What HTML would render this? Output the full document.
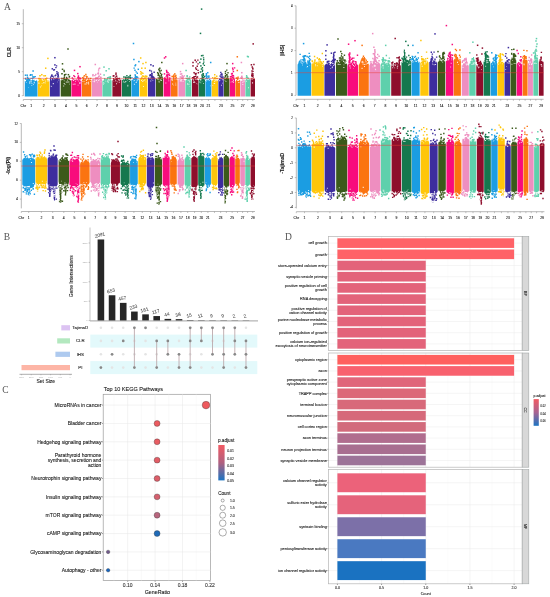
<!DOCTYPE html><html><head><meta charset="utf-8"><style>html,body{margin:0;padding:0;background:#fff;width:550px;height:597px;overflow:hidden;font-family:"Liberation Sans",sans-serif}</style></head><body><svg width="550" height="597" viewBox="0 0 550 597" style="display:block;will-change:transform">
<rect width="550" height="597" fill="#fff"/>
<text x="7.5" y="10.3" font-size="9.5" text-anchor="middle" fill="#555" font-family="Liberation Serif, serif" >A</text>
<line x1="23.3" y1="9.2" x2="23.3" y2="96" stroke="#888" stroke-width="0.6"/>
<line x1="21.8" y1="95.7" x2="23.3" y2="95.7" stroke="#888" stroke-width="0.5"/>
<text x="19.8" y="96.7" font-size="2.9" text-anchor="end" fill="#222" font-family="Liberation Sans, sans-serif"  stroke="#222" stroke-width="0.1">0</text>
<line x1="21.8" y1="71.7" x2="23.3" y2="71.7" stroke="#888" stroke-width="0.5"/>
<text x="19.8" y="72.7" font-size="2.9" text-anchor="end" fill="#222" font-family="Liberation Sans, sans-serif"  stroke="#222" stroke-width="0.1">5</text>
<line x1="21.8" y1="47.7" x2="23.3" y2="47.7" stroke="#888" stroke-width="0.5"/>
<text x="19.8" y="48.7" font-size="2.9" text-anchor="end" fill="#222" font-family="Liberation Sans, sans-serif"  stroke="#222" stroke-width="0.1">10</text>
<line x1="21.8" y1="23.7" x2="23.3" y2="23.7" stroke="#888" stroke-width="0.5"/>
<text x="19.8" y="24.7" font-size="2.9" text-anchor="end" fill="#222" font-family="Liberation Sans, sans-serif"  stroke="#222" stroke-width="0.1">15</text>
<line x1="23.3" y1="99.5" x2="255" y2="99.5" stroke="#888" stroke-width="0.6"/>
<line x1="23.3" y1="99.5" x2="23.3" y2="101" stroke="#888" stroke-width="0.5"/>
<text x="23.3" y="106.8" font-size="3.4" text-anchor="middle" fill="#222" font-family="Liberation Sans, sans-serif"  stroke="#222" stroke-width="0.1">Chr</text>
<line x1="31.15" y1="99.5" x2="31.15" y2="101" stroke="#888" stroke-width="0.5"/>
<text x="31.15" y="106.8" font-size="3.4" text-anchor="middle" fill="#222" font-family="Liberation Sans, sans-serif"  stroke="#222" stroke-width="0.1">1</text>
<line x1="43.65" y1="99.5" x2="43.65" y2="101" stroke="#888" stroke-width="0.5"/>
<text x="43.65" y="106.8" font-size="3.4" text-anchor="middle" fill="#222" font-family="Liberation Sans, sans-serif"  stroke="#222" stroke-width="0.1">2</text>
<line x1="54.85" y1="99.5" x2="54.85" y2="101" stroke="#888" stroke-width="0.5"/>
<text x="54.85" y="106.8" font-size="3.4" text-anchor="middle" fill="#222" font-family="Liberation Sans, sans-serif"  stroke="#222" stroke-width="0.1">3</text>
<line x1="65.85" y1="99.5" x2="65.85" y2="101" stroke="#888" stroke-width="0.5"/>
<text x="65.85" y="106.8" font-size="3.4" text-anchor="middle" fill="#222" font-family="Liberation Sans, sans-serif"  stroke="#222" stroke-width="0.1">4</text>
<line x1="76.4" y1="99.5" x2="76.4" y2="101" stroke="#888" stroke-width="0.5"/>
<text x="76.4" y="106.8" font-size="3.4" text-anchor="middle" fill="#222" font-family="Liberation Sans, sans-serif"  stroke="#222" stroke-width="0.1">5</text>
<line x1="86.7" y1="99.5" x2="86.7" y2="101" stroke="#888" stroke-width="0.5"/>
<text x="86.7" y="106.8" font-size="3.4" text-anchor="middle" fill="#222" font-family="Liberation Sans, sans-serif"  stroke="#222" stroke-width="0.1">6</text>
<line x1="97" y1="99.5" x2="97" y2="101" stroke="#888" stroke-width="0.5"/>
<text x="97" y="106.8" font-size="3.4" text-anchor="middle" fill="#222" font-family="Liberation Sans, sans-serif"  stroke="#222" stroke-width="0.1">7</text>
<line x1="107" y1="99.5" x2="107" y2="101" stroke="#888" stroke-width="0.5"/>
<text x="107" y="106.8" font-size="3.4" text-anchor="middle" fill="#222" font-family="Liberation Sans, sans-serif"  stroke="#222" stroke-width="0.1">8</text>
<line x1="116.9" y1="99.5" x2="116.9" y2="101" stroke="#888" stroke-width="0.5"/>
<text x="116.9" y="106.8" font-size="3.4" text-anchor="middle" fill="#222" font-family="Liberation Sans, sans-serif"  stroke="#222" stroke-width="0.1">9</text>
<line x1="126.5" y1="99.5" x2="126.5" y2="101" stroke="#888" stroke-width="0.5"/>
<text x="126.5" y="106.8" font-size="3.4" text-anchor="middle" fill="#222" font-family="Liberation Sans, sans-serif"  stroke="#222" stroke-width="0.1">10</text>
<line x1="135.2" y1="99.5" x2="135.2" y2="101" stroke="#888" stroke-width="0.5"/>
<text x="135.2" y="106.8" font-size="3.4" text-anchor="middle" fill="#222" font-family="Liberation Sans, sans-serif"  stroke="#222" stroke-width="0.1">11</text>
<line x1="143.5" y1="99.5" x2="143.5" y2="101" stroke="#888" stroke-width="0.5"/>
<text x="143.5" y="106.8" font-size="3.4" text-anchor="middle" fill="#222" font-family="Liberation Sans, sans-serif"  stroke="#222" stroke-width="0.1">12</text>
<line x1="151.7" y1="99.5" x2="151.7" y2="101" stroke="#888" stroke-width="0.5"/>
<text x="151.7" y="106.8" font-size="3.4" text-anchor="middle" fill="#222" font-family="Liberation Sans, sans-serif"  stroke="#222" stroke-width="0.1">13</text>
<line x1="159.5" y1="99.5" x2="159.5" y2="101" stroke="#888" stroke-width="0.5"/>
<text x="159.5" y="106.8" font-size="3.4" text-anchor="middle" fill="#222" font-family="Liberation Sans, sans-serif"  stroke="#222" stroke-width="0.1">14</text>
<line x1="167.1" y1="99.5" x2="167.1" y2="101" stroke="#888" stroke-width="0.5"/>
<text x="167.1" y="106.8" font-size="3.4" text-anchor="middle" fill="#222" font-family="Liberation Sans, sans-serif"  stroke="#222" stroke-width="0.1">15</text>
<line x1="174.3" y1="99.5" x2="174.3" y2="101" stroke="#888" stroke-width="0.5"/>
<text x="174.3" y="106.8" font-size="3.4" text-anchor="middle" fill="#222" font-family="Liberation Sans, sans-serif"  stroke="#222" stroke-width="0.1">16</text>
<line x1="181.7" y1="99.5" x2="181.7" y2="101" stroke="#888" stroke-width="0.5"/>
<text x="181.7" y="106.8" font-size="3.4" text-anchor="middle" fill="#222" font-family="Liberation Sans, sans-serif"  stroke="#222" stroke-width="0.1">17</text>
<line x1="188.4" y1="99.5" x2="188.4" y2="101" stroke="#888" stroke-width="0.5"/>
<text x="188.4" y="106.8" font-size="3.4" text-anchor="middle" fill="#222" font-family="Liberation Sans, sans-serif"  stroke="#222" stroke-width="0.1">18</text>
<line x1="195.2" y1="99.5" x2="195.2" y2="101" stroke="#888" stroke-width="0.5"/>
<text x="195.2" y="106.8" font-size="3.4" text-anchor="middle" fill="#222" font-family="Liberation Sans, sans-serif"  stroke="#222" stroke-width="0.1">19</text>
<line x1="201.9" y1="99.5" x2="201.9" y2="101" stroke="#888" stroke-width="0.5"/>
<text x="201.9" y="106.8" font-size="3.4" text-anchor="middle" fill="#222" font-family="Liberation Sans, sans-serif"  stroke="#222" stroke-width="0.1">20</text>
<line x1="208.4" y1="99.5" x2="208.4" y2="101" stroke="#888" stroke-width="0.5"/>
<text x="208.4" y="106.8" font-size="3.4" text-anchor="middle" fill="#222" font-family="Liberation Sans, sans-serif"  stroke="#222" stroke-width="0.1">21</text>
<line x1="214.9" y1="99.5" x2="214.9" y2="101" stroke="#888" stroke-width="0.5"/>
<line x1="221" y1="99.5" x2="221" y2="101" stroke="#888" stroke-width="0.5"/>
<text x="221" y="106.8" font-size="3.4" text-anchor="middle" fill="#222" font-family="Liberation Sans, sans-serif"  stroke="#222" stroke-width="0.1">23</text>
<line x1="226.7" y1="99.5" x2="226.7" y2="101" stroke="#888" stroke-width="0.5"/>
<line x1="232.4" y1="99.5" x2="232.4" y2="101" stroke="#888" stroke-width="0.5"/>
<text x="232.4" y="106.8" font-size="3.4" text-anchor="middle" fill="#222" font-family="Liberation Sans, sans-serif"  stroke="#222" stroke-width="0.1">25</text>
<line x1="237.7" y1="99.5" x2="237.7" y2="101" stroke="#888" stroke-width="0.5"/>
<line x1="242.7" y1="99.5" x2="242.7" y2="101" stroke="#888" stroke-width="0.5"/>
<text x="242.7" y="106.8" font-size="3.4" text-anchor="middle" fill="#222" font-family="Liberation Sans, sans-serif"  stroke="#222" stroke-width="0.1">27</text>
<line x1="247.7" y1="99.5" x2="247.7" y2="101" stroke="#888" stroke-width="0.5"/>
<line x1="252.8" y1="99.5" x2="252.8" y2="101" stroke="#888" stroke-width="0.5"/>
<text x="252.8" y="106.8" font-size="3.4" text-anchor="middle" fill="#222" font-family="Liberation Sans, sans-serif"  stroke="#222" stroke-width="0.1">29</text>
<path d="M24.8 80.85 L25.4 81.52 L26 80.9 L26.6 79.61 L27.2 79.99 L27.8 79.92 L28.4 80.24 L29 80.46 L29.6 79.35 L30.2 79.25 L30.8 80.54 L31.4 79.89 L32 80.42 L32.6 79.2 L33.2 79.91 L33.8 80.35 L34.4 79.57 L35 80.71 L35.6 80.64 L36.2 79.65 L36.8 80.12 L37.4 81.43 L37.5 82.14 L37.5 96.6 L24.8 96.6zM29.06 78.99h1.4v1.4h-1.4zM24.94 77.87h1.4v1.4h-1.4zM27.19 77.78h1.4v1.4h-1.4zM27.33 78.68h1.4v1.4h-1.4zM27.3 79h1.4v1.4h-1.4zM27.99 77.78h1.4v1.4h-1.4zM24.85 78.37h1.4v1.4h-1.4zM32.11 77.78h1.4v1.4h-1.4zM26.78 76.53h1.4v1.4h-1.4zM26.01 79.17h1.4v1.4h-1.4zM28.49 78.91h1.4v1.4h-1.4zM29.54 74.58h1.4v1.4h-1.4zM32.44 76.69h1.4v1.4h-1.4zM31.47 74.37h1.4v1.4h-1.4zM34.5 75.88h1.4v1.4h-1.4zM29.97 74.04h1.4v1.4h-1.4zM32.26 75.88h1.4v1.4h-1.4zM30.39 77.68h1.4v1.4h-1.4z" fill="#1B9DE2"/>
<path d="M32.94 84.18h0.94v0.94h-0.94zM29.26 82.82h0.99v0.99h-0.99zM30.98 80.94h0.8v0.8h-0.8zM30.56 80.4h0.95v0.95h-0.95zM36.07 79.72h0.9v0.9h-0.9zM29.42 81.15h1.09v1.09h-1.09zM33.72 82.67h0.87v0.87h-0.87zM34.61 79.86h1.08v1.08h-1.08zM31.6 83.17h0.83v0.83h-0.83zM28.29 86.89h0.6v0.6h-0.6zM33.79 81.73h1.01v1.01h-1.01zM35.01 79.9h0.86v0.86h-0.86zM31.42 85.04h0.81v0.81h-0.81zM25.87 82.32h0.7v0.7h-0.7zM30.78 82.42h0.84v0.84h-0.84zM29.1 81.66h0.91v0.91h-0.91z" fill="#fff" fill-opacity="0.85"/>
<path d="M37.9 81.62 L38.5 80.89 L39.1 79.72 L39.7 79.57 L40.3 79.48 L40.9 80.14 L41.5 80.58 L42.1 80.48 L42.7 80.48 L43.3 80.51 L43.9 79.61 L44.5 80.55 L45.1 80.28 L45.7 79.33 L46.3 79.23 L46.9 79.22 L47.5 80.41 L48.1 80 L48.7 80.26 L49.3 81.56 L49.4 81.19 L49.4 96.6 L37.9 96.6zM38.43 77.87h1.4v1.4h-1.4zM39.38 78.46h1.4v1.4h-1.4zM40.57 79.15h1.4v1.4h-1.4zM45.17 78.12h1.4v1.4h-1.4zM42.67 78.95h1.4v1.4h-1.4zM37.95 78.19h1.4v1.4h-1.4zM39.67 78.34h1.4v1.4h-1.4zM38.84 77.95h1.4v1.4h-1.4zM39.9 78.32h1.4v1.4h-1.4zM44.06 79.18h1.4v1.4h-1.4zM39.24 75.02h1.4v1.4h-1.4zM39.38 75.08h1.4v1.4h-1.4zM44.71 75.02h1.4v1.4h-1.4zM46 77.6h1.4v1.4h-1.4z" fill="#FFC60A"/>
<path d="M43.46 80.21h0.71v0.71h-0.71zM44.74 82.72h0.76v0.76h-0.76zM44.63 82.1h0.63v0.63h-0.63zM41.28 85.62h0.75v0.75h-0.75zM46.82 80.85h0.76v0.76h-0.76zM47.64 79.76h0.73v0.73h-0.73zM38.26 82.59h1.04v1.04h-1.04zM38.63 82.8h0.89v0.89h-0.89zM39.88 86.44h1.03v1.03h-1.03zM47.95 80.62h0.79v0.79h-0.79zM41.78 83.08h0.7v0.7h-0.7zM45.05 81.47h0.65v0.65h-0.65zM44.92 80.43h0.75v0.75h-0.75zM43.12 82.25h1.05v1.05h-1.05z" fill="#fff" fill-opacity="0.85"/>
<path d="M49.9 78.17 L50.5 77.98 L51.1 77.7 L51.7 78.28 L52.3 77.95 L52.9 77.24 L53.5 77.04 L54.1 77.78 L54.7 78.04 L55.3 78.19 L55.9 77.25 L56.5 78.11 L57.1 77.8 L57.7 77.48 L58.3 78.52 L58.9 77.8 L59.5 79.06 L59.8 78.28 L59.8 96.6 L49.9 96.6zM51.21 74.28h1.4v1.4h-1.4zM57.81 76.26h1.4v1.4h-1.4zM55.04 74.5h1.4v1.4h-1.4zM57.19 75.94h1.4v1.4h-1.4zM52.29 75.86h1.4v1.4h-1.4zM57.42 74.04h1.4v1.4h-1.4zM57.6 74.69h1.4v1.4h-1.4zM50.9 76.18h1.4v1.4h-1.4zM50.05 76.59h1.4v1.4h-1.4zM57.41 72.25h1.4v1.4h-1.4zM57.07 74.04h1.4v1.4h-1.4zM55.86 65.18h1.4v1.4h-1.4zM55.23 66.94h1.4v1.4h-1.4zM53.76 68.9h1.4v1.4h-1.4zM56.19 71.11h1.4v1.4h-1.4zM56.29 72.92h1.4v1.4h-1.4zM54.35 75.17h1.4v1.4h-1.4z" fill="#3D2D9E"/>
<path d="M57.25 81.63h0.65v0.65h-0.65zM51.13 77.33h1.04v1.04h-1.04zM50.63 77.68h0.81v0.81h-0.81zM51.32 86.08h0.68v0.68h-0.68zM52.18 77.02h1.06v1.06h-1.06zM53.3 78.35h1.09v1.09h-1.09zM57.83 77.71h0.84v0.84h-0.84zM51.07 79.24h0.93v0.93h-0.93zM50.65 85.65h0.75v0.75h-0.75zM55.24 77.65h0.82v0.82h-0.82zM52.76 83.08h1.08v1.08h-1.08zM58.42 79.73h0.66v0.66h-0.66z" fill="#fff" fill-opacity="0.85"/>
<path d="M60.7 79.98 L61.3 80.15 L61.9 80.25 L62.5 79.07 L63.1 79.3 L63.7 79.26 L64.3 78.61 L64.9 79.07 L65.5 78.69 L66.1 78.59 L66.7 78.33 L67.3 78.65 L67.9 79.77 L68.5 78.92 L69.1 79.24 L69.7 79.63 L70.3 80.59 L70.9 80.18 L71 80.13 L71 96.6 L60.7 96.6zM63.54 77.2h1.4v1.4h-1.4zM68.81 75.82h1.4v1.4h-1.4zM63.32 77.41h1.4v1.4h-1.4zM65.88 76.79h1.4v1.4h-1.4zM66.04 78.29h1.4v1.4h-1.4zM62.77 78.02h1.4v1.4h-1.4zM61.17 77.79h1.4v1.4h-1.4zM61.2 78.13h1.4v1.4h-1.4zM66.41 77.67h1.4v1.4h-1.4zM68.52 76.28h1.4v1.4h-1.4zM65.16 73.72h1.4v1.4h-1.4zM61.22 73.1h1.4v1.4h-1.4zM63.4 69.78h1.4v1.4h-1.4zM63.53 70.92h1.4v1.4h-1.4zM61.39 72.91h1.4v1.4h-1.4zM63.83 74.49h1.4v1.4h-1.4zM63.75 76.14h1.4v1.4h-1.4z" fill="#3B5A1B"/>
<path d="M69.11 83.84h0.62v0.62h-0.62zM63.72 82.91h1.05v1.05h-1.05zM68.33 81.61h0.97v0.97h-0.97zM67.16 80.05h0.68v0.68h-0.68zM67.25 81.41h0.93v0.93h-0.93zM63.2 85.59h1v1h-1zM65.84 81.6h0.87v0.87h-0.87zM68.52 81.5h0.77v0.77h-0.77zM63.44 79.56h0.61v0.61h-0.61zM66.81 82.06h0.63v0.63h-0.63zM64.25 80.62h0.67v0.67h-0.67zM62.19 78.92h0.8v0.8h-0.8zM64.54 84.18h0.91v0.91h-0.91z" fill="#fff" fill-opacity="0.85"/>
<path d="M71.4 80.51 L72 79.67 L72.6 80.03 L73.2 79.5 L73.8 79.74 L74.4 79.4 L75 79.8 L75.6 79.87 L76.2 79.08 L76.8 79.49 L77.4 79.47 L78 79.06 L78.6 79.36 L79.2 79.6 L79.8 80.31 L80.4 80.81 L81 80.26 L81.4 81.17 L81.4 96.6 L71.4 96.6zM71.63 77.29h1.4v1.4h-1.4zM79.1 78.07h1.4v1.4h-1.4zM72.64 78.51h1.4v1.4h-1.4zM74.01 75.91h1.4v1.4h-1.4zM77.43 78.01h1.4v1.4h-1.4zM77.51 77.7h1.4v1.4h-1.4zM77.83 76.52h1.4v1.4h-1.4zM79.27 77.26h1.4v1.4h-1.4zM79.84 78.01h1.4v1.4h-1.4zM73.16 75.12h1.4v1.4h-1.4zM78.02 77.19h1.4v1.4h-1.4zM77.73 75.15h1.4v1.4h-1.4zM77.13 76.71h1.4v1.4h-1.4z" fill="#F80C7C"/>
<path d="M78.02 80h0.62v0.62h-0.62zM80.08 80.64h0.73v0.73h-0.73zM79.33 82.9h1.08v1.08h-1.08zM72.9 79.96h0.93v0.93h-0.93zM77.67 84.78h0.82v0.82h-0.82zM79.46 81.9h1v1h-1zM75.5 79.69h0.68v0.68h-0.68zM74.39 83.56h1.08v1.08h-1.08zM72.75 83.73h0.9v0.9h-0.9zM75.27 80.99h0.72v0.72h-0.72zM78.2 80.9h0.6v0.6h-0.6zM73.34 79.62h0.91v0.91h-0.91zM76.78 79.22h1.02v1.02h-1.02z" fill="#fff" fill-opacity="0.85"/>
<path d="M82 79.97 L82.6 79.62 L83.2 79.55 L83.8 78.64 L84.4 79.14 L85 78.6 L85.6 79.29 L86.2 79.47 L86.8 79.49 L87.4 79.76 L88 79.07 L88.6 78.99 L89.2 79.57 L89.8 79.59 L90.4 79.75 L91 79.93 L91.4 80.09 L91.4 96.6 L82 96.6zM82.71 78.05h1.4v1.4h-1.4zM88.08 77.64h1.4v1.4h-1.4zM86.38 75.99h1.4v1.4h-1.4zM89.98 77.78h1.4v1.4h-1.4zM82.95 76.47h1.4v1.4h-1.4zM84.41 78.3h1.4v1.4h-1.4zM86.03 77.23h1.4v1.4h-1.4zM81.81 76.96h1.4v1.4h-1.4zM85.58 75.68h1.4v1.4h-1.4zM85.15 73.77h1.4v1.4h-1.4z" fill="#FB7410"/>
<path d="M87.74 82.93h0.79v0.79h-0.79zM84.09 78.91h0.6v0.6h-0.6zM84.46 83.55h1.01v1.01h-1.01zM86.24 82.04h1.09v1.09h-1.09zM85.91 80.07h0.97v0.97h-0.97zM90.13 81.28h0.75v0.75h-0.75zM83.74 81.3h0.78v0.78h-0.78zM82.43 81.13h0.79v0.79h-0.79zM85.68 83.49h0.89v0.89h-0.89zM88 81.82h1.05v1.05h-1.05zM88.18 83.5h0.92v0.92h-0.92zM87.4 78.77h0.91v0.91h-0.91z" fill="#fff" fill-opacity="0.85"/>
<path d="M92 79.29 L92.6 79.17 L93.2 78.69 L93.8 78.7 L94.4 78.45 L95 78.55 L95.6 78.43 L96.2 78.5 L96.8 78.17 L97.4 77.76 L98 77.62 L98.6 78.33 L99.2 78.6 L99.8 78.07 L100.4 77.6 L101 79.17 L101.6 79.1 L102 79.39 L102 96.6 L92 96.6zM92.21 74.99h1.4v1.4h-1.4zM95.6 77.15h1.4v1.4h-1.4zM95 77.15h1.4v1.4h-1.4zM96.36 77.07h1.4v1.4h-1.4zM100.32 76.78h1.4v1.4h-1.4zM98 75.98h1.4v1.4h-1.4zM97.24 77.06h1.4v1.4h-1.4zM99.77 76.38h1.4v1.4h-1.4zM94.22 74.95h1.4v1.4h-1.4zM95.11 73.85h1.4v1.4h-1.4zM98.43 75.23h1.4v1.4h-1.4zM97.68 73.05h1.4v1.4h-1.4zM98 68.41h1.4v1.4h-1.4zM97.89 70.16h1.4v1.4h-1.4zM97.71 72.19h1.4v1.4h-1.4zM99.79 73.53h1.4v1.4h-1.4zM97.86 75.96h1.4v1.4h-1.4z" fill="#EE8EC0"/>
<path d="M98.23 80.05h1.02v1.02h-1.02zM92.68 81h0.76v0.76h-0.76zM95.94 79.98h0.98v0.98h-0.98zM99.06 79.21h0.68v0.68h-0.68zM100.56 81.5h0.82v0.82h-0.82zM100.1 78.19h0.73v0.73h-0.73zM96.89 81.72h0.67v0.67h-0.67zM93.47 78.12h0.98v0.98h-0.98zM94.34 80.29h0.96v0.96h-0.96zM98.44 78.09h0.8v0.8h-0.8zM96.61 79.01h0.65v0.65h-0.65zM93.85 81.28h1.04v1.04h-1.04zM94.31 79.07h0.62v0.62h-0.62z" fill="#fff" fill-opacity="0.85"/>
<path d="M102.4 80.77 L103 80.46 L103.6 80.22 L104.2 79.18 L104.8 78.75 L105.4 79.54 L106 78.39 L106.6 79.31 L107.2 78.35 L107.8 78.84 L108.4 78.99 L109 78.8 L109.6 78.47 L110.2 78.89 L110.8 80.31 L111.4 80.22 L111.6 80.57 L111.6 96.6 L102.4 96.6zM103.94 78.03h1.4v1.4h-1.4zM107.07 77.08h1.4v1.4h-1.4zM109.66 77.87h1.4v1.4h-1.4zM108.74 78.28h1.4v1.4h-1.4zM109.23 77.72h1.4v1.4h-1.4zM106.96 77.05h1.4v1.4h-1.4zM109.73 75.97h1.4v1.4h-1.4zM108.42 76.6h1.4v1.4h-1.4zM109.69 76.84h1.4v1.4h-1.4zM103.39 74.24h1.4v1.4h-1.4z" fill="#5ED0AC"/>
<path d="M103.22 79.73h0.83v0.83h-0.83zM109.06 79.56h1.05v1.05h-1.05zM103.16 84.02h0.62v0.62h-0.62zM104.95 80.82h0.66v0.66h-0.66zM103.41 82.72h0.97v0.97h-0.97zM107.91 79.23h1.02v1.02h-1.02zM107.7 81.72h1.08v1.08h-1.08zM107.72 81.35h0.72v0.72h-0.72zM103.27 82.29h0.77v0.77h-0.77zM107.36 80.15h0.88v0.88h-0.88zM106.77 81.2h0.81v0.81h-0.81z" fill="#fff" fill-opacity="0.85"/>
<path d="M112.4 79.96 L113 80.57 L113.6 79.36 L114.2 79.26 L114.8 79.34 L115.4 79.39 L116 79.35 L116.6 79.4 L117.2 78.6 L117.8 79.76 L118.4 78.44 L119 79.67 L119.6 79.57 L120.2 80.04 L120.8 79.24 L121.4 79.79 L121.4 96.6 L112.4 96.6zM118.7 77.81h1.4v1.4h-1.4zM115.95 75.52h1.4v1.4h-1.4zM112.52 75.35h1.4v1.4h-1.4zM116.45 77.61h1.4v1.4h-1.4zM115.36 78.04h1.4v1.4h-1.4zM117.86 78.07h1.4v1.4h-1.4zM116.4 78.09h1.4v1.4h-1.4zM112.92 78.12h1.4v1.4h-1.4zM115.27 73.97h1.4v1.4h-1.4zM114.71 76.38h1.4v1.4h-1.4z" fill="#8E0E2C"/>
<path d="M118.58 79.71h1v1h-1zM119.17 79.68h0.72v0.72h-0.72zM116.94 81.59h0.77v0.77h-0.77zM115.26 80.13h0.89v0.89h-0.89zM113.51 85.88h0.93v0.93h-0.93zM116.01 83.26h1.02v1.02h-1.02zM117.96 78.93h0.87v0.87h-0.87zM119.5 79.88h0.68v0.68h-0.68zM115.51 80.74h0.86v0.86h-0.86zM113.61 80.9h0.62v0.62h-0.62zM118.77 81.78h0.93v0.93h-0.93z" fill="#fff" fill-opacity="0.85"/>
<path d="M122 80.14 L122.6 79.64 L123.2 79.24 L123.8 78.72 L124.4 79.4 L125 79 L125.6 79.04 L126.2 78.44 L126.8 79.66 L127.4 78.72 L128 78.72 L128.6 78.31 L129.2 79.77 L129.8 79.45 L130.4 80.62 L131 81.12 L131 96.6 L122 96.6zM129.56 77.02h1.4v1.4h-1.4zM129.18 75.38h1.4v1.4h-1.4zM128.21 77.17h1.4v1.4h-1.4zM126.4 77.02h1.4v1.4h-1.4zM129.74 77.84h1.4v1.4h-1.4zM127.77 76.17h1.4v1.4h-1.4zM124.69 76.42h1.4v1.4h-1.4zM125.02 77.59h1.4v1.4h-1.4zM129.64 74.77h1.4v1.4h-1.4zM123.14 76.31h1.4v1.4h-1.4z" fill="#15784E"/>
<path d="M127.54 84.69h0.69v0.69h-0.69zM125.36 81.03h0.96v0.96h-0.96zM122.8 81.69h0.73v0.73h-0.73zM123.23 80.83h0.73v0.73h-0.73zM127.16 79.88h0.64v0.64h-0.64zM128.63 78.74h0.92v0.92h-0.92zM123.69 79.02h0.78v0.78h-0.78zM128.59 79h0.96v0.96h-0.96zM124.38 81.63h1.03v1.03h-1.03zM129 81.15h0.81v0.81h-0.81zM127.3 85.44h1v1h-1z" fill="#fff" fill-opacity="0.85"/>
<path d="M131.4 80.3 L132 79.96 L132.6 79.78 L133.2 78.11 L133.8 78.02 L134.4 78.89 L135 78.93 L135.6 78.52 L136.2 78.48 L136.8 78.35 L137.4 79.27 L138 79.61 L138.6 79.76 L139 79.2 L139 96.6 L131.4 96.6zM136.82 76.87h1.4v1.4h-1.4zM134.23 77.36h1.4v1.4h-1.4zM135.76 76.7h1.4v1.4h-1.4zM131.24 76.93h1.4v1.4h-1.4zM137.06 76.99h1.4v1.4h-1.4zM136.13 76.08h1.4v1.4h-1.4zM134.97 77.48h1.4v1.4h-1.4zM134.67 74.23h1.4v1.4h-1.4zM136.6 72.59h1.4v1.4h-1.4zM134.41 65.11h1.4v1.4h-1.4zM133.43 67.39h1.4v1.4h-1.4zM134.28 69.52h1.4v1.4h-1.4zM135.45 71.21h1.4v1.4h-1.4zM134.43 74.13h1.4v1.4h-1.4zM134.73 75.78h1.4v1.4h-1.4z" fill="#1B9DE2"/>
<path d="M133.89 83.73h1.05v1.05h-1.05zM135.69 82.04h1.05v1.05h-1.05zM137.33 79.76h0.83v0.83h-0.83zM136.58 80.53h0.79v0.79h-0.79zM136.28 80.79h0.83v0.83h-0.83zM132.51 78.43h0.78v0.78h-0.78zM134.33 79.97h0.73v0.73h-0.73zM136.9 78.26h0.89v0.89h-0.89zM133.49 80.39h0.86v0.86h-0.86z" fill="#fff" fill-opacity="0.85"/>
<path d="M139.6 79.32 L140.2 78.77 L140.8 77.87 L141.4 77.94 L142 77.48 L142.6 77.84 L143.2 77.49 L143.8 78.25 L144.4 77.85 L145 76.85 L145.6 76.91 L146.2 78.73 L146.8 78.03 L147.4 78.18 L147.4 96.6 L139.6 96.6zM141.12 76.78h1.4v1.4h-1.4zM142.66 75.45h1.4v1.4h-1.4zM144.32 76.38h1.4v1.4h-1.4zM145.07 75.17h1.4v1.4h-1.4zM146.17 75.78h1.4v1.4h-1.4zM143.14 75.54h1.4v1.4h-1.4zM145.83 76.52h1.4v1.4h-1.4zM140.1 73.19h1.4v1.4h-1.4zM142.25 72.71h1.4v1.4h-1.4zM140.04 71.08h1.4v1.4h-1.4zM140.68 73.43h1.4v1.4h-1.4zM141.81 75.25h1.4v1.4h-1.4z" fill="#FFC60A"/>
<path d="M144.13 79.58h0.93v0.93h-0.93zM141.8 78.63h0.85v0.85h-0.85zM145.69 81.56h0.65v0.65h-0.65zM142.27 80.9h1.05v1.05h-1.05zM141.13 80.07h1.04v1.04h-1.04zM146.18 77.53h0.74v0.74h-0.74zM143.1 80.12h0.71v0.71h-0.71zM144.73 79.42h0.77v0.77h-0.77zM142.95 86.03h0.93v0.93h-0.93zM145.6 77.44h1.08v1.08h-1.08z" fill="#fff" fill-opacity="0.85"/>
<path d="M148 77.57 L148.6 77.52 L149.2 76.88 L149.8 76.92 L150.4 77.05 L151 76.07 L151.6 76.14 L152.2 76.83 L152.8 76.36 L153.4 75.91 L154 76.33 L154.6 77.4 L155.2 77.94 L155.4 78.68 L155.4 96.6 L148 96.6zM151.21 75.18h1.4v1.4h-1.4zM150.45 75.3h1.4v1.4h-1.4zM149.59 75.43h1.4v1.4h-1.4zM149.17 74.76h1.4v1.4h-1.4zM150.15 74.55h1.4v1.4h-1.4zM151.68 75.57h1.4v1.4h-1.4zM153.43 71.62h1.4v1.4h-1.4zM151.22 74.17h1.4v1.4h-1.4zM150.7 70.45h1.4v1.4h-1.4zM151.07 72.52h1.4v1.4h-1.4zM149.58 73.96h1.4v1.4h-1.4z" fill="#3D2D9E"/>
<path d="M150.35 77.28h0.73v0.73h-0.73zM148.88 77.25h0.87v0.87h-0.87zM152.52 80.35h0.71v0.71h-0.71zM149.51 77.82h0.88v0.88h-0.88zM153.62 76.44h0.61v0.61h-0.61zM150.12 76.18h0.91v0.91h-0.91zM148.74 76.68h1.09v1.09h-1.09zM150.33 80.52h0.9v0.9h-0.9zM151.47 78.82h0.67v0.67h-0.67z" fill="#fff" fill-opacity="0.85"/>
<path d="M156 78.54 L156.6 78.89 L157.2 78.27 L157.8 76.77 L158.4 76.82 L159 77.86 L159.6 76.87 L160.2 77.21 L160.8 77.13 L161.4 76.94 L162 77.39 L162.6 78.04 L163 78.78 L163 96.6 L156 96.6zM161.4 76.62h1.4v1.4h-1.4zM159.63 76.69h1.4v1.4h-1.4zM157.44 74.69h1.4v1.4h-1.4zM158.89 75.31h1.4v1.4h-1.4zM157.91 73.73h1.4v1.4h-1.4zM160.62 75.1h1.4v1.4h-1.4zM161.02 73.78h1.4v1.4h-1.4zM159.87 72.92h1.4v1.4h-1.4zM159.12 67.54h1.4v1.4h-1.4zM158.61 69.76h1.4v1.4h-1.4zM159.33 71.27h1.4v1.4h-1.4zM157.59 73.09h1.4v1.4h-1.4zM157.95 74.66h1.4v1.4h-1.4z" fill="#3B5A1B"/>
<path d="M158.71 81.54h0.87v0.87h-0.87zM157.73 77.57h0.84v0.84h-0.84zM158.65 80.83h0.65v0.65h-0.65zM158.38 79.19h0.87v0.87h-0.87zM160.88 80.12h0.96v0.96h-0.96zM160.03 79.56h0.94v0.94h-0.94zM157.11 77.46h1.06v1.06h-1.06zM157.06 78.51h1.02v1.02h-1.02zM161 78.56h0.77v0.77h-0.77z" fill="#fff" fill-opacity="0.85"/>
<path d="M163.6 78.56 L164.2 76.92 L164.8 77.54 L165.4 76.31 L166 76.4 L166.6 75.89 L167.2 76.66 L167.8 76.13 L168.4 76.77 L169 77.14 L169.6 77.31 L170.2 76.83 L170.6 78.66 L170.6 96.6 L163.6 96.6zM168.92 74.95h1.4v1.4h-1.4zM166.77 74.73h1.4v1.4h-1.4zM168.7 73.44h1.4v1.4h-1.4zM166.99 75.19h1.4v1.4h-1.4zM165.93 74.49h1.4v1.4h-1.4zM167.03 75.22h1.4v1.4h-1.4zM166.22 74.25h1.4v1.4h-1.4zM165.84 69.84h1.4v1.4h-1.4zM166.17 71.77h1.4v1.4h-1.4zM167.36 73.82h1.4v1.4h-1.4z" fill="#F80C7C"/>
<path d="M165.4 82.57h0.93v0.93h-0.93zM168.23 76.67h1.01v1.01h-1.01zM165.28 76.85h0.88v0.88h-0.88zM165.99 78.23h0.68v0.68h-0.68zM168.08 78.23h1.04v1.04h-1.04zM165.81 77.34h0.93v0.93h-0.93zM169.37 76.23h0.82v0.82h-0.82zM166.06 77.13h0.75v0.75h-0.75zM168.35 80.38h0.92v0.92h-0.92z" fill="#fff" fill-opacity="0.85"/>
<path d="M171 79.97 L171.6 78.75 L172.2 79.26 L172.8 79.13 L173.4 77.98 L174 78.73 L174.6 78.48 L175.2 78.25 L175.8 78.84 L176.4 79.74 L177 78.69 L177.6 80.58 L177.6 96.6 L171 96.6zM172.95 77.01h1.4v1.4h-1.4zM175.47 76.79h1.4v1.4h-1.4zM171.36 75.82h1.4v1.4h-1.4zM172.68 75.79h1.4v1.4h-1.4zM175.19 77.42h1.4v1.4h-1.4zM173.38 76.2h1.4v1.4h-1.4zM174.85 75.62h1.4v1.4h-1.4zM173.27 74.23h1.4v1.4h-1.4zM175.18 74.64h1.4v1.4h-1.4zM172.85 75.93h1.4v1.4h-1.4z" fill="#FB7410"/>
<path d="M172.04 78.82h0.61v0.61h-0.61zM171.71 80.12h0.93v0.93h-0.93zM175.42 82.79h0.74v0.74h-0.74zM172.04 83.49h1.07v1.07h-1.07zM171.49 79.08h0.8v0.8h-0.8zM174.53 78.64h0.87v0.87h-0.87zM173.45 84.8h0.6v0.6h-0.6zM175.35 84.54h0.93v0.93h-0.93z" fill="#fff" fill-opacity="0.85"/>
<path d="M178.4 79.69 L179 79.04 L179.6 79.42 L180.2 79.2 L180.8 79.24 L181.4 77.98 L182 78.64 L182.6 78.52 L183.2 78.38 L183.8 79.45 L184.4 80.16 L185 80.3 L185 96.6 L178.4 96.6zM182.12 77.46h1.4v1.4h-1.4zM182.07 76.81h1.4v1.4h-1.4zM179.59 76.37h1.4v1.4h-1.4zM182.57 76.33h1.4v1.4h-1.4zM180.37 76.43h1.4v1.4h-1.4zM181.34 76.79h1.4v1.4h-1.4zM179.54 76.35h1.4v1.4h-1.4zM183.55 75.15h1.4v1.4h-1.4zM179.81 73.39h1.4v1.4h-1.4zM181.53 75.01h1.4v1.4h-1.4zM179.52 76.33h1.4v1.4h-1.4z" fill="#EE8EC0"/>
<path d="M181.02 80.73h0.85v0.85h-0.85zM180.89 79.59h0.79v0.79h-0.79zM179.7 80.61h1.01v1.01h-1.01zM180.49 80.24h1.02v1.02h-1.02zM182.65 81.21h0.91v0.91h-0.91zM182.49 78.99h0.73v0.73h-0.73zM180.58 79.56h0.74v0.74h-0.74zM181.18 79.08h0.73v0.73h-0.73z" fill="#fff" fill-opacity="0.85"/>
<path d="M185.4 79.95 L186 80.44 L186.6 79.54 L187.2 78.52 L187.8 78.89 L188.4 79.6 L189 79.12 L189.6 79.09 L190.2 79.31 L190.8 79.47 L191.4 80.64 L191.4 96.6 L185.4 96.6zM185.59 77.7h1.4v1.4h-1.4zM189.13 76.13h1.4v1.4h-1.4zM187.11 77.48h1.4v1.4h-1.4zM188.61 77.68h1.4v1.4h-1.4zM187.89 77.9h1.4v1.4h-1.4zM186.41 75.37h1.4v1.4h-1.4z" fill="#5ED0AC"/>
<path d="M187.07 83.26h0.78v0.78h-0.78zM189.53 86.15h0.71v0.71h-0.71zM189 80.82h0.64v0.64h-0.64zM189.49 81.68h0.7v0.7h-0.7zM187.79 79.92h0.9v0.9h-0.9zM188.42 83.81h0.98v0.98h-0.98zM186.94 83.88h0.76v0.76h-0.76zM189.23 80.48h1.08v1.08h-1.08z" fill="#fff" fill-opacity="0.85"/>
<path d="M192 80.15 L192.6 78.83 L193.2 79.55 L193.8 78.71 L194.4 78.09 L195 78.03 L195.6 78.51 L196.2 77.89 L196.8 79.31 L197.4 79.47 L198 80.13 L198.4 79.75 L198.4 96.6 L192 96.6zM196.79 76.32h1.4v1.4h-1.4zM193.17 76.14h1.4v1.4h-1.4zM191.82 77.12h1.4v1.4h-1.4zM195.92 77.15h1.4v1.4h-1.4zM193.84 75.88h1.4v1.4h-1.4zM193.25 77.58h1.4v1.4h-1.4zM195.43 72.71h1.4v1.4h-1.4zM194.52 72.98h1.4v1.4h-1.4zM197.18 59.42h1.4v1.4h-1.4zM195.69 61.13h1.4v1.4h-1.4zM197.36 63.2h1.4v1.4h-1.4zM196.55 65.55h1.4v1.4h-1.4zM195.01 67.35h1.4v1.4h-1.4zM197.34 69.71h1.4v1.4h-1.4zM197.64 72.11h1.4v1.4h-1.4zM195.15 73.91h1.4v1.4h-1.4zM195 75.69h1.4v1.4h-1.4z" fill="#8E0E2C"/>
<path d="M194.57 82.04h0.7v0.7h-0.7zM194.82 79.15h0.86v0.86h-0.86zM193.2 81.87h1.09v1.09h-1.09zM196.21 82.93h0.63v0.63h-0.63zM196.8 83.65h0.69v0.69h-0.69zM192.98 79.44h1.05v1.05h-1.05zM193.62 81.36h1.1v1.1h-1.1zM196.41 79.05h0.8v0.8h-0.8z" fill="#fff" fill-opacity="0.85"/>
<path d="M198.8 80.23 L199.4 79.43 L200 79.03 L200.6 78.23 L201.2 77.83 L201.8 78.65 L202.4 77.95 L203 78.7 L203.6 78.4 L204.2 79.46 L204.8 79.24 L205 79.32 L205 96.6 L198.8 96.6zM201.66 76.97h1.4v1.4h-1.4zM201.66 76.57h1.4v1.4h-1.4zM203.03 76.81h1.4v1.4h-1.4zM202.69 74.54h1.4v1.4h-1.4zM202.63 72.89h1.4v1.4h-1.4zM201.59 75.45h1.4v1.4h-1.4zM201.58 75.84h1.4v1.4h-1.4zM202.24 54.87h1.4v1.4h-1.4zM202.88 57.16h1.4v1.4h-1.4zM202.98 59.04h1.4v1.4h-1.4zM203.13 61.43h1.4v1.4h-1.4zM202.57 63.11h1.4v1.4h-1.4zM203.66 64.64h1.4v1.4h-1.4zM201.71 66.99h1.4v1.4h-1.4zM201.87 69.59h1.4v1.4h-1.4zM201.67 70.83h1.4v1.4h-1.4zM202.18 73.25h1.4v1.4h-1.4zM203.69 75.77h1.4v1.4h-1.4z" fill="#15784E"/>
<path d="M203.07 83.13h0.9v0.9h-0.9zM199.27 81.4h1.01v1.01h-1.01zM200.28 79.1h1.08v1.08h-1.08zM201.81 81.41h0.64v0.64h-0.64zM199.85 79.33h1.07v1.07h-1.07zM200.35 79.64h0.96v0.96h-0.96zM200.46 78.87h0.71v0.71h-0.71zM200.5 82.49h0.75v0.75h-0.75z" fill="#fff" fill-opacity="0.85"/>
<path d="M205.4 81.04 L206 80.72 L206.6 80 L207.2 78.32 L207.8 78.7 L208.4 79.68 L209 79.58 L209.6 78.41 L210.2 79.39 L210.8 79.74 L211.4 80.84 L211.4 96.6 L205.4 96.6zM205.34 78.02h1.4v1.4h-1.4zM206.78 78.3h1.4v1.4h-1.4zM205.4 75.38h1.4v1.4h-1.4zM208.14 76.83h1.4v1.4h-1.4zM207.32 75.87h1.4v1.4h-1.4zM206.19 76.44h1.4v1.4h-1.4zM205.85 74.55h1.4v1.4h-1.4zM205.64 73h1.4v1.4h-1.4zM205.01 75.43h1.4v1.4h-1.4zM205.85 77.1h1.4v1.4h-1.4z" fill="#1B9DE2"/>
<path d="M209.08 80.01h0.6v0.6h-0.6zM210.21 85.53h0.62v0.62h-0.62zM206.82 78.89h0.98v0.98h-0.98zM206.07 78.63h1.01v1.01h-1.01zM205.98 80.65h0.74v0.74h-0.74zM207.97 78.97h0.79v0.79h-0.79zM207.58 79.78h0.69v0.69h-0.69zM208.84 80.25h0.75v0.75h-0.75z" fill="#fff" fill-opacity="0.85"/>
<path d="M211.8 81.63 L212.4 80.34 L213 79.94 L213.6 78.74 L214.2 78.73 L214.8 78.87 L215.4 79.7 L216 79.76 L216.6 80.54 L217.2 80.19 L217.8 81.11 L218 80.69 L218 96.6 L211.8 96.6zM211.99 76.89h1.4v1.4h-1.4zM215.78 77.75h1.4v1.4h-1.4zM216.55 77.91h1.4v1.4h-1.4zM214.46 77.23h1.4v1.4h-1.4zM214.21 76.71h1.4v1.4h-1.4zM216.06 75.6h1.4v1.4h-1.4zM214.05 74.07h1.4v1.4h-1.4z" fill="#FFC60A"/>
<path d="M215.28 79.7h0.86v0.86h-0.86zM214.83 80.54h0.73v0.73h-0.73zM213.58 82.9h0.9v0.9h-0.9zM212.45 85.25h0.72v0.72h-0.72zM214.17 80.69h0.95v0.95h-0.95zM216.46 80.5h0.79v0.79h-0.79zM214.15 83.01h0.92v0.92h-0.92zM213.75 79.1h0.98v0.98h-0.98z" fill="#fff" fill-opacity="0.85"/>
<path d="M218.4 80.33 L219 79.15 L219.6 78.2 L220.2 78.24 L220.8 78.64 L221.4 78.96 L222 79.25 L222.6 78.67 L223.2 78.95 L223.6 79.33 L223.6 96.6 L218.4 96.6zM222.35 77.62h1.4v1.4h-1.4zM220.91 76.32h1.4v1.4h-1.4zM222.23 76.25h1.4v1.4h-1.4zM220.75 77.41h1.4v1.4h-1.4zM221.14 74.24h1.4v1.4h-1.4zM221.42 74.38h1.4v1.4h-1.4zM220.1 71.79h1.4v1.4h-1.4zM220.27 73.96h1.4v1.4h-1.4zM220.39 76.23h1.4v1.4h-1.4z" fill="#3D2D9E"/>
<path d="M219.02 80.27h0.9v0.9h-0.9zM220.97 84.75h0.91v0.91h-0.91zM219.74 79.79h0.68v0.68h-0.68zM222.28 79.28h0.97v0.97h-0.97zM221.99 82.81h0.75v0.75h-0.75zM220.52 78.07h0.94v0.94h-0.94z" fill="#fff" fill-opacity="0.85"/>
<path d="M224 78.19 L224.6 78.25 L225.2 78.07 L225.8 78.1 L226.4 77.52 L227 77.21 L227.6 77.67 L228.2 78.11 L228.8 78.13 L229.4 79.02 L229.4 96.6 L224 96.6zM225.01 75.6h1.4v1.4h-1.4zM224.18 76.71h1.4v1.4h-1.4zM225.96 73.97h1.4v1.4h-1.4zM227.09 76.78h1.4v1.4h-1.4zM227.1 75.7h1.4v1.4h-1.4zM224.81 74.99h1.4v1.4h-1.4zM226.08 69.43h1.4v1.4h-1.4zM227.31 72.03h1.4v1.4h-1.4zM224.75 72.8h1.4v1.4h-1.4zM224.73 75.28h1.4v1.4h-1.4z" fill="#3B5A1B"/>
<path d="M227.72 77.34h0.63v0.63h-0.63zM224.53 79.82h0.61v0.61h-0.61zM224.48 77.78h0.71v0.71h-0.71zM225.2 78.2h0.73v0.73h-0.73zM225.33 80.79h0.71v0.71h-0.71zM227.76 77.36h0.83v0.83h-0.83zM225.66 80.91h0.8v0.8h-0.8z" fill="#fff" fill-opacity="0.85"/>
<path d="M229.8 78.17 L230.4 77.96 L231 78.2 L231.6 77.92 L232.2 77.05 L232.8 76.98 L233.4 78.31 L234 77.5 L234.6 79.09 L235 79.54 L235 96.6 L229.8 96.6zM230.21 76.4h1.4v1.4h-1.4zM229.78 76.11h1.4v1.4h-1.4zM230.8 75.76h1.4v1.4h-1.4zM231.46 75.25h1.4v1.4h-1.4zM232.93 76.44h1.4v1.4h-1.4zM232.73 74.94h1.4v1.4h-1.4zM233.9 67.22h1.4v1.4h-1.4zM232.33 69.11h1.4v1.4h-1.4zM232.74 70.97h1.4v1.4h-1.4zM231.56 72.83h1.4v1.4h-1.4zM232.05 74.79h1.4v1.4h-1.4z" fill="#F80C7C"/>
<path d="M231.72 78.28h1.04v1.04h-1.04zM232.58 81.59h0.79v0.79h-0.79zM231.77 81.12h0.72v0.72h-0.72zM233.14 81.78h0.9v0.9h-0.9zM230.69 81.78h0.64v0.64h-0.64zM232.94 79.75h1.06v1.06h-1.06z" fill="#fff" fill-opacity="0.85"/>
<path d="M235.4 81.63 L236 80.87 L236.6 79.77 L237.2 79.43 L237.8 79.26 L238.4 79.49 L239 80.09 L239.6 79.85 L240 80.34 L240 96.6 L235.4 96.6zM235.8 77.66h1.4v1.4h-1.4zM237.24 77.27h1.4v1.4h-1.4zM235.74 77.21h1.4v1.4h-1.4zM236.85 78.27h1.4v1.4h-1.4zM237.4 76.46h1.4v1.4h-1.4z" fill="#FB7410"/>
<path d="M237.79 80.32h0.69v0.69h-0.69zM238.33 80.23h0.87v0.87h-0.87zM238.33 81.92h1.06v1.06h-1.06zM238.39 79.61h0.69v0.69h-0.69zM237.26 79.99h1.09v1.09h-1.09zM237.84 79.97h1.08v1.08h-1.08z" fill="#fff" fill-opacity="0.85"/>
<path d="M240.4 80.45 L241 80.55 L241.6 80.05 L242.2 79.45 L242.8 79.2 L243.4 79.43 L244 79.39 L244.6 79.51 L245 81.16 L245 96.6 L240.4 96.6zM240.32 77.07h1.4v1.4h-1.4zM241.18 75.56h1.4v1.4h-1.4zM240.96 75.92h1.4v1.4h-1.4zM241.09 77.58h1.4v1.4h-1.4zM241.5 76.7h1.4v1.4h-1.4z" fill="#EE8EC0"/>
<path d="M243.55 80.71h0.95v0.95h-0.95zM240.83 79.93h0.78v0.78h-0.78zM243.54 79.59h0.67v0.67h-0.67zM241.36 79.83h1.05v1.05h-1.05zM242.29 81.8h1.05v1.05h-1.05zM242.38 84.09h0.89v0.89h-0.89z" fill="#fff" fill-opacity="0.85"/>
<path d="M245.4 79.9 L246 79.48 L246.6 78.75 L247.2 78.39 L247.8 77.82 L248.4 78.19 L249 79.56 L249.6 79.03 L250 79.47 L250 96.6 L245.4 96.6zM245.79 76.63h1.4v1.4h-1.4zM246.51 76.54h1.4v1.4h-1.4zM247.39 77.4h1.4v1.4h-1.4zM247.64 77.4h1.4v1.4h-1.4zM245.91 75.03h1.4v1.4h-1.4z" fill="#5ED0AC"/>
<path d="M247.42 78.94h1.02v1.02h-1.02zM247.83 78.69h0.76v0.76h-0.76zM247.33 78.24h0.62v0.62h-0.62zM246.02 80.74h0.67v0.67h-0.67zM246.03 80.97h0.76v0.76h-0.76zM247.97 87.33h0.9v0.9h-0.9z" fill="#fff" fill-opacity="0.85"/>
<path d="M250.6 79.56 L251.2 78.58 L251.8 77.95 L252.4 77.36 L253 76.81 L253.6 77.12 L254.2 78.55 L254.8 79.35 L255 78.17 L255 96.6 L250.6 96.6zM251.01 74.86h1.4v1.4h-1.4zM251.51 75.78h1.4v1.4h-1.4zM251.26 74.35h1.4v1.4h-1.4zM251.44 73.37h1.4v1.4h-1.4zM252.55 75.21h1.4v1.4h-1.4zM253.24 63.82h1.4v1.4h-1.4zM251.53 66.37h1.4v1.4h-1.4zM252.16 68.41h1.4v1.4h-1.4zM252.29 70.63h1.4v1.4h-1.4zM251.43 72.42h1.4v1.4h-1.4zM251.65 74.71h1.4v1.4h-1.4z" fill="#8E0E2C"/>
<path d="M252.47 77.56h1.04v1.04h-1.04zM251.97 82.34h1.09v1.09h-1.09zM251.6 78.8h0.97v0.97h-0.97zM251.67 77.12h0.85v0.85h-0.85zM252.52 77.86h0.95v0.95h-0.95zM253.54 78.15h0.85v0.85h-0.85z" fill="#fff" fill-opacity="0.85"/>
<rect x="24.75" y="74.45" width="1.5" height="1.5" fill="#1B9DE2"/>
<rect x="26.45" y="74.45" width="1.5" height="1.5" fill="#1B9DE2"/>
<rect x="32.35" y="70.25" width="1.5" height="1.5" fill="#1B9DE2"/>
<rect x="33.45" y="76.25" width="1.5" height="1.5" fill="#1B9DE2"/>
<rect x="47.15" y="57.65" width="1.5" height="1.5" fill="#FFC60A"/>
<rect x="44.95" y="67.45" width="1.5" height="1.5" fill="#FFC60A"/>
<rect x="41.05" y="73.95" width="1.5" height="1.5" fill="#FFC60A"/>
<rect x="43.25" y="75.05" width="1.5" height="1.5" fill="#FFC60A"/>
<rect x="54.15" y="56.95" width="1.5" height="1.5" fill="#3D2D9E"/>
<rect x="54.15" y="64.15" width="1.5" height="1.5" fill="#3D2D9E"/>
<rect x="51.55" y="68.05" width="1.5" height="1.5" fill="#3D2D9E"/>
<rect x="53.05" y="69.25" width="1.5" height="1.5" fill="#3D2D9E"/>
<rect x="50.85" y="75.05" width="1.5" height="1.5" fill="#3D2D9E"/>
<rect x="67.25" y="48.25" width="1.5" height="1.5" fill="#3B5A1B"/>
<rect x="61.75" y="63.05" width="1.5" height="1.5" fill="#3B5A1B"/>
<rect x="61.75" y="68.55" width="1.5" height="1.5" fill="#3B5A1B"/>
<rect x="63.95" y="73.95" width="1.5" height="1.5" fill="#3B5A1B"/>
<rect x="67.65" y="73.95" width="1.5" height="1.5" fill="#3B5A1B"/>
<rect x="73.75" y="69.65" width="1.5" height="1.5" fill="#F80C7C"/>
<rect x="79.25" y="65.95" width="1.5" height="1.5" fill="#F80C7C"/>
<rect x="77.05" y="72.85" width="1.5" height="1.5" fill="#F80C7C"/>
<rect x="83.65" y="75.05" width="1.5" height="1.5" fill="#FB7410"/>
<rect x="94.55" y="63.75" width="1.5" height="1.5" fill="#EE8EC0"/>
<rect x="92.25" y="73.95" width="1.5" height="1.5" fill="#EE8EC0"/>
<rect x="98.85" y="67.45" width="1.5" height="1.5" fill="#EE8EC0"/>
<rect x="97.25" y="72.85" width="1.5" height="1.5" fill="#EE8EC0"/>
<rect x="103.25" y="66.35" width="1.5" height="1.5" fill="#5ED0AC"/>
<rect x="108.25" y="68.05" width="1.5" height="1.5" fill="#5ED0AC"/>
<rect x="105.45" y="70.05" width="1.5" height="1.5" fill="#5ED0AC"/>
<rect x="115.25" y="72.45" width="1.5" height="1.5" fill="#8E0E2C"/>
<rect x="113.05" y="75.05" width="1.5" height="1.5" fill="#8E0E2C"/>
<rect x="126.15" y="75.05" width="1.5" height="1.5" fill="#15784E"/>
<rect x="132.75" y="42.75" width="1.5" height="1.5" fill="#1B9DE2"/>
<rect x="133.15" y="58.75" width="1.5" height="1.5" fill="#1B9DE2"/>
<rect x="134.85" y="64.15" width="1.5" height="1.5" fill="#1B9DE2"/>
<rect x="138.15" y="60.85" width="1.5" height="1.5" fill="#1B9DE2"/>
<rect x="137.55" y="68.55" width="1.5" height="1.5" fill="#1B9DE2"/>
<rect x="139.95" y="57.25" width="1.5" height="1.5" fill="#FFC60A"/>
<rect x="142.25" y="62.85" width="1.5" height="1.5" fill="#FFC60A"/>
<rect x="145.15" y="61.75" width="1.5" height="1.5" fill="#FFC60A"/>
<rect x="141.05" y="67.45" width="1.5" height="1.5" fill="#FFC60A"/>
<rect x="144.45" y="67.45" width="1.5" height="1.5" fill="#FFC60A"/>
<rect x="141.05" y="71.95" width="1.5" height="1.5" fill="#FFC60A"/>
<rect x="150.15" y="64.05" width="1.5" height="1.5" fill="#3D2D9E"/>
<rect x="152.45" y="65.15" width="1.5" height="1.5" fill="#3D2D9E"/>
<rect x="149.05" y="69.75" width="1.5" height="1.5" fill="#3D2D9E"/>
<rect x="151.25" y="73.15" width="1.5" height="1.5" fill="#3D2D9E"/>
<rect x="161.05" y="61.75" width="1.5" height="1.5" fill="#3B5A1B"/>
<rect x="158.15" y="68.55" width="1.5" height="1.5" fill="#3B5A1B"/>
<rect x="160.35" y="69.75" width="1.5" height="1.5" fill="#3B5A1B"/>
<rect x="156.95" y="71.95" width="1.5" height="1.5" fill="#3B5A1B"/>
<rect x="164.95" y="56.05" width="1.5" height="1.5" fill="#F80C7C"/>
<rect x="163.75" y="57.25" width="1.5" height="1.5" fill="#F80C7C"/>
<rect x="166.05" y="70.85" width="1.5" height="1.5" fill="#F80C7C"/>
<rect x="163.75" y="73.15" width="1.5" height="1.5" fill="#F80C7C"/>
<rect x="167.25" y="71.95" width="1.5" height="1.5" fill="#F80C7C"/>
<rect x="174.05" y="73.15" width="1.5" height="1.5" fill="#FB7410"/>
<rect x="172.85" y="75.35" width="1.5" height="1.5" fill="#FB7410"/>
<rect x="181.95" y="62.85" width="1.5" height="1.5" fill="#EE8EC0"/>
<rect x="179.75" y="70.85" width="1.5" height="1.5" fill="#EE8EC0"/>
<rect x="180.85" y="73.15" width="1.5" height="1.5" fill="#EE8EC0"/>
<rect x="185.35" y="69.75" width="1.5" height="1.5" fill="#5ED0AC"/>
<rect x="186.55" y="75.35" width="1.5" height="1.5" fill="#5ED0AC"/>
<rect x="194.45" y="59.45" width="1.5" height="1.5" fill="#8E0E2C"/>
<rect x="192.25" y="61.75" width="1.5" height="1.5" fill="#8E0E2C"/>
<rect x="192.25" y="65.15" width="1.5" height="1.5" fill="#8E0E2C"/>
<rect x="195.65" y="68.55" width="1.5" height="1.5" fill="#8E0E2C"/>
<rect x="193.35" y="71.95" width="1.5" height="1.5" fill="#8E0E2C"/>
<rect x="200.85" y="8.35" width="1.5" height="1.5" fill="#15784E"/>
<rect x="199.75" y="32.65" width="1.5" height="1.5" fill="#15784E"/>
<rect x="200.85" y="54.95" width="1.5" height="1.5" fill="#15784E"/>
<rect x="200.15" y="58.35" width="1.5" height="1.5" fill="#15784E"/>
<rect x="199.05" y="61.75" width="1.5" height="1.5" fill="#15784E"/>
<rect x="200.15" y="65.15" width="1.5" height="1.5" fill="#15784E"/>
<rect x="200.75" y="68.25" width="1.5" height="1.5" fill="#15784E"/>
<rect x="199.75" y="71.25" width="1.5" height="1.5" fill="#15784E"/>
<rect x="201.25" y="74.25" width="1.5" height="1.5" fill="#15784E"/>
<rect x="209.95" y="61.75" width="1.5" height="1.5" fill="#1B9DE2"/>
<rect x="206.95" y="71.95" width="1.5" height="1.5" fill="#1B9DE2"/>
<rect x="208.15" y="75.35" width="1.5" height="1.5" fill="#1B9DE2"/>
<rect x="213.75" y="77.65" width="1.5" height="1.5" fill="#FFC60A"/>
<rect x="221.05" y="73.15" width="1.5" height="1.5" fill="#3D2D9E"/>
<rect x="219.45" y="75.35" width="1.5" height="1.5" fill="#3D2D9E"/>
<rect x="226.25" y="62.85" width="1.5" height="1.5" fill="#3B5A1B"/>
<rect x="224.75" y="70.85" width="1.5" height="1.5" fill="#3B5A1B"/>
<rect x="226.25" y="74.25" width="1.5" height="1.5" fill="#3B5A1B"/>
<rect x="231.95" y="62.85" width="1.5" height="1.5" fill="#F80C7C"/>
<rect x="231.95" y="67.45" width="1.5" height="1.5" fill="#F80C7C"/>
<rect x="230.85" y="73.15" width="1.5" height="1.5" fill="#F80C7C"/>
<rect x="236.55" y="56.05" width="1.5" height="1.5" fill="#FB7410"/>
<rect x="236.55" y="69.75" width="1.5" height="1.5" fill="#FB7410"/>
<rect x="240.65" y="61.75" width="1.5" height="1.5" fill="#EE8EC0"/>
<rect x="241.05" y="71.95" width="1.5" height="1.5" fill="#EE8EC0"/>
<rect x="246.75" y="55.65" width="1.5" height="1.5" fill="#5ED0AC"/>
<rect x="247.55" y="56.05" width="1.5" height="1.5" fill="#5ED0AC"/>
<rect x="252.45" y="43.15" width="1.5" height="1.5" fill="#8E0E2C"/>
<rect x="250.65" y="64.05" width="1.5" height="1.5" fill="#8E0E2C"/>
<rect x="251.95" y="67.45" width="1.5" height="1.5" fill="#8E0E2C"/>
<rect x="251.25" y="70.25" width="1.5" height="1.5" fill="#8E0E2C"/>
<rect x="252.25" y="73.25" width="1.5" height="1.5" fill="#8E0E2C"/>
<line x1="23.3" y1="78.4" x2="255" y2="78.4" stroke="#E8403A" stroke-width="0.55" stroke-opacity="0.9"/>
<text x="9.5" y="52.2" font-size="4.9" text-anchor="middle" fill="#222" font-family="Liberation Sans, sans-serif" transform="rotate(-90 9.5 52.2)" font-weight="bold" dominant-baseline="central" stroke="#222" stroke-width="0.1">CLR</text>
<line x1="296" y1="5.7" x2="296" y2="95.4" stroke="#888" stroke-width="0.6"/>
<line x1="294.5" y1="95.4" x2="296" y2="95.4" stroke="#888" stroke-width="0.5"/>
<text x="292.5" y="96.4" font-size="2.9" text-anchor="end" fill="#222" font-family="Liberation Sans, sans-serif"  stroke="#222" stroke-width="0.1">0</text>
<line x1="294.5" y1="73" x2="296" y2="73" stroke="#888" stroke-width="0.5"/>
<text x="292.5" y="74" font-size="2.9" text-anchor="end" fill="#222" font-family="Liberation Sans, sans-serif"  stroke="#222" stroke-width="0.1">1</text>
<line x1="294.5" y1="50.6" x2="296" y2="50.6" stroke="#888" stroke-width="0.5"/>
<text x="292.5" y="51.6" font-size="2.9" text-anchor="end" fill="#222" font-family="Liberation Sans, sans-serif"  stroke="#222" stroke-width="0.1">2</text>
<line x1="294.5" y1="28.2" x2="296" y2="28.2" stroke="#888" stroke-width="0.5"/>
<text x="292.5" y="29.2" font-size="2.9" text-anchor="end" fill="#222" font-family="Liberation Sans, sans-serif"  stroke="#222" stroke-width="0.1">3</text>
<line x1="294.5" y1="5.8" x2="296" y2="5.8" stroke="#888" stroke-width="0.5"/>
<text x="292.5" y="6.8" font-size="2.9" text-anchor="end" fill="#222" font-family="Liberation Sans, sans-serif"  stroke="#222" stroke-width="0.1">4</text>
<line x1="296" y1="99.3" x2="543.6" y2="99.3" stroke="#888" stroke-width="0.6"/>
<line x1="296" y1="99.3" x2="296" y2="100.8" stroke="#888" stroke-width="0.5"/>
<text x="296" y="106.8" font-size="3.4" text-anchor="middle" fill="#222" font-family="Liberation Sans, sans-serif"  stroke="#222" stroke-width="0.1">Chr</text>
<line x1="304.39" y1="99.3" x2="304.39" y2="100.8" stroke="#888" stroke-width="0.5"/>
<text x="304.39" y="106.8" font-size="3.4" text-anchor="middle" fill="#222" font-family="Liberation Sans, sans-serif"  stroke="#222" stroke-width="0.1">1</text>
<line x1="317.74" y1="99.3" x2="317.74" y2="100.8" stroke="#888" stroke-width="0.5"/>
<text x="317.74" y="106.8" font-size="3.4" text-anchor="middle" fill="#222" font-family="Liberation Sans, sans-serif"  stroke="#222" stroke-width="0.1">2</text>
<line x1="329.71" y1="99.3" x2="329.71" y2="100.8" stroke="#888" stroke-width="0.5"/>
<text x="329.71" y="106.8" font-size="3.4" text-anchor="middle" fill="#222" font-family="Liberation Sans, sans-serif"  stroke="#222" stroke-width="0.1">3</text>
<line x1="341.47" y1="99.3" x2="341.47" y2="100.8" stroke="#888" stroke-width="0.5"/>
<text x="341.47" y="106.8" font-size="3.4" text-anchor="middle" fill="#222" font-family="Liberation Sans, sans-serif"  stroke="#222" stroke-width="0.1">4</text>
<line x1="352.74" y1="99.3" x2="352.74" y2="100.8" stroke="#888" stroke-width="0.5"/>
<text x="352.74" y="106.8" font-size="3.4" text-anchor="middle" fill="#222" font-family="Liberation Sans, sans-serif"  stroke="#222" stroke-width="0.1">5</text>
<line x1="363.75" y1="99.3" x2="363.75" y2="100.8" stroke="#888" stroke-width="0.5"/>
<text x="363.75" y="106.8" font-size="3.4" text-anchor="middle" fill="#222" font-family="Liberation Sans, sans-serif"  stroke="#222" stroke-width="0.1">6</text>
<line x1="374.76" y1="99.3" x2="374.76" y2="100.8" stroke="#888" stroke-width="0.5"/>
<text x="374.76" y="106.8" font-size="3.4" text-anchor="middle" fill="#222" font-family="Liberation Sans, sans-serif"  stroke="#222" stroke-width="0.1">7</text>
<line x1="385.44" y1="99.3" x2="385.44" y2="100.8" stroke="#888" stroke-width="0.5"/>
<text x="385.44" y="106.8" font-size="3.4" text-anchor="middle" fill="#222" font-family="Liberation Sans, sans-serif"  stroke="#222" stroke-width="0.1">8</text>
<line x1="396.02" y1="99.3" x2="396.02" y2="100.8" stroke="#888" stroke-width="0.5"/>
<text x="396.02" y="106.8" font-size="3.4" text-anchor="middle" fill="#222" font-family="Liberation Sans, sans-serif"  stroke="#222" stroke-width="0.1">9</text>
<line x1="406.28" y1="99.3" x2="406.28" y2="100.8" stroke="#888" stroke-width="0.5"/>
<text x="406.28" y="106.8" font-size="3.4" text-anchor="middle" fill="#222" font-family="Liberation Sans, sans-serif"  stroke="#222" stroke-width="0.1">10</text>
<line x1="415.58" y1="99.3" x2="415.58" y2="100.8" stroke="#888" stroke-width="0.5"/>
<text x="415.58" y="106.8" font-size="3.4" text-anchor="middle" fill="#222" font-family="Liberation Sans, sans-serif"  stroke="#222" stroke-width="0.1">11</text>
<line x1="424.45" y1="99.3" x2="424.45" y2="100.8" stroke="#888" stroke-width="0.5"/>
<text x="424.45" y="106.8" font-size="3.4" text-anchor="middle" fill="#222" font-family="Liberation Sans, sans-serif"  stroke="#222" stroke-width="0.1">12</text>
<line x1="433.21" y1="99.3" x2="433.21" y2="100.8" stroke="#888" stroke-width="0.5"/>
<text x="433.21" y="106.8" font-size="3.4" text-anchor="middle" fill="#222" font-family="Liberation Sans, sans-serif"  stroke="#222" stroke-width="0.1">13</text>
<line x1="441.55" y1="99.3" x2="441.55" y2="100.8" stroke="#888" stroke-width="0.5"/>
<text x="441.55" y="106.8" font-size="3.4" text-anchor="middle" fill="#222" font-family="Liberation Sans, sans-serif"  stroke="#222" stroke-width="0.1">14</text>
<line x1="449.67" y1="99.3" x2="449.67" y2="100.8" stroke="#888" stroke-width="0.5"/>
<text x="449.67" y="106.8" font-size="3.4" text-anchor="middle" fill="#222" font-family="Liberation Sans, sans-serif"  stroke="#222" stroke-width="0.1">15</text>
<line x1="457.36" y1="99.3" x2="457.36" y2="100.8" stroke="#888" stroke-width="0.5"/>
<text x="457.36" y="106.8" font-size="3.4" text-anchor="middle" fill="#222" font-family="Liberation Sans, sans-serif"  stroke="#222" stroke-width="0.1">16</text>
<line x1="465.27" y1="99.3" x2="465.27" y2="100.8" stroke="#888" stroke-width="0.5"/>
<text x="465.27" y="106.8" font-size="3.4" text-anchor="middle" fill="#222" font-family="Liberation Sans, sans-serif"  stroke="#222" stroke-width="0.1">17</text>
<line x1="472.43" y1="99.3" x2="472.43" y2="100.8" stroke="#888" stroke-width="0.5"/>
<text x="472.43" y="106.8" font-size="3.4" text-anchor="middle" fill="#222" font-family="Liberation Sans, sans-serif"  stroke="#222" stroke-width="0.1">18</text>
<line x1="479.7" y1="99.3" x2="479.7" y2="100.8" stroke="#888" stroke-width="0.5"/>
<text x="479.7" y="106.8" font-size="3.4" text-anchor="middle" fill="#222" font-family="Liberation Sans, sans-serif"  stroke="#222" stroke-width="0.1">19</text>
<line x1="486.86" y1="99.3" x2="486.86" y2="100.8" stroke="#888" stroke-width="0.5"/>
<text x="486.86" y="106.8" font-size="3.4" text-anchor="middle" fill="#222" font-family="Liberation Sans, sans-serif"  stroke="#222" stroke-width="0.1">20</text>
<line x1="493.8" y1="99.3" x2="493.8" y2="100.8" stroke="#888" stroke-width="0.5"/>
<text x="493.8" y="106.8" font-size="3.4" text-anchor="middle" fill="#222" font-family="Liberation Sans, sans-serif"  stroke="#222" stroke-width="0.1">21</text>
<line x1="500.75" y1="99.3" x2="500.75" y2="100.8" stroke="#888" stroke-width="0.5"/>
<line x1="507.27" y1="99.3" x2="507.27" y2="100.8" stroke="#888" stroke-width="0.5"/>
<text x="507.27" y="106.8" font-size="3.4" text-anchor="middle" fill="#222" font-family="Liberation Sans, sans-serif"  stroke="#222" stroke-width="0.1">23</text>
<line x1="513.36" y1="99.3" x2="513.36" y2="100.8" stroke="#888" stroke-width="0.5"/>
<line x1="519.45" y1="99.3" x2="519.45" y2="100.8" stroke="#888" stroke-width="0.5"/>
<text x="519.45" y="106.8" font-size="3.4" text-anchor="middle" fill="#222" font-family="Liberation Sans, sans-serif"  stroke="#222" stroke-width="0.1">25</text>
<line x1="525.11" y1="99.3" x2="525.11" y2="100.8" stroke="#888" stroke-width="0.5"/>
<line x1="530.46" y1="99.3" x2="530.46" y2="100.8" stroke="#888" stroke-width="0.5"/>
<text x="530.46" y="106.8" font-size="3.4" text-anchor="middle" fill="#222" font-family="Liberation Sans, sans-serif"  stroke="#222" stroke-width="0.1">27</text>
<line x1="535.8" y1="99.3" x2="535.8" y2="100.8" stroke="#888" stroke-width="0.5"/>
<line x1="541.25" y1="99.3" x2="541.25" y2="100.8" stroke="#888" stroke-width="0.5"/>
<text x="541.25" y="106.8" font-size="3.4" text-anchor="middle" fill="#222" font-family="Liberation Sans, sans-serif"  stroke="#222" stroke-width="0.1">29</text>
<path d="M297.6 64.57 L298.2 63.84 L298.8 61.33 L299.4 60.67 L300 62.17 L300.6 61.97 L301.2 61.84 L301.8 61.12 L302.4 61.71 L303 61.71 L303.6 61.66 L304.2 60.82 L304.8 61.36 L305.4 61.29 L306 61.95 L306.6 62.49 L307.2 62.4 L307.8 61.59 L308.4 61.39 L309 61.04 L309.6 60.85 L310.2 61.55 L310.8 63.14 L311.17 63.3 L311.17 95.8 L297.6 95.8zM302.18 59.09h1.4v1.4h-1.4zM304.45 59.42h1.4v1.4h-1.4zM300.37 59.22h1.4v1.4h-1.4zM299.12 60.56h1.4v1.4h-1.4zM303.81 58.1h1.4v1.4h-1.4zM299.69 60.78h1.4v1.4h-1.4zM308.63 59.95h1.4v1.4h-1.4zM308.8 57.99h1.4v1.4h-1.4zM306.99 60.38h1.4v1.4h-1.4zM309.73 59.17h1.4v1.4h-1.4zM299.43 53.72h1.4v1.4h-1.4zM306.39 55.77h1.4v1.4h-1.4zM304.07 55.57h1.4v1.4h-1.4zM309.03 55.49h1.4v1.4h-1.4zM307.85 56.52h1.4v1.4h-1.4zM308.5 52.7h1.4v1.4h-1.4zM303.09 62.5 L302.88 61.67 L302.67 60.83 L303.41 60 L303.27 59.17 L303.25 58.33 L303.07 57.5 L303.55 56.67 L303.34 55.83 L303.74 55 L304.69 55 L304.55 55.83 L304.79 56.67 L304.64 57.5 L304.72 58.33 L304.89 59.17 L305.24 60 L304.57 60.83 L304.84 61.67 L305.22 62.5zM302.34 55.77h1.4v1.4h-1.4zM304.75 54.99h1.4v1.4h-1.4zM303.34 59.85h1.4v1.4h-1.4z" fill="#1B9DE2"/>
<path d="M300.93 62.61h0.81v0.81h-0.81zM306.68 67.19h0.62v0.62h-0.62zM302.42 63.29h0.64v0.64h-0.64zM309.52 65.15h0.61v0.61h-0.61zM306.63 63.28h1.01v1.01h-1.01zM299.94 61.46h0.69v0.69h-0.69zM306.13 61.62h1.1v1.1h-1.1zM299.9 61.78h0.62v0.62h-0.62zM302.19 64.87h0.66v0.66h-0.66zM302.13 64.47h0.62v0.62h-0.62zM303.25 61.47h1.05v1.05h-1.05zM306.93 65.88h1.03v1.03h-1.03zM306.38 63.15h0.93v0.93h-0.93zM301.86 61.54h0.65v0.65h-0.65z" fill="#fff" fill-opacity="0.85"/>
<path d="M311.6 64.06 L312.2 64.19 L312.8 61.98 L313.4 62.17 L314 61.79 L314.6 62.03 L315.2 61.29 L315.8 62.92 L316.4 61.52 L317 62.21 L317.6 61.84 L318.2 61.04 L318.8 62.12 L319.4 61.28 L320 61.11 L320.6 61.07 L321.2 61.32 L321.8 61.19 L322.4 62.64 L323 63.11 L323.6 64.78 L323.89 65.03 L323.89 95.8 L311.6 95.8zM322.63 61.09h1.4v1.4h-1.4zM314.23 59.36h1.4v1.4h-1.4zM318.07 59h1.4v1.4h-1.4zM319.41 59.03h1.4v1.4h-1.4zM314.3 59.35h1.4v1.4h-1.4zM311.45 60.28h1.4v1.4h-1.4zM311.8 60.57h1.4v1.4h-1.4zM319.57 60.83h1.4v1.4h-1.4zM314.12 60.38h1.4v1.4h-1.4zM313.85 55.85h1.4v1.4h-1.4zM316.64 57.33h1.4v1.4h-1.4zM318.64 58.01h1.4v1.4h-1.4zM321.63 52.76h1.4v1.4h-1.4z" fill="#FFC60A"/>
<path d="M319.78 62.71h0.82v0.82h-0.82zM317.46 62.44h0.81v0.81h-0.81zM317.67 62.13h0.69v0.69h-0.69zM312.97 62.5h0.86v0.86h-0.86zM321.8 64.26h0.91v0.91h-0.91zM315.19 64.57h0.61v0.61h-0.61zM319.4 61.97h0.65v0.65h-0.65zM315.37 64.11h0.61v0.61h-0.61zM316.82 65.37h0.81v0.81h-0.81zM317.27 62.72h0.64v0.64h-0.64zM315.05 65.47h0.79v0.79h-0.79zM322.05 66.11h0.7v0.7h-0.7z" fill="#fff" fill-opacity="0.85"/>
<path d="M324.42 65.8 L325.02 64.72 L325.62 64.15 L326.22 64.01 L326.82 63.29 L327.42 62.74 L328.02 62.74 L328.62 62.66 L329.22 64.2 L329.82 63.78 L330.42 64.42 L331.02 63.89 L331.62 62.55 L332.22 63.82 L332.82 64.05 L333.42 64.21 L334.02 64.48 L334.62 64.92 L335 65.57 L335 95.8 L324.42 95.8zM331.87 61.4h1.4v1.4h-1.4zM326.8 60.78h1.4v1.4h-1.4zM333.37 62.46h1.4v1.4h-1.4zM331.93 59.68h1.4v1.4h-1.4zM327.07 61.38h1.4v1.4h-1.4zM326.44 61.41h1.4v1.4h-1.4zM328.32 62.7h1.4v1.4h-1.4zM330.73 60.72h1.4v1.4h-1.4zM325.14 58.51h1.4v1.4h-1.4zM333.78 59.97h1.4v1.4h-1.4zM328.22 60.53h1.4v1.4h-1.4zM325.05 54.73h1.4v1.4h-1.4zM332.51 64.5 L332.71 63.67 L332.89 62.83 L332.92 62 L332.71 61.17 L333.07 60.33 L332.6 59.5 L333.08 58.67 L332.6 57.83 L332.76 57 L332.85 56.17 L333.16 55.33 L332.86 54.5 L333.11 53.67 L333.24 52.83 L333.4 52 L334.34 52 L334.43 52.83 L334.37 53.67 L334.32 54.5 L334.7 55.33 L334.54 56.17 L334.26 57 L334.36 57.83 L334.55 58.67 L334.62 59.5 L334.91 60.33 L334.54 61.17 L334.77 62 L334.73 62.83 L334.81 63.67 L334.44 64.5zM332.87 59.48h1.4v1.4h-1.4zM334.54 58.78h1.4v1.4h-1.4zM334.27 51.5h1.4v1.4h-1.4z" fill="#3D2D9E"/>
<path d="M333.21 64.97h0.96v0.96h-0.96zM330.34 68.34h0.65v0.65h-0.65zM332.05 66.5h0.98v0.98h-0.98zM326.67 63.3h0.7v0.7h-0.7zM332.11 67.15h0.67v0.67h-0.67zM330.28 65.16h0.88v0.88h-0.88zM329.07 64.07h0.7v0.7h-0.7zM333.48 63.29h0.84v0.84h-0.84zM332.28 63.14h0.93v0.93h-0.93zM331.62 67.59h0.77v0.77h-0.77zM327.19 63.5h0.85v0.85h-0.85z" fill="#fff" fill-opacity="0.85"/>
<path d="M335.96 62.72 L336.56 62.1 L337.16 62.73 L337.76 60.85 L338.36 62 L338.96 62.07 L339.56 61.31 L340.16 61.85 L340.76 62.07 L341.36 62.23 L341.96 60.77 L342.56 60.83 L343.16 61.26 L343.76 61.43 L344.36 61.09 L344.96 60.52 L345.56 62.09 L346.16 63.63 L346.76 63.14 L346.97 63.74 L346.97 95.8 L335.96 95.8zM339.59 57.39h1.4v1.4h-1.4zM338.85 59.52h1.4v1.4h-1.4zM342.26 58.57h1.4v1.4h-1.4zM344.92 60.57h1.4v1.4h-1.4zM336.53 60.11h1.4v1.4h-1.4zM342.23 59.43h1.4v1.4h-1.4zM343.73 59.77h1.4v1.4h-1.4zM344.18 59.32h1.4v1.4h-1.4zM342.1 56.26h1.4v1.4h-1.4zM341.07 53.04h1.4v1.4h-1.4zM343.75 54.6h1.4v1.4h-1.4zM338.85 57.37h1.4v1.4h-1.4zM339.89 62.5 L340.49 61.67 L340.36 60.83 L340.17 60 L340.46 59.17 L340.35 58.33 L340.35 57.5 L340.69 56.67 L340.86 55.83 L340.74 55 L341.79 55 L341.93 55.83 L341.72 56.67 L341.35 57.5 L341.78 58.33 L342.02 59.17 L341.57 60 L341.78 60.83 L342.09 61.67 L341.71 62.5zM339.77 60.01h1.4v1.4h-1.4zM342.11 57.57h1.4v1.4h-1.4zM341.16 60.47h1.4v1.4h-1.4z" fill="#3B5A1B"/>
<path d="M343.22 61h1.07v1.07h-1.07zM343.31 67.01h1.09v1.09h-1.09zM339.12 64.32h0.78v0.78h-0.78zM340.14 64.27h0.69v0.69h-0.69zM345.25 63.05h1.05v1.05h-1.05zM337.98 63.67h1.08v1.08h-1.08zM337.57 63.86h0.78v0.78h-0.78zM344.88 61.47h1.04v1.04h-1.04zM343.57 64.6h0.72v0.72h-0.72zM344.21 62.56h0.79v0.79h-0.79zM339.06 62.23h0.76v0.76h-0.76z" fill="#fff" fill-opacity="0.85"/>
<path d="M347.4 66.01 L348 63.63 L348.6 63 L349.2 62.41 L349.8 62.5 L350.4 62.84 L351 62.5 L351.6 62.69 L352.2 62.49 L352.8 62.48 L353.4 63.22 L354 62.67 L354.6 62.75 L355.2 63.54 L355.8 62.12 L356.4 62.42 L357 64.56 L357.6 64.44 L358.08 65.72 L358.08 95.8 L347.4 95.8zM348.48 61.52h1.4v1.4h-1.4zM352.26 61.38h1.4v1.4h-1.4zM354.64 60.95h1.4v1.4h-1.4zM353.11 57.41h1.4v1.4h-1.4zM351 58.49h1.4v1.4h-1.4zM351.79 61.15h1.4v1.4h-1.4zM355.31 61.23h1.4v1.4h-1.4zM352.99 60.39h1.4v1.4h-1.4zM356.78 54.61h1.4v1.4h-1.4zM351.6 57.62h1.4v1.4h-1.4zM352.28 60.18h1.4v1.4h-1.4zM348.25 53.53h1.4v1.4h-1.4zM348.43 64 L348.29 63.2 L348.39 62.4 L348.32 61.6 L348.87 60.8 L349.02 60 L348.9 59.2 L348.62 58.4 L348.98 57.6 L349.21 56.8 L348.81 56 L348.92 55.2 L348.83 54.4 L349.15 53.6 L349.42 52.8 L349.21 52 L350.33 52 L350.38 52.8 L350.57 53.6 L350.44 54.4 L350.12 55.2 L350.07 56 L350.71 56.8 L350.79 57.6 L350.47 58.4 L350.64 59.2 L350.87 60 L350.78 60.8 L350.34 61.6 L350.39 62.4 L350.48 63.2 L350.77 64zM348.47 54.57h1.4v1.4h-1.4zM348.68 56.01h1.4v1.4h-1.4zM348.55 60.08h1.4v1.4h-1.4z" fill="#F80C7C"/>
<path d="M355.13 64.52h0.88v0.88h-0.88zM351.95 63.55h1.09v1.09h-1.09zM349.8 67.51h0.95v0.95h-0.95zM354.11 62.97h0.88v0.88h-0.88zM349.69 63.28h0.7v0.7h-0.7zM352.98 65.09h0.97v0.97h-0.97zM354.16 65.9h0.84v0.84h-0.84zM348.12 63.27h1.02v1.02h-1.02zM353.32 68.22h0.62v0.62h-0.62zM349.54 65.88h0.87v0.87h-0.87zM349.35 65.14h1.08v1.08h-1.08z" fill="#fff" fill-opacity="0.85"/>
<path d="M358.73 65.12 L359.33 64.24 L359.93 62.65 L360.53 61.58 L361.13 61.42 L361.73 62.65 L362.33 62.4 L362.93 61.55 L363.53 62.8 L364.13 62.14 L364.73 61.83 L365.33 61.83 L365.93 62.44 L366.53 61.91 L367.13 62.5 L367.73 62.15 L368.33 64.03 L368.77 63.7 L368.77 95.8 L358.73 95.8zM366.76 60.94h1.4v1.4h-1.4zM363.39 59.72h1.4v1.4h-1.4zM362.08 57.27h1.4v1.4h-1.4zM360.35 60.65h1.4v1.4h-1.4zM365.51 60.2h1.4v1.4h-1.4zM362.58 58.34h1.4v1.4h-1.4zM362.64 60.15h1.4v1.4h-1.4zM360.83 59.62h1.4v1.4h-1.4zM362.83 58.16h1.4v1.4h-1.4zM362.77 55.49h1.4v1.4h-1.4zM361.33 58.31h1.4v1.4h-1.4zM363.19 63 L363.65 62.14 L363.26 61.29 L363.21 60.43 L363.69 59.57 L364.01 58.71 L363.71 57.86 L364.17 57 L365.04 57 L364.97 57.86 L365.4 58.71 L365.16 59.57 L365.04 60.43 L365.28 61.29 L365.77 62.14 L365.59 63zM364.28 58.18h1.4v1.4h-1.4zM362.11 59.24h1.4v1.4h-1.4zM365.51 59.53h1.4v1.4h-1.4z" fill="#FB7410"/>
<path d="M363.37 63.76h0.68v0.68h-0.68zM361.51 67.8h1.08v1.08h-1.08zM366.83 62.85h1.04v1.04h-1.04zM364.04 66h0.95v0.95h-0.95zM363.64 61.88h0.63v0.63h-0.63zM364.81 63.73h0.67v0.67h-0.67zM364.23 63.95h1.09v1.09h-1.09zM362.42 63.61h0.84v0.84h-0.84zM362.3 62.03h0.87v0.87h-0.87zM366.11 63.76h0.65v0.65h-0.65z" fill="#fff" fill-opacity="0.85"/>
<path d="M369.41 65.55 L370.01 64.29 L370.61 62.33 L371.21 62.91 L371.81 62.3 L372.41 62.53 L373.01 61.7 L373.61 62.52 L374.21 62.54 L374.81 63.06 L375.41 62.66 L376.01 62.91 L376.61 62.97 L377.21 61.94 L377.81 61.55 L378.41 62.59 L379.01 62.62 L379.61 63.36 L380.1 64.3 L380.1 95.8 L369.41 95.8zM374.42 59.86h1.4v1.4h-1.4zM378.34 60.07h1.4v1.4h-1.4zM370.2 61.08h1.4v1.4h-1.4zM375.7 61.53h1.4v1.4h-1.4zM373.45 60.81h1.4v1.4h-1.4zM375.61 60.6h1.4v1.4h-1.4zM373.8 60.22h1.4v1.4h-1.4zM372.51 61.22h1.4v1.4h-1.4zM375.08 59.25h1.4v1.4h-1.4zM376.81 57.46h1.4v1.4h-1.4zM378.39 55.55h1.4v1.4h-1.4zM377.01 53.73h1.4v1.4h-1.4zM373.43 63.5 L373.31 62.69 L373.7 61.89 L373.72 61.08 L373.61 60.28 L373.5 59.47 L373.97 58.67 L374.3 57.86 L373.92 57.06 L374.34 56.25 L373.82 55.44 L373.75 54.64 L373.85 53.83 L374.07 53.03 L374.5 52.22 L374.17 51.42 L374.21 50.61 L373.99 49.81 L374.46 49 L375.55 49 L375.54 49.81 L375.51 50.61 L375.69 51.42 L375.78 52.22 L375.56 53.03 L375.31 53.83 L375.36 54.64 L375.31 55.44 L376.01 56.25 L375.89 57.06 L375.93 57.86 L375.94 58.67 L375.77 59.47 L375.7 60.28 L375.92 61.08 L375.91 61.89 L375.89 62.69 L375.87 63.5zM372.64 53.04h1.4v1.4h-1.4zM372.22 57.82h1.4v1.4h-1.4zM376.04 56.91h1.4v1.4h-1.4z" fill="#EE8EC0"/>
<path d="M374.97 62.09h0.83v0.83h-0.83zM373.69 65.38h0.73v0.73h-0.73zM371.7 62.03h1.01v1.01h-1.01zM375.55 69.6h0.61v0.61h-0.61zM372.52 66.38h0.87v0.87h-0.87zM374.91 68.83h0.94v0.94h-0.94zM371.95 62.66h1.02v1.02h-1.02zM373.94 64.81h0.93v0.93h-0.93zM374.73 65.22h1.08v1.08h-1.08zM376.67 62.82h0.81v0.81h-0.81zM374.34 66.02h0.93v0.93h-0.93z" fill="#fff" fill-opacity="0.85"/>
<path d="M380.53 65.58 L381.13 63.17 L381.73 63.42 L382.33 62.75 L382.93 62.41 L383.53 63.43 L384.13 63.43 L384.73 62.28 L385.33 62.73 L385.93 63.03 L386.53 62.89 L387.13 62.23 L387.73 63.1 L388.33 62.2 L388.93 62.24 L389.53 63.99 L390.13 64.68 L390.36 64.48 L390.36 95.8 L380.53 95.8zM384.73 60.01h1.4v1.4h-1.4zM389.05 61.14h1.4v1.4h-1.4zM388.38 60.08h1.4v1.4h-1.4zM385.36 59.65h1.4v1.4h-1.4zM387.25 60.34h1.4v1.4h-1.4zM388.24 60.52h1.4v1.4h-1.4zM383.87 59.46h1.4v1.4h-1.4zM384.34 59.2h1.4v1.4h-1.4zM388.65 57.46h1.4v1.4h-1.4zM385.67 54.87h1.4v1.4h-1.4zM381.98 63.5 L381.76 62.69 L382.01 61.88 L382.04 61.06 L382.11 60.25 L382.4 59.44 L382.5 58.62 L382.29 57.81 L382.43 57 L383.65 57 L383.63 57.81 L383.86 58.62 L384.17 59.44 L383.96 60.25 L383.79 61.06 L383.62 61.88 L384.04 62.69 L384.12 63.5zM381.47 59.07h1.4v1.4h-1.4zM382.65 57.63h1.4v1.4h-1.4zM383.74 61.7h1.4v1.4h-1.4z" fill="#5ED0AC"/>
<path d="M382.34 62.29h0.96v0.96h-0.96zM382.73 67.53h0.89v0.89h-0.89zM382.86 64.67h0.86v0.86h-0.86zM382.26 65.13h0.8v0.8h-0.8zM384.87 63.37h0.7v0.7h-0.7zM386.56 63.41h1.06v1.06h-1.06zM387.94 66.14h0.67v0.67h-0.67zM382.58 65.54h0.95v0.95h-0.95zM380.99 66.65h0.7v0.7h-0.7zM382.45 64.72h0.8v0.8h-0.8z" fill="#fff" fill-opacity="0.85"/>
<path d="M391.21 66.83 L391.81 64.46 L392.41 65.47 L393.01 63.61 L393.61 64.14 L394.21 63.95 L394.81 63.24 L395.41 64.92 L396.01 63.35 L396.61 64.61 L397.21 64.76 L397.81 63.91 L398.41 64.92 L399.01 63.13 L399.61 63.99 L400.21 65.39 L400.81 65.29 L400.83 66.78 L400.83 95.8 L391.21 95.8zM395.55 62.85h1.4v1.4h-1.4zM391.25 61.89h1.4v1.4h-1.4zM398.69 62.82h1.4v1.4h-1.4zM392.1 61.49h1.4v1.4h-1.4zM396.07 62.13h1.4v1.4h-1.4zM391.35 63.03h1.4v1.4h-1.4zM393.92 63.08h1.4v1.4h-1.4zM396.34 57.05h1.4v1.4h-1.4zM397.94 56.98h1.4v1.4h-1.4zM398.34 60.41h1.4v1.4h-1.4zM398.19 65 L398.12 64.18 L398.55 63.36 L398.54 62.55 L398.61 61.73 L398.42 60.91 L398.75 60.09 L398.71 59.27 L398.57 58.45 L398.99 57.64 L398.89 56.82 L398.5 56 L399.33 56 L399.92 56.82 L399.98 57.64 L399.54 58.45 L399.93 59.27 L399.93 60.09 L399.94 60.91 L399.58 61.73 L399.93 62.55 L400.02 63.36 L400.04 64.18 L399.76 65zM399.89 59.59h1.4v1.4h-1.4zM396.72 62.74h1.4v1.4h-1.4zM398.65 61.53h1.4v1.4h-1.4z" fill="#8E0E2C"/>
<path d="M393.47 65.31h0.77v0.77h-0.77zM392.33 64.84h0.81v0.81h-0.81zM396.77 66.46h1.02v1.02h-1.02zM394.31 67.51h0.77v0.77h-0.77zM392.95 65.43h1.08v1.08h-1.08zM396.88 68h0.79v0.79h-0.79zM394.9 64.72h0.98v0.98h-0.98zM393.28 63.9h1.05v1.05h-1.05zM392.19 67.21h1.02v1.02h-1.02zM397.33 65.49h0.91v0.91h-0.91z" fill="#fff" fill-opacity="0.85"/>
<path d="M401.47 62.58 L402.07 61.51 L402.67 60.35 L403.27 60.01 L403.87 59.48 L404.47 59.91 L405.07 59.81 L405.67 59.21 L406.27 59.46 L406.87 59.69 L407.47 59.79 L408.07 60.13 L408.67 60.49 L409.27 59.52 L409.87 60.81 L410.47 61.09 L411.07 61.59 L411.09 61.44 L411.09 95.8 L401.47 95.8zM409.54 56.92h1.4v1.4h-1.4zM409.31 58.76h1.4v1.4h-1.4zM402.57 58.34h1.4v1.4h-1.4zM402.17 58.71h1.4v1.4h-1.4zM401.34 57.5h1.4v1.4h-1.4zM404.91 58.03h1.4v1.4h-1.4zM402.91 56.13h1.4v1.4h-1.4zM408.12 54.84h1.4v1.4h-1.4zM403.97 56.42h1.4v1.4h-1.4zM403.58 55.64h1.4v1.4h-1.4zM403.52 61 L403.62 60.18 L403.66 59.36 L403.99 58.54 L403.74 57.71 L403.72 56.89 L404.06 56.07 L404.04 55.25 L404.09 54.43 L403.99 53.61 L403.7 52.79 L403.81 51.96 L403.61 51.14 L403.93 50.32 L403.77 49.5 L404.65 49.5 L405.11 50.32 L404.66 51.14 L404.96 51.96 L405.24 52.79 L405.53 53.61 L405.15 54.43 L405.4 55.25 L405.31 56.07 L405.18 56.89 L405.25 57.71 L405.54 58.54 L405.39 59.36 L405.48 60.18 L405.35 61zM404.07 58.23h1.4v1.4h-1.4zM404.01 51.98h1.4v1.4h-1.4zM405.81 56.43h1.4v1.4h-1.4z" fill="#15784E"/>
<path d="M408.17 65.13h0.89v0.89h-0.89zM408.46 63.83h0.85v0.85h-0.85zM404.01 60.11h0.61v0.61h-0.61zM406.84 61.9h0.8v0.8h-0.8zM409.22 64.63h0.7v0.7h-0.7zM404.5 61.28h0.75v0.75h-0.75zM409.6 61.7h0.69v0.69h-0.69zM402.26 62.28h0.78v0.78h-0.78zM409.56 63.71h1.04v1.04h-1.04zM402.27 61.16h0.76v0.76h-0.76z" fill="#fff" fill-opacity="0.85"/>
<path d="M411.52 62 L412.12 60.89 L412.72 60.49 L413.32 60.36 L413.92 59.27 L414.52 60.39 L415.12 59.59 L415.72 60.31 L416.32 59.35 L416.92 60.58 L417.52 59.84 L418.12 61 L418.72 61.99 L419.32 61.94 L419.64 61.2 L419.64 95.8 L411.52 95.8zM413.92 56.71h1.4v1.4h-1.4zM416.72 58.91h1.4v1.4h-1.4zM414.71 55.65h1.4v1.4h-1.4zM415.68 57.87h1.4v1.4h-1.4zM415.52 59.13h1.4v1.4h-1.4zM412.78 59.17h1.4v1.4h-1.4zM417.35 52.11h1.4v1.4h-1.4zM417.63 57.29h1.4v1.4h-1.4zM411.52 55.71h1.4v1.4h-1.4zM411.88 61 L411.9 60.17 L412 59.33 L412.19 58.5 L411.93 57.67 L412.16 56.83 L412.52 56 L413.62 56 L413.35 56.83 L413.14 57.67 L413.86 58.5 L413.79 59.33 L413.93 60.17 L413.95 61zM410.12 59.12h1.4v1.4h-1.4zM412.45 57.88h1.4v1.4h-1.4zM411.25 58.07h1.4v1.4h-1.4z" fill="#1B9DE2"/>
<path d="M417.54 59.94h0.99v0.99h-0.99zM413.62 61.21h0.65v0.65h-0.65zM415.15 60.43h0.74v0.74h-0.74zM412.36 61.41h1.01v1.01h-1.01zM415.51 60.93h0.99v0.99h-0.99zM418.03 61.5h1.1v1.1h-1.1zM412.17 60.06h0.84v0.84h-0.84zM416.15 60.75h0.9v0.9h-0.9z" fill="#fff" fill-opacity="0.85"/>
<path d="M420.28 62.37 L420.88 62.87 L421.48 61.47 L422.08 61.49 L422.68 60.35 L423.28 60.79 L423.88 59.7 L424.48 60.57 L425.08 60.79 L425.68 59.97 L426.28 60.75 L426.88 59.84 L427.48 61.22 L428.08 62.23 L428.61 62.62 L428.61 95.8 L420.28 95.8zM421.19 59.16h1.4v1.4h-1.4zM424.86 58.18h1.4v1.4h-1.4zM423.26 59.3h1.4v1.4h-1.4zM422.34 58.24h1.4v1.4h-1.4zM421.09 58.08h1.4v1.4h-1.4zM422.47 58.72h1.4v1.4h-1.4zM426.78 57.68h1.4v1.4h-1.4zM420.92 55.94h1.4v1.4h-1.4zM425.87 51.44h1.4v1.4h-1.4z" fill="#FFC60A"/>
<path d="M425.88 61.75h0.62v0.62h-0.62zM421.51 65.69h0.66v0.66h-0.66zM424.34 63.47h1.07v1.07h-1.07zM425.66 62.35h0.97v0.97h-0.97zM421.74 65.68h1.01v1.01h-1.01zM421.14 63.61h0.96v0.96h-0.96zM424.08 62.31h0.99v0.99h-0.99zM426.02 60.55h0.98v0.98h-0.98z" fill="#fff" fill-opacity="0.85"/>
<path d="M429.26 61.76 L429.86 61.91 L430.46 59.89 L431.06 60.36 L431.66 59.06 L432.26 59.01 L432.86 59.21 L433.46 60.31 L434.06 60.97 L434.66 59.94 L435.26 60.29 L435.86 60.76 L436.46 61.99 L437.06 62.97 L437.16 62.8 L437.16 95.8 L429.26 95.8zM431.35 55.87h1.4v1.4h-1.4zM430.98 57.64h1.4v1.4h-1.4zM434.3 58.58h1.4v1.4h-1.4zM430.4 58.48h1.4v1.4h-1.4zM431.98 57.34h1.4v1.4h-1.4zM435.92 56.38h1.4v1.4h-1.4zM433.36 51.39h1.4v1.4h-1.4zM431.66 53.39h1.4v1.4h-1.4zM430.61 51.5h1.4v1.4h-1.4z" fill="#3D2D9E"/>
<path d="M432.47 63.99h0.76v0.76h-0.76zM434.77 59.96h0.83v0.83h-0.83zM432.29 60.2h0.95v0.95h-0.95zM435.07 63.89h1v1h-1zM432.31 63.39h0.63v0.63h-0.63zM433.78 64.27h0.86v0.86h-0.86zM432.11 61.33h0.97v0.97h-0.97zM435.09 61.14h1.09v1.09h-1.09z" fill="#fff" fill-opacity="0.85"/>
<path d="M437.81 62.17 L438.41 61.7 L439.01 60.87 L439.61 58.83 L440.21 59.88 L440.81 60.24 L441.41 60 L442.01 59.05 L442.61 59.9 L443.21 59.28 L443.81 59.75 L444.41 61.07 L445.01 61.68 L445.29 60.93 L445.29 95.8 L437.81 95.8zM441.76 57.66h1.4v1.4h-1.4zM442.95 58.35h1.4v1.4h-1.4zM443.52 58.72h1.4v1.4h-1.4zM438.79 55.74h1.4v1.4h-1.4zM440.83 58.36h1.4v1.4h-1.4zM440.41 58.19h1.4v1.4h-1.4zM443.12 56.28h1.4v1.4h-1.4zM439.47 56.97h1.4v1.4h-1.4zM438.96 55.14h1.4v1.4h-1.4zM441.83 60.5 L441.87 59.65 L441.87 58.8 L442.25 57.95 L442 57.1 L442.22 56.25 L442.12 55.4 L442.28 54.55 L442.49 53.7 L442.27 52.85 L442.83 52 L443.74 52 L443.8 52.85 L444 53.7 L443.86 54.55 L443.63 55.4 L443.9 56.25 L444 57.1 L444.39 57.95 L443.96 58.8 L444.46 59.65 L444.19 60.5zM442.81 58.47h1.4v1.4h-1.4zM443.29 51.71h1.4v1.4h-1.4zM443.7 52.89h1.4v1.4h-1.4z" fill="#3B5A1B"/>
<path d="M441.61 59.39h0.99v0.99h-0.99zM441.01 60.04h0.9v0.9h-0.9zM442.37 61.71h0.76v0.76h-0.76zM441.36 60.87h0.72v0.72h-0.72zM439.67 60.04h0.96v0.96h-0.96zM442.18 61.63h0.83v0.83h-0.83zM442.71 59.11h1.02v1.02h-1.02z" fill="#fff" fill-opacity="0.85"/>
<path d="M445.93 61.16 L446.53 60.42 L447.13 60.06 L447.73 58.32 L448.33 58.35 L448.93 58.73 L449.53 59.24 L450.13 58.06 L450.73 59.02 L451.33 59.41 L451.93 58.39 L452.53 58.64 L453.13 59.65 L453.41 60.95 L453.41 95.8 L445.93 95.8zM447.13 57.67h1.4v1.4h-1.4zM451.87 54.6h1.4v1.4h-1.4zM448.02 55.71h1.4v1.4h-1.4zM451.69 57.34h1.4v1.4h-1.4zM450.1 57.06h1.4v1.4h-1.4zM447.67 54.69h1.4v1.4h-1.4zM448.9 52.15h1.4v1.4h-1.4zM450.74 54.15h1.4v1.4h-1.4zM449.4 52.37h1.4v1.4h-1.4zM449.1 59.5 L449.43 58.7 L449.02 57.9 L449.02 57.1 L449.59 56.3 L449.72 55.5 L449.36 54.7 L449.13 53.9 L449.78 53.1 L449.54 52.3 L449.79 51.5 L450.71 51.5 L450.94 52.3 L450.75 53.1 L450.42 53.9 L451.01 54.7 L451.08 55.5 L451.31 56.3 L450.72 57.1 L451.05 57.9 L451.23 58.7 L451.05 59.5zM450.07 56.46h1.4v1.4h-1.4zM448.49 53.43h1.4v1.4h-1.4zM448.5 52.65h1.4v1.4h-1.4z" fill="#F80C7C"/>
<path d="M451.52 60.26h0.6v0.6h-0.6zM446.41 60.18h0.89v0.89h-0.89zM450.71 62.84h0.95v0.95h-0.95zM451.62 58.71h0.65v0.65h-0.65zM448.82 58.5h0.66v0.66h-0.66zM448.01 59.28h1.08v1.08h-1.08zM450.28 66.58h0.81v0.81h-0.81z" fill="#fff" fill-opacity="0.85"/>
<path d="M453.83 59.99 L454.43 58.58 L455.03 58.63 L455.63 57.29 L456.23 58.06 L456.83 58.63 L457.43 57.8 L458.03 58.41 L458.63 58.63 L459.23 59.01 L459.83 58.75 L460.43 59.09 L460.89 60.94 L460.89 95.8 L453.83 95.8zM456.66 56.91h1.4v1.4h-1.4zM458.86 54.6h1.4v1.4h-1.4zM459.59 56.29h1.4v1.4h-1.4zM455.15 56.31h1.4v1.4h-1.4zM455.44 56.48h1.4v1.4h-1.4zM453.94 54.84h1.4v1.4h-1.4zM454.76 48.72h1.4v1.4h-1.4zM455.71 49.86h1.4v1.4h-1.4zM455.64 59 L455.35 58.17 L455.66 57.33 L455.41 56.5 L455.7 55.67 L455.7 54.83 L455.75 54 L456.72 54 L456.56 54.83 L457.03 55.67 L456.8 56.5 L456.96 57.33 L457.01 58.17 L457.22 59zM455.77 55.38h1.4v1.4h-1.4zM454.52 53.83h1.4v1.4h-1.4zM454.48 55.87h1.4v1.4h-1.4z" fill="#FB7410"/>
<path d="M457.89 64.13h0.94v0.94h-0.94zM454.34 58.34h0.94v0.94h-0.94zM456.97 62.04h1.03v1.03h-1.03zM459.45 60.33h0.87v0.87h-0.87zM458.53 59.13h0.94v0.94h-0.94zM458.51 59.12h0.72v0.72h-0.72zM457.48 61.49h0.61v0.61h-0.61z" fill="#fff" fill-opacity="0.85"/>
<path d="M461.74 65.23 L462.34 64.89 L462.94 64.54 L463.54 62.97 L464.14 63.75 L464.74 62.4 L465.34 62.02 L465.94 63.11 L466.54 62.69 L467.14 62.97 L467.74 64.09 L468.34 65.13 L468.8 65.88 L468.8 95.8 L461.74 95.8zM463.5 60.09h1.4v1.4h-1.4zM465.69 61.04h1.4v1.4h-1.4zM465.08 59.1h1.4v1.4h-1.4zM461.66 61.59h1.4v1.4h-1.4zM466.3 61.73h1.4v1.4h-1.4zM464.3 58.1h1.4v1.4h-1.4zM462.02 60.14h1.4v1.4h-1.4zM463.16 59.83h1.4v1.4h-1.4zM465.26 64 L465.49 63.19 L465.16 62.38 L465.7 61.56 L465.51 60.75 L465.71 59.94 L466 59.12 L465.66 58.31 L465.59 57.5 L466.47 57.5 L466.74 58.31 L466.98 59.12 L466.98 59.94 L466.65 60.75 L467.12 61.56 L466.69 62.38 L467.09 63.19 L467.07 64zM464.04 58.5h1.4v1.4h-1.4zM463.5 59.55h1.4v1.4h-1.4zM466 62.3h1.4v1.4h-1.4z" fill="#EE8EC0"/>
<path d="M467.39 64.27h0.77v0.77h-0.77zM467.36 63.92h0.86v0.86h-0.86zM465.82 63.59h0.9v0.9h-0.9zM462.34 65.53h0.79v0.79h-0.79zM466.21 64.43h0.97v0.97h-0.97zM462.52 67.03h0.99v0.99h-0.99zM465.61 63.46h1.09v1.09h-1.09z" fill="#fff" fill-opacity="0.85"/>
<path d="M469.22 64.64 L469.82 63.23 L470.42 63.39 L471.02 62.22 L471.62 62.19 L472.22 62.19 L472.82 62.51 L473.42 62.42 L474.02 62.14 L474.62 63.52 L475.22 63.51 L475.63 64.64 L475.63 95.8 L469.22 95.8zM473.97 60.3h1.4v1.4h-1.4zM473.93 61.11h1.4v1.4h-1.4zM470.17 61.17h1.4v1.4h-1.4zM471.29 60.77h1.4v1.4h-1.4zM471.19 60.84h1.4v1.4h-1.4zM473.19 59.33h1.4v1.4h-1.4zM471.26 58.46h1.4v1.4h-1.4zM472.53 63 L472.93 62.14 L472.74 61.29 L472.92 60.43 L472.48 59.57 L472.74 58.71 L473.1 57.86 L472.89 57 L473.95 57 L474.19 57.86 L474.05 58.71 L473.81 59.57 L474.34 60.43 L474.25 61.29 L474.31 62.14 L474.1 63zM470.94 60.4h1.4v1.4h-1.4zM471.77 58.05h1.4v1.4h-1.4zM472.73 59.27h1.4v1.4h-1.4z" fill="#5ED0AC"/>
<path d="M473.34 63.35h0.66v0.66h-0.66zM471.51 64.09h0.72v0.72h-0.72zM473.31 63.79h1.08v1.08h-1.08zM472.71 63.28h0.84v0.84h-0.84zM473.42 62h0.76v0.76h-0.76zM471.67 63.99h0.91v0.91h-0.91z" fill="#fff" fill-opacity="0.85"/>
<path d="M476.28 64.75 L476.88 65.28 L477.48 64.4 L478.08 62.62 L478.68 62.13 L479.28 62.05 L479.88 63.63 L480.48 62.85 L481.08 62.24 L481.68 62.53 L482.28 64.71 L482.88 64.29 L483.12 66 L483.12 95.8 L476.28 95.8zM478.16 61.8h1.4v1.4h-1.4zM479.74 60.8h1.4v1.4h-1.4zM476.9 60.14h1.4v1.4h-1.4zM477.64 61.83h1.4v1.4h-1.4zM479.36 61.85h1.4v1.4h-1.4zM476.11 54.35h1.4v1.4h-1.4zM477.75 59.38h1.4v1.4h-1.4zM476.26 58.05h1.4v1.4h-1.4zM476.97 64 L476.87 63.12 L477.03 62.25 L476.67 61.38 L476.68 60.5 L477.51 59.62 L477.21 58.75 L477.42 57.88 L477.49 57 L478.42 57 L478.63 57.88 L478.57 58.75 L478.62 59.62 L478.29 60.5 L478.47 61.38 L478.98 62.25 L478.74 63.12 L478.99 64zM476.57 59.57h1.4v1.4h-1.4zM475.79 57.82h1.4v1.4h-1.4zM476.22 60.28h1.4v1.4h-1.4z" fill="#8E0E2C"/>
<path d="M476.68 65.11h1.04v1.04h-1.04zM477.29 64.1h0.86v0.86h-0.86zM480.96 68.92h0.73v0.73h-0.73zM479.29 66.71h0.75v0.75h-0.75zM478.09 67.23h0.93v0.93h-0.93zM481.04 64.8h0.84v0.84h-0.84zM477.59 66.3h0.88v0.88h-0.88z" fill="#fff" fill-opacity="0.85"/>
<path d="M483.54 61.69 L484.14 61.49 L484.74 61.43 L485.34 60.64 L485.94 60.25 L486.54 60.48 L487.14 59.06 L487.74 59.27 L488.34 59.02 L488.94 60.59 L489.54 61.39 L490.14 61.16 L490.17 62.8 L490.17 95.8 L483.54 95.8zM486.42 55.75h1.4v1.4h-1.4zM487.46 56.31h1.4v1.4h-1.4zM487.54 58.65h1.4v1.4h-1.4zM486.93 56.26h1.4v1.4h-1.4zM487.75 58.82h1.4v1.4h-1.4zM487.87 56.46h1.4v1.4h-1.4zM486.34 51.06h1.4v1.4h-1.4zM484.41 61 L484.39 60.14 L484.82 59.27 L484.59 58.41 L485 57.55 L484.78 56.68 L484.72 55.82 L484.73 54.95 L485.02 54.09 L484.9 53.23 L484.79 52.36 L484.86 51.5 L486.06 51.5 L486.11 52.36 L486.36 53.23 L486.7 54.09 L486.41 54.95 L486.46 55.82 L486.29 56.68 L486.9 57.55 L486.68 58.41 L486.96 59.27 L486.54 60.14 L486.67 61zM484.19 53.12h1.4v1.4h-1.4zM486.96 55.08h1.4v1.4h-1.4zM485.81 54.37h1.4v1.4h-1.4z" fill="#15784E"/>
<path d="M486.6 59.9h1.02v1.02h-1.02zM487.39 61.4h0.75v0.75h-0.75zM485.93 60.57h0.91v0.91h-0.91zM488.87 59.93h0.94v0.94h-0.94zM486.24 62.27h0.89v0.89h-0.89zM487.33 62.04h1.04v1.04h-1.04zM485.26 65.82h0.87v0.87h-0.87z" fill="#fff" fill-opacity="0.85"/>
<path d="M490.6 63.94 L491.2 62.65 L491.8 62.52 L492.4 61.2 L493 61.45 L493.6 61.27 L494.2 61.91 L494.8 61.5 L495.4 62.17 L496 61.78 L496.6 62.08 L497.01 62.56 L497.01 95.8 L490.6 95.8zM492.87 57.39h1.4v1.4h-1.4zM493.41 59.55h1.4v1.4h-1.4zM495.62 58.43h1.4v1.4h-1.4zM492.59 58.1h1.4v1.4h-1.4zM493.95 60.18h1.4v1.4h-1.4zM494.41 57.12h1.4v1.4h-1.4zM495.29 55.38h1.4v1.4h-1.4zM494.82 62 L495.06 61.2 L494.32 60.4 L494.86 59.6 L495.03 58.8 L494.76 58 L494.77 57.2 L494.69 56.4 L495.1 55.6 L495.3 54.8 L495.07 54 L496.2 54 L496.47 54.8 L496.57 55.6 L496.31 56.4 L496 57.2 L496.36 58 L496.38 58.8 L496.71 59.6 L496.5 60.4 L496.94 61.2 L496.95 62zM494.71 59.21h1.4v1.4h-1.4zM496.12 54.65h1.4v1.4h-1.4zM496.35 57.08h1.4v1.4h-1.4z" fill="#1B9DE2"/>
<path d="M491.29 62.12h0.82v0.82h-0.82zM493.09 66.62h0.74v0.74h-0.74zM491.87 63.68h0.93v0.93h-0.93zM494.21 61.35h0.7v0.7h-0.7zM494.75 63.58h0.69v0.69h-0.69zM493.86 61.46h0.94v0.94h-0.94z" fill="#fff" fill-opacity="0.85"/>
<path d="M497.43 63.72 L498.03 63.08 L498.63 61.42 L499.23 61.09 L499.83 61.23 L500.43 60.78 L501.03 60.02 L501.63 61.46 L502.23 61.8 L502.83 61.64 L503.43 63.25 L504.03 62.23 L504.06 63.33 L504.06 95.8 L497.43 95.8zM499.47 59.21h1.4v1.4h-1.4zM501.28 59h1.4v1.4h-1.4zM498.38 59.88h1.4v1.4h-1.4zM499.59 58.49h1.4v1.4h-1.4zM499.58 58.28h1.4v1.4h-1.4zM497.96 54.78h1.4v1.4h-1.4zM501.52 53.58h1.4v1.4h-1.4zM502.62 54.32h1.4v1.4h-1.4zM499.16 62 L499.35 61.18 L499.18 60.36 L499.11 59.55 L499.24 58.73 L499.7 57.91 L499.43 57.09 L499.31 56.27 L499.91 55.45 L499.48 54.64 L499.72 53.82 L499.65 53 L500.83 53 L501.18 53.82 L501 54.64 L501.13 55.45 L501.09 56.27 L501.09 57.09 L501.49 57.91 L501.18 58.73 L501.01 59.55 L501.45 60.36 L501.31 61.18 L501.49 62zM500.01 60.17h1.4v1.4h-1.4zM498.17 55.86h1.4v1.4h-1.4zM498.98 59.13h1.4v1.4h-1.4z" fill="#FFC60A"/>
<path d="M500.23 61.93h0.67v0.67h-0.67zM499.81 62.98h0.61v0.61h-0.61zM501.96 63.62h0.74v0.74h-0.74zM497.96 63.71h0.9v0.9h-0.9zM498.39 63.86h0.61v0.61h-0.61zM501.43 61.01h0.88v0.88h-0.88zM498.24 60.61h0.84v0.84h-0.84z" fill="#fff" fill-opacity="0.85"/>
<path d="M504.49 63.58 L505.09 61.89 L505.69 61.53 L506.29 61.44 L506.89 60.55 L507.49 61.24 L508.09 60.11 L508.69 61.94 L509.29 61.72 L509.89 62.84 L510.04 64.15 L510.04 95.8 L504.49 95.8zM507.83 59.02h1.4v1.4h-1.4zM506.1 57.35h1.4v1.4h-1.4zM506.55 60.09h1.4v1.4h-1.4zM508.78 59.21h1.4v1.4h-1.4zM505.23 52.88h1.4v1.4h-1.4zM504.77 55.61h1.4v1.4h-1.4z" fill="#3D2D9E"/>
<path d="M505.32 68.97h0.84v0.84h-0.84zM507.54 62.51h0.67v0.67h-0.67zM506.43 66.07h0.6v0.6h-0.6zM508.47 62.56h1.08v1.08h-1.08zM505.77 61.13h0.61v0.61h-0.61zM506.74 62.4h0.86v0.86h-0.86z" fill="#fff" fill-opacity="0.85"/>
<path d="M510.47 60.43 L511.07 58.9 L511.67 57.57 L512.27 57.36 L512.87 56.82 L513.47 56.57 L514.07 57.28 L514.67 58.44 L515.27 57.66 L515.87 60.16 L516.24 60.34 L516.24 95.8 L510.47 95.8zM515.01 55.52h1.4v1.4h-1.4zM513.95 55.93h1.4v1.4h-1.4zM510.98 53.43h1.4v1.4h-1.4zM512.83 56.32h1.4v1.4h-1.4zM511.13 48.97h1.4v1.4h-1.4zM510.99 52.67h1.4v1.4h-1.4zM512.36 58.5 L512.49 57.58 L512.88 56.67 L512.94 55.75 L512.55 54.83 L513.04 53.92 L513.27 53 L514.58 53 L514.13 53.92 L514.25 54.83 L514.77 55.75 L514.89 56.67 L514.46 57.58 L514.72 58.5zM513.76 53.52h1.4v1.4h-1.4zM514.49 54.42h1.4v1.4h-1.4zM514.68 55.05h1.4v1.4h-1.4z" fill="#3B5A1B"/>
<path d="M513.63 62.89h0.96v0.96h-0.96zM514.81 63.2h0.81v0.81h-0.81zM512.06 57.16h1.05v1.05h-1.05zM512.27 60.02h0.72v0.72h-0.72zM511.25 58.41h0.81v0.81h-0.81zM511.42 63.85h0.98v0.98h-0.98z" fill="#fff" fill-opacity="0.85"/>
<path d="M516.67 64.86 L517.27 63.25 L517.87 62.67 L518.47 61.75 L519.07 62.07 L519.67 62.32 L520.27 62.85 L520.87 62.2 L521.47 64.18 L522.07 64.2 L522.23 64.08 L522.23 95.8 L516.67 95.8zM520.31 61.14h1.4v1.4h-1.4zM520.62 59.04h1.4v1.4h-1.4zM520.27 59.88h1.4v1.4h-1.4zM519.41 59.6h1.4v1.4h-1.4zM517.59 52.75h1.4v1.4h-1.4zM520.12 56.08h1.4v1.4h-1.4z" fill="#F80C7C"/>
<path d="M519.47 62.1h0.74v0.74h-0.74zM520.63 61.85h0.62v0.62h-0.62zM519.92 62.35h0.62v0.62h-0.62zM518.21 63.75h0.78v0.78h-0.78zM519.72 63.22h0.68v0.68h-0.68zM519.01 65.21h1.06v1.06h-1.06z" fill="#fff" fill-opacity="0.85"/>
<path d="M522.65 60.13 L523.25 60.34 L523.85 58.66 L524.45 58.1 L525.05 58.59 L525.65 59.17 L526.25 59.16 L526.85 59.19 L527.45 60.67 L527.57 59.77 L527.57 95.8 L522.65 95.8zM525.32 56.28h1.4v1.4h-1.4zM524.91 57.22h1.4v1.4h-1.4zM523.85 55.41h1.4v1.4h-1.4zM525.59 57.68h1.4v1.4h-1.4zM526.23 50.06h1.4v1.4h-1.4zM523.19 49.63h1.4v1.4h-1.4zM523.07 59.5 L523.47 58.6 L523.76 57.7 L523.96 56.8 L523.78 55.9 L523.73 55 L525.11 55 L525.21 55.9 L525.72 56.8 L525.63 57.7 L525.69 58.6 L525.64 59.5zM522.65 55.7h1.4v1.4h-1.4zM525.36 56.11h1.4v1.4h-1.4zM521.97 57.13h1.4v1.4h-1.4z" fill="#FB7410"/>
<path d="M523.57 64.37h0.98v0.98h-0.98zM525.62 59.49h0.61v0.61h-0.61zM523.92 64.47h0.71v0.71h-0.71zM523.51 63.59h0.96v0.96h-0.96zM525.52 58.74h1.04v1.04h-1.04z" fill="#fff" fill-opacity="0.85"/>
<path d="M528 64.36 L528.6 62.51 L529.2 63.39 L529.8 61.01 L530.4 62.99 L531 62.16 L531.6 62.84 L532.2 62.78 L532.8 64.74 L532.91 63.88 L532.91 95.8 L528 95.8zM530.05 59.13h1.4v1.4h-1.4zM528.03 59.7h1.4v1.4h-1.4zM530.21 58.23h1.4v1.4h-1.4zM530.96 59.22h1.4v1.4h-1.4zM528.52 56.75h1.4v1.4h-1.4zM530.95 54.32h1.4v1.4h-1.4zM530.45 63 L530.54 62.1 L530.56 61.2 L530.61 60.3 L531.02 59.4 L530.77 58.5 L531.9 58.5 L532.18 59.4 L532.17 60.3 L532.38 61.2 L532.53 62.1 L532.57 63zM529.13 60.78h1.4v1.4h-1.4zM529.51 60.61h1.4v1.4h-1.4zM529.7 60.27h1.4v1.4h-1.4z" fill="#EE8EC0"/>
<path d="M530.92 63.19h0.86v0.86h-0.86zM529.05 63.7h1.09v1.09h-1.09zM529.88 61.61h0.89v0.89h-0.89zM529.34 67.39h1.04v1.04h-1.04zM531.01 64.02h1.07v1.07h-1.07z" fill="#fff" fill-opacity="0.85"/>
<path d="M533.34 62.14 L533.94 59.47 L534.54 59.3 L535.14 58.18 L535.74 59.67 L536.34 58.29 L536.94 60.17 L537.54 59.69 L538.14 60.42 L538.26 60.81 L538.26 95.8 L533.34 95.8zM536.64 58.3h1.4v1.4h-1.4zM536.2 57.13h1.4v1.4h-1.4zM534.15 56.5h1.4v1.4h-1.4zM535.91 57.31h1.4v1.4h-1.4zM534.03 55.59h1.4v1.4h-1.4zM536.43 54.92h1.4v1.4h-1.4zM534.47 60 L534.11 59.17 L534.26 58.33 L534.2 57.5 L534.43 56.67 L534.7 55.83 L534.54 55 L534.86 54.17 L534.53 53.33 L534.35 52.5 L534.35 51.67 L534.67 50.83 L534.73 50 L535.53 50 L535.94 50.83 L535.59 51.67 L535.7 52.5 L535.84 53.33 L536.38 54.17 L535.95 55 L536.19 55.83 L536.17 56.67 L536.11 57.5 L536.1 58.33 L536.24 59.17 L536.41 60zM534.53 52.4h1.4v1.4h-1.4zM535.86 50.32h1.4v1.4h-1.4zM532.83 52.31h1.4v1.4h-1.4z" fill="#5ED0AC"/>
<path d="M535.59 58.96h0.73v0.73h-0.73zM533.94 62.76h0.93v0.93h-0.93zM534 59.4h1.05v1.05h-1.05zM535.18 62.68h0.83v0.83h-0.83zM535.81 63.15h0.9v0.9h-0.9z" fill="#fff" fill-opacity="0.85"/>
<path d="M538.9 62.54 L539.5 60.58 L540.1 60.28 L540.7 59.3 L541.3 59.65 L541.9 59.88 L542.5 61.7 L543.1 61.5 L543.6 62.29 L543.6 95.8 L538.9 95.8zM540.26 57.13h1.4v1.4h-1.4zM540.22 56.84h1.4v1.4h-1.4zM540.5 58.16h1.4v1.4h-1.4zM539.46 59.29h1.4v1.4h-1.4zM540.7 51.65h1.4v1.4h-1.4zM540.55 56.57h1.4v1.4h-1.4z" fill="#8E0E2C"/>
<path d="M540.84 60.25h0.71v0.71h-0.71zM540.91 64.07h1v1h-1zM541.05 59.89h0.77v0.77h-0.77zM541.27 65.61h1.05v1.05h-1.05zM540.54 64.36h1v1h-1z" fill="#fff" fill-opacity="0.85"/>
<rect x="302.85" y="42.85" width="1.5" height="1.5" fill="#1B9DE2"/>
<rect x="326.35" y="44.15" width="1.5" height="1.5" fill="#3D2D9E"/>
<rect x="325.15" y="50.05" width="1.5" height="1.5" fill="#3D2D9E"/>
<rect x="330.65" y="52.45" width="1.5" height="1.5" fill="#3D2D9E"/>
<rect x="337.25" y="38.25" width="1.5" height="1.5" fill="#3B5A1B"/>
<rect x="340.05" y="50.75" width="1.5" height="1.5" fill="#3B5A1B"/>
<rect x="347.85" y="43.45" width="1.5" height="1.5" fill="#F80C7C"/>
<rect x="354.25" y="39.95" width="1.5" height="1.5" fill="#F80C7C"/>
<rect x="361.35" y="44.65" width="1.5" height="1.5" fill="#FB7410"/>
<rect x="371.95" y="32.85" width="1.5" height="1.5" fill="#EE8EC0"/>
<rect x="373.15" y="46.55" width="1.5" height="1.5" fill="#EE8EC0"/>
<rect x="384.95" y="44.65" width="1.5" height="1.5" fill="#5ED0AC"/>
<rect x="394.45" y="37.75" width="1.5" height="1.5" fill="#8E0E2C"/>
<rect x="405.05" y="40.65" width="1.5" height="1.5" fill="#15784E"/>
<rect x="407.45" y="44.65" width="1.5" height="1.5" fill="#15784E"/>
<rect x="412.15" y="44.65" width="1.5" height="1.5" fill="#1B9DE2"/>
<rect x="420.15" y="39.75" width="1.5" height="1.5" fill="#FFC60A"/>
<rect x="434.25" y="33.15" width="1.5" height="1.5" fill="#3D2D9E"/>
<rect x="437.25" y="50.85" width="1.5" height="1.5" fill="#3B5A1B"/>
<rect x="442.15" y="53.25" width="1.5" height="1.5" fill="#3B5A1B"/>
<rect x="445.65" y="24.85" width="1.5" height="1.5" fill="#F80C7C"/>
<rect x="451.55" y="43.75" width="1.5" height="1.5" fill="#F80C7C"/>
<rect x="459.15" y="49.25" width="1.5" height="1.5" fill="#FB7410"/>
<rect x="472.15" y="41.45" width="1.5" height="1.5" fill="#5ED0AC"/>
<rect x="469.05" y="52.05" width="1.5" height="1.5" fill="#5ED0AC"/>
<rect x="476.85" y="44.55" width="1.5" height="1.5" fill="#8E0E2C"/>
<rect x="481.65" y="47.35" width="1.5" height="1.5" fill="#8E0E2C"/>
<rect x="481.15" y="53.25" width="1.5" height="1.5" fill="#8E0E2C"/>
<rect x="491.05" y="52.05" width="1.5" height="1.5" fill="#1B9DE2"/>
<rect x="507.65" y="46.85" width="1.5" height="1.5" fill="#3D2D9E"/>
<rect x="513.05" y="48.55" width="1.5" height="1.5" fill="#3B5A1B"/>
<rect x="516.35" y="49.75" width="1.5" height="1.5" fill="#F80C7C"/>
<rect x="535.75" y="37.85" width="1.5" height="1.5" fill="#5ED0AC"/>
<rect x="535.25" y="40.25" width="1.5" height="1.5" fill="#5ED0AC"/>
<rect x="536.25" y="43.25" width="1.5" height="1.5" fill="#5ED0AC"/>
<rect x="535.75" y="45.75" width="1.5" height="1.5" fill="#5ED0AC"/>
<rect x="535.25" y="48.75" width="1.5" height="1.5" fill="#5ED0AC"/>
<line x1="296" y1="72.7" x2="543.6" y2="72.7" stroke="#E8403A" stroke-width="0.55" stroke-opacity="0.9"/>
<text x="282.3" y="50.2" font-size="5" text-anchor="middle" fill="#222" font-family="Liberation Sans, sans-serif" transform="rotate(-90 282.3 50.2)" font-weight="bold" dominant-baseline="central" stroke="#222" stroke-width="0.1">|iHS|</text>
<line x1="21.3" y1="123.4" x2="21.3" y2="208.4" stroke="#888" stroke-width="0.6"/>
<line x1="19.8" y1="199.1" x2="21.3" y2="199.1" stroke="#888" stroke-width="0.5"/>
<text x="17.8" y="200.1" font-size="2.9" text-anchor="end" fill="#222" font-family="Liberation Sans, sans-serif"  stroke="#222" stroke-width="0.1">4</text>
<line x1="19.8" y1="180.2" x2="21.3" y2="180.2" stroke="#888" stroke-width="0.5"/>
<text x="17.8" y="181.2" font-size="2.9" text-anchor="end" fill="#222" font-family="Liberation Sans, sans-serif"  stroke="#222" stroke-width="0.1">6</text>
<line x1="19.8" y1="161.3" x2="21.3" y2="161.3" stroke="#888" stroke-width="0.5"/>
<text x="17.8" y="162.3" font-size="2.9" text-anchor="end" fill="#222" font-family="Liberation Sans, sans-serif"  stroke="#222" stroke-width="0.1">8</text>
<line x1="19.8" y1="142.4" x2="21.3" y2="142.4" stroke="#888" stroke-width="0.5"/>
<text x="17.8" y="143.4" font-size="2.9" text-anchor="end" fill="#222" font-family="Liberation Sans, sans-serif"  stroke="#222" stroke-width="0.1">10</text>
<line x1="19.8" y1="123.5" x2="21.3" y2="123.5" stroke="#888" stroke-width="0.5"/>
<text x="17.8" y="124.5" font-size="2.9" text-anchor="end" fill="#222" font-family="Liberation Sans, sans-serif"  stroke="#222" stroke-width="0.1">12</text>
<line x1="21.3" y1="211.5" x2="255" y2="211.5" stroke="#888" stroke-width="0.6"/>
<line x1="21.3" y1="211.5" x2="21.3" y2="213" stroke="#888" stroke-width="0.5"/>
<text x="21.3" y="218.9" font-size="3.4" text-anchor="middle" fill="#222" font-family="Liberation Sans, sans-serif"  stroke="#222" stroke-width="0.1">Chr</text>
<line x1="28.72" y1="211.5" x2="28.72" y2="213" stroke="#888" stroke-width="0.5"/>
<text x="28.72" y="218.9" font-size="3.4" text-anchor="middle" fill="#222" font-family="Liberation Sans, sans-serif"  stroke="#222" stroke-width="0.1">1</text>
<line x1="41.35" y1="211.5" x2="41.35" y2="213" stroke="#888" stroke-width="0.5"/>
<text x="41.35" y="218.9" font-size="3.4" text-anchor="middle" fill="#222" font-family="Liberation Sans, sans-serif"  stroke="#222" stroke-width="0.1">2</text>
<line x1="52.68" y1="211.5" x2="52.68" y2="213" stroke="#888" stroke-width="0.5"/>
<text x="52.68" y="218.9" font-size="3.4" text-anchor="middle" fill="#222" font-family="Liberation Sans, sans-serif"  stroke="#222" stroke-width="0.1">3</text>
<line x1="63.8" y1="211.5" x2="63.8" y2="213" stroke="#888" stroke-width="0.5"/>
<text x="63.8" y="218.9" font-size="3.4" text-anchor="middle" fill="#222" font-family="Liberation Sans, sans-serif"  stroke="#222" stroke-width="0.1">4</text>
<line x1="74.46" y1="211.5" x2="74.46" y2="213" stroke="#888" stroke-width="0.5"/>
<text x="74.46" y="218.9" font-size="3.4" text-anchor="middle" fill="#222" font-family="Liberation Sans, sans-serif"  stroke="#222" stroke-width="0.1">5</text>
<line x1="84.87" y1="211.5" x2="84.87" y2="213" stroke="#888" stroke-width="0.5"/>
<text x="84.87" y="218.9" font-size="3.4" text-anchor="middle" fill="#222" font-family="Liberation Sans, sans-serif"  stroke="#222" stroke-width="0.1">6</text>
<line x1="95.28" y1="211.5" x2="95.28" y2="213" stroke="#888" stroke-width="0.5"/>
<text x="95.28" y="218.9" font-size="3.4" text-anchor="middle" fill="#222" font-family="Liberation Sans, sans-serif"  stroke="#222" stroke-width="0.1">7</text>
<line x1="105.39" y1="211.5" x2="105.39" y2="213" stroke="#888" stroke-width="0.5"/>
<text x="105.39" y="218.9" font-size="3.4" text-anchor="middle" fill="#222" font-family="Liberation Sans, sans-serif"  stroke="#222" stroke-width="0.1">8</text>
<line x1="115.4" y1="211.5" x2="115.4" y2="213" stroke="#888" stroke-width="0.5"/>
<text x="115.4" y="218.9" font-size="3.4" text-anchor="middle" fill="#222" font-family="Liberation Sans, sans-serif"  stroke="#222" stroke-width="0.1">9</text>
<line x1="125.1" y1="211.5" x2="125.1" y2="213" stroke="#888" stroke-width="0.5"/>
<text x="125.1" y="218.9" font-size="3.4" text-anchor="middle" fill="#222" font-family="Liberation Sans, sans-serif"  stroke="#222" stroke-width="0.1">10</text>
<line x1="133.9" y1="211.5" x2="133.9" y2="213" stroke="#888" stroke-width="0.5"/>
<text x="133.9" y="218.9" font-size="3.4" text-anchor="middle" fill="#222" font-family="Liberation Sans, sans-serif"  stroke="#222" stroke-width="0.1">11</text>
<line x1="142.29" y1="211.5" x2="142.29" y2="213" stroke="#888" stroke-width="0.5"/>
<text x="142.29" y="218.9" font-size="3.4" text-anchor="middle" fill="#222" font-family="Liberation Sans, sans-serif"  stroke="#222" stroke-width="0.1">12</text>
<line x1="150.58" y1="211.5" x2="150.58" y2="213" stroke="#888" stroke-width="0.5"/>
<text x="150.58" y="218.9" font-size="3.4" text-anchor="middle" fill="#222" font-family="Liberation Sans, sans-serif"  stroke="#222" stroke-width="0.1">13</text>
<line x1="158.46" y1="211.5" x2="158.46" y2="213" stroke="#888" stroke-width="0.5"/>
<text x="158.46" y="218.9" font-size="3.4" text-anchor="middle" fill="#222" font-family="Liberation Sans, sans-serif"  stroke="#222" stroke-width="0.1">14</text>
<line x1="166.15" y1="211.5" x2="166.15" y2="213" stroke="#888" stroke-width="0.5"/>
<text x="166.15" y="218.9" font-size="3.4" text-anchor="middle" fill="#222" font-family="Liberation Sans, sans-serif"  stroke="#222" stroke-width="0.1">15</text>
<line x1="173.42" y1="211.5" x2="173.42" y2="213" stroke="#888" stroke-width="0.5"/>
<text x="173.42" y="218.9" font-size="3.4" text-anchor="middle" fill="#222" font-family="Liberation Sans, sans-serif"  stroke="#222" stroke-width="0.1">16</text>
<line x1="180.9" y1="211.5" x2="180.9" y2="213" stroke="#888" stroke-width="0.5"/>
<text x="180.9" y="218.9" font-size="3.4" text-anchor="middle" fill="#222" font-family="Liberation Sans, sans-serif"  stroke="#222" stroke-width="0.1">17</text>
<line x1="187.68" y1="211.5" x2="187.68" y2="213" stroke="#888" stroke-width="0.5"/>
<text x="187.68" y="218.9" font-size="3.4" text-anchor="middle" fill="#222" font-family="Liberation Sans, sans-serif"  stroke="#222" stroke-width="0.1">18</text>
<line x1="194.55" y1="211.5" x2="194.55" y2="213" stroke="#888" stroke-width="0.5"/>
<text x="194.55" y="218.9" font-size="3.4" text-anchor="middle" fill="#222" font-family="Liberation Sans, sans-serif"  stroke="#222" stroke-width="0.1">19</text>
<line x1="201.32" y1="211.5" x2="201.32" y2="213" stroke="#888" stroke-width="0.5"/>
<text x="201.32" y="218.9" font-size="3.4" text-anchor="middle" fill="#222" font-family="Liberation Sans, sans-serif"  stroke="#222" stroke-width="0.1">20</text>
<line x1="207.89" y1="211.5" x2="207.89" y2="213" stroke="#888" stroke-width="0.5"/>
<text x="207.89" y="218.9" font-size="3.4" text-anchor="middle" fill="#222" font-family="Liberation Sans, sans-serif"  stroke="#222" stroke-width="0.1">21</text>
<line x1="214.46" y1="211.5" x2="214.46" y2="213" stroke="#888" stroke-width="0.5"/>
<line x1="220.63" y1="211.5" x2="220.63" y2="213" stroke="#888" stroke-width="0.5"/>
<text x="220.63" y="218.9" font-size="3.4" text-anchor="middle" fill="#222" font-family="Liberation Sans, sans-serif"  stroke="#222" stroke-width="0.1">23</text>
<line x1="226.39" y1="211.5" x2="226.39" y2="213" stroke="#888" stroke-width="0.5"/>
<line x1="232.15" y1="211.5" x2="232.15" y2="213" stroke="#888" stroke-width="0.5"/>
<text x="232.15" y="218.9" font-size="3.4" text-anchor="middle" fill="#222" font-family="Liberation Sans, sans-serif"  stroke="#222" stroke-width="0.1">25</text>
<line x1="237.51" y1="211.5" x2="237.51" y2="213" stroke="#888" stroke-width="0.5"/>
<line x1="242.57" y1="211.5" x2="242.57" y2="213" stroke="#888" stroke-width="0.5"/>
<text x="242.57" y="218.9" font-size="3.4" text-anchor="middle" fill="#222" font-family="Liberation Sans, sans-serif"  stroke="#222" stroke-width="0.1">27</text>
<line x1="247.62" y1="211.5" x2="247.62" y2="213" stroke="#888" stroke-width="0.5"/>
<line x1="252.78" y1="211.5" x2="252.78" y2="213" stroke="#888" stroke-width="0.5"/>
<text x="252.78" y="218.9" font-size="3.4" text-anchor="middle" fill="#222" font-family="Liberation Sans, sans-serif"  stroke="#222" stroke-width="0.1">29</text>
<path d="M22.3 159.62 L22.9 159.45 L23.5 158.32 L24.1 158.01 L24.7 158.05 L25.3 156.93 L25.9 156.83 L26.5 158.47 L27.1 157.32 L27.7 157.27 L28.3 158.79 L28.9 157.74 L29.5 158.47 L30.1 157.75 L30.7 158.08 L31.3 157.1 L31.9 158.07 L32.5 158.54 L33.1 157.85 L33.7 158.75 L34.3 159.39 L34.9 158.96 L35.14 160.66 L35.14 184.88 L34.9 184.49 L34.3 184.62 L33.7 187.41 L33.1 186.93 L32.5 187.53 L31.9 187.91 L31.3 187.51 L30.7 188.01 L30.1 186.75 L29.5 187.72 L28.9 186.87 L28.3 188.05 L27.7 187.91 L27.1 186.03 L26.5 186.13 L25.9 186.32 L25.3 188.12 L24.7 186.85 L24.1 187.3 L23.5 185.74 L22.9 185.46 L22.3 184.39zM26.25 155.28h1.4v1.4h-1.4zM32.8 156.02h1.4v1.4h-1.4zM30.17 154.26h1.4v1.4h-1.4zM33.83 155.74h1.4v1.4h-1.4zM30.05 155.45h1.4v1.4h-1.4zM33.52 154.39h1.4v1.4h-1.4zM32.81 154.8h1.4v1.4h-1.4zM24.6 156.04h1.4v1.4h-1.4zM28.89 154.08h1.4v1.4h-1.4zM22.85 151.23h1.4v1.4h-1.4zM33.82 155.06h1.4v1.4h-1.4zM31.58 153.45h1.4v1.4h-1.4zM23.88 154.03h1.4v1.4h-1.4zM31.2 186.72h1.4v1.4h-1.4zM29.37 186.73h1.4v1.4h-1.4zM22.63 186.65h1.4v1.4h-1.4zM32.53 188.06h1.4v1.4h-1.4zM33.71 193.51h1.4v1.4h-1.4zM25.77 186.55h1.4v1.4h-1.4zM23.01 186.71h1.4v1.4h-1.4zM24.44 186.6h1.4v1.4h-1.4zM26.93 187.2h1.4v1.4h-1.4zM22.6 187.05h1.4v1.4h-1.4zM32.37 188.27h1.4v1.4h-1.4zM26.57 190.6h1.4v1.4h-1.4zM28.26 191.52h1.4v1.4h-1.4zM29.15 191.1h1.4v1.4h-1.4zM29.44 193h1.4v1.4h-1.4zM28.1 190.46h1.4v1.4h-1.4zM30.63 189.49h1.4v1.4h-1.4zM25.66 193.19h1.4v1.4h-1.4zM27.41 186 L27.39 186.85 L27.47 187.71 L28.01 188.56 L28.23 189.42 L27.88 190.27 L27.95 191.13 L28.07 191.98 L28.27 192.84 L28.55 193.69 L28.47 194.55 L28.6 195.4 L29.63 195.4 L29.66 194.55 L29.88 193.69 L29.75 192.84 L29.67 191.98 L29.76 191.13 L29.93 190.27 L29.95 189.42 L30.23 188.56 L29.82 187.71 L29.92 186.85 L29.95 186zM27.98 192.16h1.4v1.4h-1.4zM26.65 189h1.4v1.4h-1.4zM27.57 193.3h1.4v1.4h-1.4zM27.99 193.49h1.4v1.4h-1.4zM24.19 186 L23.8 186.86 L24.18 187.73 L23.98 188.59 L24.57 189.46 L24.18 190.32 L24.46 191.18 L24.39 192.05 L25.73 192.05 L25.89 191.18 L25.89 190.32 L26.24 189.46 L26.23 188.59 L26.46 187.73 L26.14 186.86 L26.71 186zM22.59 191.06h1.4v1.4h-1.4zM26.09 191.28h1.4v1.4h-1.4zM24.3 191.1h1.4v1.4h-1.4zM26.28 187.42h1.4v1.4h-1.4z" fill="#1B9DE2"/>
<path d="M30.97 161.94h1.02v1.02h-1.02zM30.17 159.05h0.77v0.77h-0.77zM25.34 157.68h0.63v0.63h-0.63zM29.4 185.85h0.62v0.62h-0.62zM32.78 182.98h0.95v0.95h-0.95zM33.04 183.14h0.89v0.89h-0.89z" fill="#fff" fill-opacity="0.85"/>
<path d="M35.54 158.07 L36.14 158.75 L36.74 156.82 L37.34 156.3 L37.94 157.03 L38.54 156.75 L39.14 156.53 L39.74 157.58 L40.34 156.92 L40.94 156.38 L41.54 156.2 L42.14 157.42 L42.74 156.65 L43.34 157.26 L43.94 156.4 L44.54 156.09 L45.14 156.77 L45.74 157.82 L46.34 157.31 L46.94 159.33 L47.17 159.88 L47.17 183.39 L46.94 183.73 L46.34 182.55 L45.74 184.82 L45.14 185.87 L44.54 183.92 L43.94 184.45 L43.34 184.44 L42.74 185.07 L42.14 184.82 L41.54 184.93 L40.94 185.66 L40.34 183.8 L39.74 183.93 L39.14 184.1 L38.54 184.1 L37.94 183.96 L37.34 186.14 L36.74 185.07 L36.14 182.45 L35.54 182.67zM38.7 153.92h1.4v1.4h-1.4zM38.68 154.63h1.4v1.4h-1.4zM41.57 154.14h1.4v1.4h-1.4zM39.18 155.48h1.4v1.4h-1.4zM36.66 154.67h1.4v1.4h-1.4zM41.24 155.67h1.4v1.4h-1.4zM36.19 154.47h1.4v1.4h-1.4zM39.31 151.38h1.4v1.4h-1.4zM43.66 152.5h1.4v1.4h-1.4zM43.85 151.29h1.4v1.4h-1.4zM39.93 152.54h1.4v1.4h-1.4zM40.61 184.91h1.4v1.4h-1.4zM42.72 186.3h1.4v1.4h-1.4zM40.24 184.38h1.4v1.4h-1.4zM42.73 186.78h1.4v1.4h-1.4zM36.1 186.18h1.4v1.4h-1.4zM44.69 185.26h1.4v1.4h-1.4zM45.29 187.31h1.4v1.4h-1.4zM43.75 187.34h1.4v1.4h-1.4zM38.13 185.3h1.4v1.4h-1.4zM43.98 184.53h1.4v1.4h-1.4zM44.77 190.26h1.4v1.4h-1.4zM42.44 189.97h1.4v1.4h-1.4zM41.33 186.82h1.4v1.4h-1.4zM41.59 186.32h1.4v1.4h-1.4zM36.87 190.17h1.4v1.4h-1.4zM35.81 186.76h1.4v1.4h-1.4zM36.22 184 L35.95 184.88 L36.42 185.75 L36.86 186.62 L36.51 187.5 L36.66 188.38 L36.65 189.25 L36.84 190.12 L36.93 191 L38.38 191 L38.19 190.12 L38.57 189.25 L38.61 188.38 L38.58 187.5 L39.11 186.62 L39.15 185.75 L38.85 184.88 L39.04 184zM36.43 186.68h1.4v1.4h-1.4zM36.36 186.81h1.4v1.4h-1.4zM35.29 187.3h1.4v1.4h-1.4zM38.85 186.78h1.4v1.4h-1.4zM42.38 184 L42.36 184.86 L42.52 185.72 L42.95 186.57 L43.1 187.43 L42.76 188.29 L44.04 188.29 L44.47 187.43 L44.8 186.57 L44.6 185.72 L44.99 184.86 L45.14 184zM41.87 186.57h1.4v1.4h-1.4zM44.75 185.27h1.4v1.4h-1.4zM43.76 185.66h1.4v1.4h-1.4zM44.35 186.22h1.4v1.4h-1.4z" fill="#FFC60A"/>
<path d="M38.6 156.37h0.84v0.84h-0.84zM39.84 156.78h0.69v0.69h-0.69zM39.62 157.87h0.67v0.67h-0.67zM45.86 181.48h0.84v0.84h-0.84zM41.84 180.78h1.01v1.01h-1.01zM41.51 183.82h0.84v0.84h-0.84z" fill="#fff" fill-opacity="0.85"/>
<path d="M47.67 158.48 L48.27 157.97 L48.87 156.28 L49.47 156.17 L50.07 156.62 L50.67 155.63 L51.27 155.16 L51.87 155.17 L52.47 156.14 L53.07 156.05 L53.67 156.62 L54.27 156.41 L54.87 155.18 L55.47 155.08 L56.07 155.47 L56.67 156.1 L57.27 157.92 L57.68 158.76 L57.68 185.62 L57.27 184.6 L56.67 186.85 L56.07 186.3 L55.47 186.82 L54.87 187.55 L54.27 186.01 L53.67 186.02 L53.07 187.8 L52.47 186.5 L51.87 186.66 L51.27 187.19 L50.67 187.42 L50.07 185.82 L49.47 186.6 L48.87 186.07 L48.27 185.41 L47.67 183.96zM52.74 153.47h1.4v1.4h-1.4zM52.38 154.56h1.4v1.4h-1.4zM48.55 154.63h1.4v1.4h-1.4zM48.49 152.66h1.4v1.4h-1.4zM55.46 154.39h1.4v1.4h-1.4zM55.95 154.61h1.4v1.4h-1.4zM54.43 149.61h1.4v1.4h-1.4zM50.13 150.02h1.4v1.4h-1.4zM53.36 149.37h1.4v1.4h-1.4zM49.86 149.63h1.4v1.4h-1.4zM56.13 187.46h1.4v1.4h-1.4zM48.49 188.49h1.4v1.4h-1.4zM51.92 188.21h1.4v1.4h-1.4zM53.58 188.85h1.4v1.4h-1.4zM52.57 187.49h1.4v1.4h-1.4zM53.16 188.92h1.4v1.4h-1.4zM49.09 188.55h1.4v1.4h-1.4zM48.58 188.16h1.4v1.4h-1.4zM55.87 187.43h1.4v1.4h-1.4zM52.85 191.07h1.4v1.4h-1.4zM53.3 190.59h1.4v1.4h-1.4zM50.29 189.18h1.4v1.4h-1.4zM48.09 191.88h1.4v1.4h-1.4zM54.27 191.02h1.4v1.4h-1.4zM53.23 186 L53.08 186.81 L53.6 187.62 L53.34 188.43 L53.22 189.24 L53.51 190.06 L53.59 190.87 L53.4 191.68 L53.67 192.49 L53.44 193.3 L53.64 194.11 L53.42 194.92 L53.74 195.73 L53.65 196.54 L53.67 197.36 L53.55 198.17 L53.81 198.98 L53.97 199.79 L53.94 200.6 L54.98 200.6 L55.28 199.79 L55.02 198.98 L55.06 198.17 L55.38 197.36 L55.22 196.54 L55.65 195.73 L54.98 194.92 L55.25 194.11 L55.05 193.3 L55.64 192.49 L55.36 191.68 L55.52 190.87 L55.22 190.06 L55.3 189.24 L55.63 188.43 L55.71 187.62 L55.27 186.81 L55.69 186zM53.92 186.8h1.4v1.4h-1.4zM53.8 195.09h1.4v1.4h-1.4zM53.58 194h1.4v1.4h-1.4zM55.64 198.43h1.4v1.4h-1.4zM48.38 186 L48.37 186.85 L48.44 187.7 L48.38 188.55 L48.97 189.39 L48.63 190.24 L49.14 191.09 L49.1 191.94 L48.87 192.79 L48.97 193.64 L49 194.49 L49.03 195.34 L48.86 196.18 L49.23 197.03 L50.48 197.03 L50.5 196.18 L50.59 195.34 L50.58 194.49 L50.77 193.64 L50.42 192.79 L50.66 191.94 L51.23 191.09 L51.04 190.24 L51.36 189.39 L50.88 188.55 L51.08 187.7 L51.08 186.85 L50.84 186zM49.59 188.55h1.4v1.4h-1.4zM47.21 188.4h1.4v1.4h-1.4zM50.34 187.74h1.4v1.4h-1.4zM49.04 188.26h1.4v1.4h-1.4z" fill="#3D2D9E"/>
<path d="M49.89 156.75h0.69v0.69h-0.69zM51.54 155.6h0.66v0.66h-0.66zM49.46 155.69h0.85v0.85h-0.85zM48.57 184.44h0.8v0.8h-0.8zM54.07 186.38h0.63v0.63h-0.63zM51.32 186.09h1.08v1.08h-1.08z" fill="#fff" fill-opacity="0.85"/>
<path d="M58.59 160.58 L59.19 159.55 L59.79 159.53 L60.39 158.13 L60.99 159.04 L61.59 158.49 L62.19 158.05 L62.79 157.9 L63.39 159.26 L63.99 158.35 L64.59 159.38 L65.19 158.73 L65.79 159.67 L66.39 158.4 L66.99 158.3 L67.59 158.84 L68.19 160.71 L68.79 161.12 L69 160.83 L69 181.68 L68.79 183.37 L68.19 184.84 L67.59 184.72 L66.99 183.81 L66.39 183.87 L65.79 184.02 L65.19 184.21 L64.59 183.89 L63.99 183.93 L63.39 185.37 L62.79 185.96 L62.19 184.28 L61.59 186.14 L60.99 184.94 L60.39 185.73 L59.79 185.22 L59.19 184.5 L58.59 181.54zM61.26 157.87h1.4v1.4h-1.4zM64.1 157.45h1.4v1.4h-1.4zM61.15 157.87h1.4v1.4h-1.4zM66.39 156.9h1.4v1.4h-1.4zM61.54 157.05h1.4v1.4h-1.4zM64.79 157.21h1.4v1.4h-1.4zM65.35 157.67h1.4v1.4h-1.4zM66.25 153.73h1.4v1.4h-1.4zM67.08 154.69h1.4v1.4h-1.4zM62.29 155.35h1.4v1.4h-1.4zM65.73 154.1h1.4v1.4h-1.4zM60.93 185.84h1.4v1.4h-1.4zM64.09 187.1h1.4v1.4h-1.4zM65.08 186.05h1.4v1.4h-1.4zM59.84 185.81h1.4v1.4h-1.4zM65.08 186.52h1.4v1.4h-1.4zM65.53 184.62h1.4v1.4h-1.4zM64.76 185.51h1.4v1.4h-1.4zM66.33 185.14h1.4v1.4h-1.4zM64.44 187.23h1.4v1.4h-1.4zM66.83 189.96h1.4v1.4h-1.4zM61.53 188.15h1.4v1.4h-1.4zM59.07 188.3h1.4v1.4h-1.4zM67.38 186.82h1.4v1.4h-1.4zM63.74 186.85h1.4v1.4h-1.4zM59.14 184 L59.2 184.81 L58.82 185.63 L59.27 186.44 L59.18 187.25 L59.2 188.07 L59.64 188.88 L59.72 189.69 L59.11 190.5 L59.53 191.32 L59.41 192.13 L59.52 192.94 L59.63 193.76 L59.3 194.57 L59.83 195.38 L59.72 196.2 L59.75 197.01 L59.79 197.82 L60 198.63 L59.53 199.45 L59.87 200.26 L59.98 201.07 L59.81 201.89 L59.85 202.7 L61.32 202.7 L61.32 201.89 L61.61 201.07 L61.58 200.26 L60.82 199.45 L61.5 198.63 L61.27 197.82 L61.49 197.01 L61.33 196.2 L61.43 195.38 L61.19 194.57 L61.74 193.76 L61.35 192.94 L61.56 192.13 L61.75 191.32 L61.17 190.5 L61.99 189.69 L61.59 188.88 L61.26 188.07 L61.72 187.25 L61.82 186.44 L61.43 185.63 L61.62 184.81 L61.47 184zM60.83 191.5h1.4v1.4h-1.4zM61.73 200.59h1.4v1.4h-1.4zM58.91 200.84h1.4v1.4h-1.4zM58.48 186h1.4v1.4h-1.4zM64.58 184 L64.26 184.82 L64.45 185.63 L64.3 186.45 L64.38 187.26 L64.47 188.08 L64.87 188.89 L64.54 189.71 L64.76 190.52 L64.61 191.34 L65.04 192.15 L65.2 192.97 L64.87 193.78 L64.76 194.6 L64.74 195.41 L66.29 195.41 L66.08 194.6 L66.18 193.78 L66.37 192.97 L66.46 192.15 L66.45 191.34 L66.64 190.52 L66.42 189.71 L66.65 188.89 L66.92 188.08 L66.51 187.26 L66.43 186.45 L66.81 185.63 L66.6 184.82 L67.02 184zM66.79 184.67h1.4v1.4h-1.4zM63.62 184.44h1.4v1.4h-1.4zM64.61 187.82h1.4v1.4h-1.4zM63.08 189.99h1.4v1.4h-1.4z" fill="#3B5A1B"/>
<path d="M59.84 161.23h0.76v0.76h-0.76zM61.2 159.1h0.73v0.73h-0.73zM59.37 160.36h0.81v0.81h-0.81zM64.42 182.5h1v1h-1zM61.24 180.73h0.67v0.67h-0.67zM65.56 183.91h1.02v1.02h-1.02z" fill="#fff" fill-opacity="0.85"/>
<path d="M69.41 161.24 L70.01 159.92 L70.61 158.92 L71.21 157.83 L71.81 159.09 L72.41 159.59 L73.01 159.61 L73.61 158.73 L74.21 159.13 L74.81 159.66 L75.41 159.43 L76.01 159.01 L76.61 158.63 L77.21 158.84 L77.81 158.26 L78.41 159.06 L79.01 160.85 L79.51 162.12 L79.51 184.77 L79.01 185.1 L78.41 185.75 L77.81 186.77 L77.21 187.73 L76.61 186.89 L76.01 188.1 L75.41 186.17 L74.81 186.56 L74.21 187.05 L73.61 186.79 L73.01 187.84 L72.41 187.79 L71.81 188.04 L71.21 187.27 L70.61 185.09 L70.01 185.62 L69.41 184.78zM73.65 156.25h1.4v1.4h-1.4zM71.76 157.21h1.4v1.4h-1.4zM70.14 154.69h1.4v1.4h-1.4zM75.3 156.77h1.4v1.4h-1.4zM77.36 156.71h1.4v1.4h-1.4zM77.95 157.45h1.4v1.4h-1.4zM70.86 154.58h1.4v1.4h-1.4zM76.75 154.92h1.4v1.4h-1.4zM71.67 151.75h1.4v1.4h-1.4zM77.8 154.91h1.4v1.4h-1.4zM72.78 187.33h1.4v1.4h-1.4zM71.77 187.33h1.4v1.4h-1.4zM78.13 187.42h1.4v1.4h-1.4zM69.93 186.47h1.4v1.4h-1.4zM69.93 187.63h1.4v1.4h-1.4zM74 186.47h1.4v1.4h-1.4zM74.95 190.11h1.4v1.4h-1.4zM76.66 187.93h1.4v1.4h-1.4zM77.96 186.35h1.4v1.4h-1.4zM71.64 190.71h1.4v1.4h-1.4zM71.65 191.03h1.4v1.4h-1.4zM69.64 189.48h1.4v1.4h-1.4zM77.93 189.02h1.4v1.4h-1.4zM77.45 189.19h1.4v1.4h-1.4zM77.15 186 L77.24 186.84 L77.03 187.67 L77.29 188.5 L76.87 189.34 L77.11 190.18 L76.96 191.01 L77.03 191.84 L77.3 192.68 L76.96 193.51 L77.46 194.35 L77.11 195.19 L77.39 196.02 L77.32 196.85 L77.18 197.69 L77.77 198.52 L77.8 199.36 L77.5 200.19 L77.33 201.03 L77.13 201.86 L77.83 202.7 L79.22 202.7 L78.77 201.86 L78.77 201.03 L79.03 200.19 L79.16 199.36 L79.48 198.52 L79.11 197.69 L79.25 196.85 L79.24 196.02 L79.24 195.19 L79.19 194.35 L79.2 193.51 L79.52 192.68 L79.28 191.84 L79.33 191.01 L79.15 190.18 L79.42 189.34 L79.72 188.5 L79.54 187.67 L79.59 186.84 L79.51 186zM78.62 187.75h1.4v1.4h-1.4zM77.72 193.23h1.4v1.4h-1.4zM76.14 195.73h1.4v1.4h-1.4zM76.85 194.25h1.4v1.4h-1.4zM72.17 186 L72.44 186.86 L72.78 187.72 L72.36 188.59 L72.68 189.45 L72.53 190.31 L72.63 191.17 L72.57 192.04 L72.51 192.9 L72.34 193.76 L73.14 194.62 L72.72 195.49 L73.03 196.35 L74.24 196.35 L74.13 195.49 L74.35 194.62 L73.91 193.76 L74.34 192.9 L74.11 192.04 L74.61 191.17 L74.4 190.31 L74.74 189.45 L74.45 188.59 L74.7 187.72 L74.75 186.86 L74.9 186zM71.99 191.02h1.4v1.4h-1.4zM72.38 189.78h1.4v1.4h-1.4zM73.39 194.48h1.4v1.4h-1.4zM73.12 187.67h1.4v1.4h-1.4z" fill="#F80C7C"/>
<path d="M71.74 160.37h0.67v0.67h-0.67zM70.52 160.42h0.76v0.76h-0.76zM72.08 160.72h1.06v1.06h-1.06zM74.27 186.06h0.97v0.97h-0.97zM76.84 184.28h0.82v0.82h-0.82zM75.68 182.9h0.66v0.66h-0.66z" fill="#fff" fill-opacity="0.85"/>
<path d="M80.12 164 L80.72 162.22 L81.32 161.63 L81.92 161.68 L82.52 160.47 L83.12 160.28 L83.72 161.55 L84.32 161.1 L84.92 160.07 L85.52 159.96 L86.12 160.6 L86.72 159.91 L87.32 161.56 L87.92 160.39 L88.52 161.36 L89.12 162.36 L89.62 163.26 L89.62 182.5 L89.12 183.62 L88.52 184.48 L87.92 184.72 L87.32 184.03 L86.72 186.15 L86.12 185.46 L85.52 184 L84.92 184.86 L84.32 185.61 L83.72 186.18 L83.12 183.96 L82.52 183.82 L81.92 184.95 L81.32 184.03 L80.72 184.39 L80.12 183.44zM82.74 158.35h1.4v1.4h-1.4zM87.44 159.17h1.4v1.4h-1.4zM81.64 159.66h1.4v1.4h-1.4zM85.37 159.77h1.4v1.4h-1.4zM80.15 158.41h1.4v1.4h-1.4zM84.8 159.43h1.4v1.4h-1.4zM81.9 156.26h1.4v1.4h-1.4zM87.21 155.9h1.4v1.4h-1.4zM82.34 153.69h1.4v1.4h-1.4zM85.54 185.62h1.4v1.4h-1.4zM82.46 184.54h1.4v1.4h-1.4zM87.57 185.95h1.4v1.4h-1.4zM85.19 186.13h1.4v1.4h-1.4zM82.94 184.81h1.4v1.4h-1.4zM87.21 188.66h1.4v1.4h-1.4zM86.2 184.5h1.4v1.4h-1.4zM83.6 184.97h1.4v1.4h-1.4zM81.57 190.66h1.4v1.4h-1.4zM81.76 190.41h1.4v1.4h-1.4zM87.89 186.9h1.4v1.4h-1.4zM87.69 188.29h1.4v1.4h-1.4zM81.72 187.23h1.4v1.4h-1.4zM80.13 184 L80.14 184.83 L80.31 185.66 L80.61 186.49 L80.32 187.32 L80.26 188.15 L80.59 188.98 L80.75 189.81 L80.6 190.64 L80.24 191.47 L80.62 192.3 L80.85 193.13 L80.71 193.96 L81.05 194.79 L80.97 195.62 L81.02 196.45 L81.06 197.28 L81.11 198.11 L80.83 198.94 L80.59 199.77 L80.69 200.6 L82.24 200.6 L82.02 199.77 L82.2 198.94 L82.52 198.11 L82.56 197.28 L82.43 196.45 L82.62 195.62 L82.6 194.79 L82.59 193.96 L82.62 193.13 L82.43 192.3 L82.43 191.47 L82.62 190.64 L82.78 189.81 L82.62 188.98 L82.41 188.15 L82.57 187.32 L82.7 186.49 L82.49 185.66 L82.5 184.83 L82.9 184zM81.05 199.72h1.4v1.4h-1.4zM82.23 195.97h1.4v1.4h-1.4zM80.05 184.47h1.4v1.4h-1.4zM81.6 195.77h1.4v1.4h-1.4zM82.3 184 L82.67 184.85 L82.43 185.7 L82.74 186.55 L82.93 187.4 L82.89 188.25 L82.79 189.1 L82.98 189.94 L83.04 190.79 L82.69 191.64 L83.31 192.49 L82.75 193.34 L83.17 194.19 L82.82 195.04 L84.4 195.04 L84.42 194.19 L84.28 193.34 L84.84 192.49 L84.38 191.64 L84.54 190.79 L85.01 189.94 L84.61 189.1 L84.84 188.25 L84.76 187.4 L84.85 186.55 L84.76 185.7 L85 184.85 L84.97 184zM84.05 193.37h1.4v1.4h-1.4zM81.51 191.36h1.4v1.4h-1.4zM84.11 186.56h1.4v1.4h-1.4zM82.94 194.08h1.4v1.4h-1.4z" fill="#FB7410"/>
<path d="M83.04 160.53h0.93v0.93h-0.93zM82.62 161.67h0.85v0.85h-0.85zM83.44 182.31h0.85v0.85h-0.85zM85.94 182.19h0.81v0.81h-0.81z" fill="#fff" fill-opacity="0.85"/>
<path d="M90.23 162.85 L90.83 160.97 L91.43 160.77 L92.03 160.07 L92.63 159.68 L93.23 158.99 L93.83 159.24 L94.43 160.18 L95.03 159.32 L95.63 160.42 L96.23 159.91 L96.83 160.81 L97.43 160.6 L98.03 160.35 L98.63 159.76 L99.23 159.89 L99.83 161.69 L100.34 162.73 L100.34 183.67 L99.83 182.61 L99.23 183.28 L98.63 186.03 L98.03 185.57 L97.43 184.96 L96.83 185.57 L96.23 184.16 L95.63 185.11 L95.03 185.4 L94.43 185.25 L93.83 184.19 L93.23 184.13 L92.63 185.3 L92.03 185.92 L91.43 183.35 L90.83 182.26 L90.23 181.66zM97.18 157.83h1.4v1.4h-1.4zM99.08 158.08h1.4v1.4h-1.4zM95.6 158.99h1.4v1.4h-1.4zM90.05 156.72h1.4v1.4h-1.4zM92.59 158.89h1.4v1.4h-1.4zM90.33 158.27h1.4v1.4h-1.4zM93.02 152.74h1.4v1.4h-1.4zM90.96 153.59h1.4v1.4h-1.4zM93.57 153.57h1.4v1.4h-1.4zM94.08 154.26h1.4v1.4h-1.4zM93 184.65h1.4v1.4h-1.4zM97.32 186.47h1.4v1.4h-1.4zM93.18 184.56h1.4v1.4h-1.4zM90.9 186.36h1.4v1.4h-1.4zM92.91 186.55h1.4v1.4h-1.4zM95.47 185.41h1.4v1.4h-1.4zM92.67 184.76h1.4v1.4h-1.4zM93.12 184.37h1.4v1.4h-1.4zM91.82 185.73h1.4v1.4h-1.4zM95.51 189.61h1.4v1.4h-1.4zM96.73 188.91h1.4v1.4h-1.4zM93.92 187.84h1.4v1.4h-1.4zM90.6 190.27h1.4v1.4h-1.4zM94.59 186.8h1.4v1.4h-1.4zM97.38 184 L97.76 184.83 L97.82 185.67 L97.5 186.5 L97.6 187.33 L97.12 188.17 L97.97 189 L97.48 189.83 L97.66 190.67 L97.24 191.5 L98.12 192.33 L97.9 193.17 L97.76 194 L97.95 194.83 L97.77 195.67 L98.22 196.5 L99.55 196.5 L99.03 195.67 L99.59 194.83 L99.18 194 L99.64 193.17 L99.54 192.33 L99.04 191.5 L99.45 190.67 L99.36 189.83 L99.92 189 L99.5 188.17 L99.63 187.33 L99.89 186.5 L100.08 185.67 L100.07 184.83 L99.79 184zM98.11 188.8h1.4v1.4h-1.4zM97.73 191.22h1.4v1.4h-1.4zM95.99 187.81h1.4v1.4h-1.4zM98.83 187.27h1.4v1.4h-1.4zM93.89 184 L94.07 184.85 L93.87 185.7 L94.26 186.55 L94.05 187.39 L93.92 188.24 L94.22 189.09 L94.39 189.94 L94.65 190.79 L94.44 191.64 L95.55 191.64 L95.76 190.79 L95.88 189.94 L95.58 189.09 L95.81 188.24 L95.75 187.39 L96 186.55 L95.89 185.7 L96.11 184.85 L96.53 184zM94.95 189.13h1.4v1.4h-1.4zM92.79 189.38h1.4v1.4h-1.4zM94.29 186.81h1.4v1.4h-1.4zM94.39 187.17h1.4v1.4h-1.4z" fill="#EE8EC0"/>
<path d="M92.33 160.16h0.8v0.8h-0.8zM96.18 160.51h0.7v0.7h-0.7zM98.11 163.74h1v1h-1zM96.6 183.43h0.99v0.99h-0.99zM98.35 184.53h0.66v0.66h-0.66zM95.58 182.91h1.03v1.03h-1.03z" fill="#fff" fill-opacity="0.85"/>
<path d="M100.74 159.85 L101.34 158.13 L101.94 156.77 L102.54 156.13 L103.14 157.36 L103.74 156.54 L104.34 156.33 L104.94 156.59 L105.54 157.56 L106.14 156.21 L106.74 155.74 L107.34 157.6 L107.94 156.33 L108.54 156.86 L109.14 158.82 L109.74 158.21 L110.04 158.21 L110.04 184.59 L109.74 183.44 L109.14 184.16 L108.54 186.66 L107.94 185.35 L107.34 186.96 L106.74 185.6 L106.14 185.53 L105.54 185.32 L104.94 186.1 L104.34 186.14 L103.74 185.76 L103.14 186.02 L102.54 185.52 L101.94 186.03 L101.34 185.48 L100.74 184.27zM107.35 155.56h1.4v1.4h-1.4zM101.13 156h1.4v1.4h-1.4zM101.83 154.92h1.4v1.4h-1.4zM108.58 153.06h1.4v1.4h-1.4zM105.17 154.01h1.4v1.4h-1.4zM101.51 155.51h1.4v1.4h-1.4zM102.75 152.96h1.4v1.4h-1.4zM108.39 153.4h1.4v1.4h-1.4zM108.2 152.84h1.4v1.4h-1.4zM106.06 153.87h1.4v1.4h-1.4zM108 185.6h1.4v1.4h-1.4zM103.85 186.94h1.4v1.4h-1.4zM105.47 187.71h1.4v1.4h-1.4zM102.63 187.16h1.4v1.4h-1.4zM100.75 187.14h1.4v1.4h-1.4zM107.78 185.98h1.4v1.4h-1.4zM103.26 186.31h1.4v1.4h-1.4zM101.49 186.32h1.4v1.4h-1.4zM103.32 188.75h1.4v1.4h-1.4zM104.58 191.19h1.4v1.4h-1.4zM104.18 191.14h1.4v1.4h-1.4zM104.55 187.9h1.4v1.4h-1.4zM101.96 191.54h1.4v1.4h-1.4zM103.93 185 L104.06 185.81 L104.16 186.62 L104.14 187.43 L103.81 188.24 L104.57 189.06 L104.28 189.87 L104.36 190.68 L104.79 191.49 L104.02 192.3 L104.42 193.11 L104.38 193.92 L104.05 194.73 L104.11 195.54 L104.81 196.36 L104.87 197.17 L104.96 197.98 L104.72 198.79 L104.97 199.6 L105.84 199.6 L106.13 198.79 L106.26 197.98 L106.08 197.17 L105.96 196.36 L105.68 195.54 L105.63 194.73 L106.2 193.92 L106.46 193.11 L105.89 192.3 L106.42 191.49 L106.56 190.68 L106.12 189.87 L106.61 189.06 L105.97 188.24 L106.4 187.43 L106.4 186.62 L106.13 185.81 L106.4 185zM104.7 198.49h1.4v1.4h-1.4zM103.42 193.28h1.4v1.4h-1.4zM103.06 196.82h1.4v1.4h-1.4zM104.33 192.4h1.4v1.4h-1.4zM105.23 185 L105.24 185.84 L105.34 186.67 L105.6 187.51 L105.53 188.34 L105.12 189.18 L105.71 190.01 L105.76 190.85 L105.63 191.69 L106.03 192.52 L105.95 193.36 L107.37 193.36 L107.55 192.52 L107.22 191.69 L107.24 190.85 L107.75 190.01 L107.41 189.18 L107.72 188.34 L107.77 187.51 L107.76 186.67 L107.86 185.84 L108.02 185zM105.84 189.15h1.4v1.4h-1.4zM105.83 191.42h1.4v1.4h-1.4zM104.63 191.08h1.4v1.4h-1.4zM105.05 191.54h1.4v1.4h-1.4z" fill="#5ED0AC"/>
<path d="M101.68 158.57h0.84v0.84h-0.84zM104.59 156.66h0.73v0.73h-0.73zM102.13 184.25h0.88v0.88h-0.88zM105.63 184.4h0.7v0.7h-0.7z" fill="#fff" fill-opacity="0.85"/>
<path d="M110.85 163.15 L111.45 161.37 L112.05 160.81 L112.65 159.48 L113.25 160.22 L113.85 160.53 L114.45 160.24 L115.05 158.9 L115.65 159.78 L116.25 159.88 L116.85 158.99 L117.45 160.48 L118.05 159.54 L118.65 160.14 L119.25 161.58 L119.85 162.28 L119.95 162.23 L119.95 183.52 L119.85 182.83 L119.25 183.19 L118.65 183.3 L118.05 185.13 L117.45 184.67 L116.85 185.09 L116.25 184.63 L115.65 183.82 L115.05 183.89 L114.45 184.18 L113.85 184.03 L113.25 185.84 L112.65 185.19 L112.05 183.59 L111.45 183.95 L110.85 182.98zM111.15 159.2h1.4v1.4h-1.4zM116.73 158.47h1.4v1.4h-1.4zM111.8 153.74h1.4v1.4h-1.4zM112.97 159.18h1.4v1.4h-1.4zM117.28 156.01h1.4v1.4h-1.4zM115.34 158.2h1.4v1.4h-1.4zM111.12 153h1.4v1.4h-1.4zM117.46 152.94h1.4v1.4h-1.4zM116.31 154.51h1.4v1.4h-1.4zM118.55 156.27h1.4v1.4h-1.4zM113.13 186h1.4v1.4h-1.4zM111.65 185.82h1.4v1.4h-1.4zM111.42 187.54h1.4v1.4h-1.4zM116.68 187.56h1.4v1.4h-1.4zM116.8 186.79h1.4v1.4h-1.4zM116.21 184.63h1.4v1.4h-1.4zM112.8 184.79h1.4v1.4h-1.4zM113.64 186.99h1.4v1.4h-1.4zM116.64 190.94h1.4v1.4h-1.4zM116.29 188.08h1.4v1.4h-1.4zM114.76 190.04h1.4v1.4h-1.4zM117.25 188.15h1.4v1.4h-1.4zM113.53 189.37h1.4v1.4h-1.4zM111.78 184 L112 184.83 L112.41 185.66 L112.43 186.49 L112.5 187.32 L112.71 188.15 L112.79 188.98 L112.58 189.81 L112.46 190.64 L112.71 191.47 L112.96 192.3 L114.28 192.3 L114.25 191.47 L114.37 190.64 L114.49 189.81 L114.77 188.98 L114.69 188.15 L115.12 187.32 L114.89 186.49 L115.19 185.66 L114.75 184.83 L114.72 184zM114.8 190.76h1.4v1.4h-1.4zM113.92 186.33h1.4v1.4h-1.4zM111.66 189.64h1.4v1.4h-1.4zM114.17 189.06h1.4v1.4h-1.4zM112.11 184 L112.3 184.89 L112.14 185.78 L112.56 186.67 L112.19 187.56 L112.8 188.45 L112.53 189.34 L112.99 190.23 L114.35 190.23 L113.88 189.34 L114.39 188.45 L114.15 187.56 L114.71 186.67 L114.51 185.78 L114.93 184.89 L114.65 184zM113.8 186.31h1.4v1.4h-1.4zM112.88 185.14h1.4v1.4h-1.4zM114.21 188.29h1.4v1.4h-1.4zM113.82 184.74h1.4v1.4h-1.4z" fill="#8E0E2C"/>
<path d="M117.49 160.88h0.61v0.61h-0.61zM115.48 160.19h0.81v0.81h-0.81zM117.85 184.49h0.91v0.91h-0.91zM113.48 183.74h1.05v1.05h-1.05z" fill="#fff" fill-opacity="0.85"/>
<path d="M120.56 164.14 L121.16 162.72 L121.76 163.72 L122.36 161.14 L122.96 161.51 L123.56 162.54 L124.16 161.23 L124.76 162.09 L125.36 162.72 L125.96 162.18 L126.56 161.7 L127.16 162.52 L127.76 162.65 L128.36 162.81 L128.96 163.69 L129.56 163.86 L129.65 164.15 L129.65 184.84 L129.56 184.92 L128.96 183.37 L128.36 184.62 L127.76 185.34 L127.16 186.7 L126.56 185.28 L125.96 185.21 L125.36 186.64 L124.76 185.21 L124.16 187.15 L123.56 185.89 L122.96 186.96 L122.36 186.77 L121.76 184.52 L121.16 185.13 L120.56 183.46zM122.15 159.92h1.4v1.4h-1.4zM120.73 160.7h1.4v1.4h-1.4zM122.81 159.33h1.4v1.4h-1.4zM127.1 160.73h1.4v1.4h-1.4zM121.06 159.66h1.4v1.4h-1.4zM123.19 159.89h1.4v1.4h-1.4zM122.27 156.48h1.4v1.4h-1.4zM122.6 155.26h1.4v1.4h-1.4zM120.85 155.36h1.4v1.4h-1.4zM125.39 186.86h1.4v1.4h-1.4zM127.01 185.76h1.4v1.4h-1.4zM121.75 185.9h1.4v1.4h-1.4zM125.43 186.25h1.4v1.4h-1.4zM126.69 185.46h1.4v1.4h-1.4zM127.47 187.66h1.4v1.4h-1.4zM124.85 188.3h1.4v1.4h-1.4zM127.44 186.13h1.4v1.4h-1.4zM120.55 187.75h1.4v1.4h-1.4zM122.38 189.6h1.4v1.4h-1.4zM121.34 192.15h1.4v1.4h-1.4zM125.02 191h1.4v1.4h-1.4zM126.67 185 L126.31 185.84 L126.91 186.69 L126.6 187.53 L127.07 188.38 L126.32 189.22 L126.89 190.06 L126.76 190.91 L127.25 191.75 L127.16 192.59 L127.03 193.44 L126.8 194.28 L127.27 195.12 L127.17 195.97 L127.09 196.81 L126.86 197.66 L127.2 198.5 L128.4 198.5 L128.08 197.66 L128.24 196.81 L128.55 195.97 L128.87 195.12 L128.27 194.28 L128.3 193.44 L128.77 192.59 L128.93 191.75 L128.51 190.91 L129.02 190.06 L128.29 189.22 L129.03 188.38 L128.48 187.53 L129 186.69 L128.74 185.84 L128.99 185zM125.66 188.5h1.4v1.4h-1.4zM127.79 187.96h1.4v1.4h-1.4zM127.72 197.36h1.4v1.4h-1.4zM126.59 197.32h1.4v1.4h-1.4zM124.69 185 L124.63 185.83 L124.64 186.66 L125.08 187.49 L124.7 188.32 L124.47 189.15 L124.99 189.98 L124.89 190.81 L124.9 191.64 L125.13 192.47 L125.49 193.3 L125.31 194.13 L125.06 194.96 L125.22 195.79 L126.49 195.79 L126.44 194.96 L126.65 194.13 L127.06 193.3 L126.92 192.47 L126.68 191.64 L126.95 190.81 L126.92 189.98 L126.64 189.15 L126.81 188.32 L127.25 187.49 L127.25 186.66 L127.08 185.83 L127.16 185zM123.6 189.01h1.4v1.4h-1.4zM125.15 192.26h1.4v1.4h-1.4zM124.36 192.52h1.4v1.4h-1.4zM125.51 188.13h1.4v1.4h-1.4z" fill="#15784E"/>
<path d="M126.94 164.1h0.64v0.64h-0.64zM125.38 161.81h0.84v0.84h-0.84zM124.8 185h0.91v0.91h-0.91zM123.83 182.5h0.68v0.68h-0.68z" fill="#fff" fill-opacity="0.85"/>
<path d="M130.06 160.15 L130.66 161.28 L131.26 159.4 L131.86 158.01 L132.46 158.16 L133.06 159.2 L133.66 158.15 L134.26 158.55 L134.86 159.15 L135.46 158.5 L136.06 159.26 L136.66 160.63 L137.26 161.1 L137.74 161.4 L137.74 183.96 L137.26 183.83 L136.66 185.4 L136.06 186.21 L135.46 186.21 L134.86 185.98 L134.26 186.6 L133.66 185.29 L133.06 186.51 L132.46 187.15 L131.86 184.89 L131.26 184.63 L130.66 185.61 L130.06 182.66zM135.32 156.9h1.4v1.4h-1.4zM133.74 156.06h1.4v1.4h-1.4zM129.91 157.15h1.4v1.4h-1.4zM135.53 156.93h1.4v1.4h-1.4zM135.86 154.66h1.4v1.4h-1.4zM132.55 155.74h1.4v1.4h-1.4zM134.92 156.02h1.4v1.4h-1.4zM130.35 155.92h1.4v1.4h-1.4zM135.6 185.33h1.4v1.4h-1.4zM132.84 187.07h1.4v1.4h-1.4zM133.55 189.45h1.4v1.4h-1.4zM132.13 187.82h1.4v1.4h-1.4zM133.04 186.27h1.4v1.4h-1.4zM131.02 186.44h1.4v1.4h-1.4zM135.45 187h1.4v1.4h-1.4zM132.35 188.96h1.4v1.4h-1.4zM130.54 191.67h1.4v1.4h-1.4zM132.81 189.01h1.4v1.4h-1.4zM131.04 188.43h1.4v1.4h-1.4zM134.79 185 L134.88 185.81 L134.9 186.62 L134.58 187.43 L134.68 188.24 L135.15 189.06 L134.84 189.87 L135.08 190.68 L135.29 191.49 L135.07 192.3 L134.91 193.11 L134.9 193.92 L135.31 194.73 L135.43 195.54 L135.27 196.36 L135.25 197.17 L135.35 197.98 L135.24 198.79 L135.18 199.6 L136.34 199.6 L136.39 198.79 L136.59 197.98 L136.55 197.17 L136.61 196.36 L136.76 195.54 L137.04 194.73 L136.48 193.92 L136.56 193.11 L136.67 192.3 L136.72 191.49 L136.74 190.68 L136.76 189.87 L137.03 189.06 L136.76 188.24 L136.58 187.43 L137.1 186.62 L136.79 185.81 L136.98 185zM134.27 197.71h1.4v1.4h-1.4zM134.39 197.5h1.4v1.4h-1.4zM133.89 191.33h1.4v1.4h-1.4zM133.69 187.32h1.4v1.4h-1.4zM132.65 185 L133.21 185.84 L133.05 186.69 L133.38 187.53 L132.72 188.38 L133 189.22 L133.04 190.07 L132.9 190.91 L133.14 191.76 L133.09 192.6 L133.17 193.44 L133.48 194.29 L134.71 194.29 L134.39 193.44 L134.71 192.6 L134.86 191.76 L134.49 190.91 L134.75 190.07 L134.98 189.22 L134.91 188.38 L135.26 187.53 L135.29 186.69 L135.43 185.84 L135.05 185zM132.34 192.8h1.4v1.4h-1.4zM132.72 187.14h1.4v1.4h-1.4zM131.63 186.35h1.4v1.4h-1.4zM132.18 192.62h1.4v1.4h-1.4z" fill="#1B9DE2"/>
<path d="M132.98 162.25h0.82v0.82h-0.82zM136.34 161.77h0.72v0.72h-0.72zM132.42 184.86h0.85v0.85h-0.85zM132.07 184.85h0.72v0.72h-0.72z" fill="#fff" fill-opacity="0.85"/>
<path d="M138.35 158.84 L138.95 157.77 L139.55 156.67 L140.15 155.94 L140.75 156.23 L141.35 156.37 L141.95 155.05 L142.55 156.69 L143.15 155.93 L143.75 155.68 L144.35 156.92 L144.95 157.18 L145.55 157.15 L146.15 157.28 L146.23 158.21 L146.23 183.52 L146.15 183.47 L145.55 183.58 L144.95 185.51 L144.35 185.41 L143.75 186.63 L143.15 186.07 L142.55 185.5 L141.95 186.78 L141.35 185.87 L140.75 185 L140.15 185.47 L139.55 184.15 L138.95 184.27 L138.35 184.64zM144.62 154.39h1.4v1.4h-1.4zM142.64 154.63h1.4v1.4h-1.4zM139.55 154.32h1.4v1.4h-1.4zM140.71 155.08h1.4v1.4h-1.4zM141.52 155.04h1.4v1.4h-1.4zM142.7 149.57h1.4v1.4h-1.4zM140.88 150.69h1.4v1.4h-1.4zM140.02 151.43h1.4v1.4h-1.4zM142.52 187.57h1.4v1.4h-1.4zM141.6 186.08h1.4v1.4h-1.4zM139.41 185.33h1.4v1.4h-1.4zM140.55 189.03h1.4v1.4h-1.4zM139.47 185.82h1.4v1.4h-1.4zM140.89 187.67h1.4v1.4h-1.4zM140.56 185.92h1.4v1.4h-1.4zM142.28 187.75h1.4v1.4h-1.4zM142.21 188.84h1.4v1.4h-1.4zM144.88 191.99h1.4v1.4h-1.4zM139.05 190.78h1.4v1.4h-1.4z" fill="#FFC60A"/>
<path d="M140.99 156.93h0.66v0.66h-0.66zM144.19 158.49h0.92v0.92h-0.92zM144.85 183.65h0.88v0.88h-0.88zM142.88 183.21h1.03v1.03h-1.03z" fill="#fff" fill-opacity="0.85"/>
<path d="M146.84 158.95 L147.44 157.98 L148.04 157.87 L148.64 157.18 L149.24 156.71 L149.84 157.72 L150.44 157.7 L151.04 157.37 L151.64 157.07 L152.24 157.39 L152.84 156.81 L153.44 158.81 L154.04 158.23 L154.32 160.15 L154.32 185.96 L154.04 185.49 L153.44 186.06 L152.84 187.82 L152.24 187.91 L151.64 188.47 L151.04 187.03 L150.44 188.9 L149.84 187.83 L149.24 187.86 L148.64 188.57 L148.04 187.48 L147.44 186.31 L146.84 185.16zM149.66 153.71h1.4v1.4h-1.4zM146.84 156.19h1.4v1.4h-1.4zM147.42 153.31h1.4v1.4h-1.4zM147.2 155.4h1.4v1.4h-1.4zM150.07 155.04h1.4v1.4h-1.4zM151.29 153.11h1.4v1.4h-1.4zM151.63 154.7h1.4v1.4h-1.4zM152.13 153.15h1.4v1.4h-1.4zM150.69 188.4h1.4v1.4h-1.4zM149.08 190.44h1.4v1.4h-1.4zM150.54 188.93h1.4v1.4h-1.4zM151.67 190.71h1.4v1.4h-1.4zM147.94 187.49h1.4v1.4h-1.4zM148.17 192.08h1.4v1.4h-1.4zM147.87 191.96h1.4v1.4h-1.4zM151.66 193.95h1.4v1.4h-1.4zM148.35 193.2h1.4v1.4h-1.4zM148.56 193.24h1.4v1.4h-1.4zM149.1 187 L149.48 187.81 L149.12 188.62 L149.64 189.44 L149.29 190.25 L149.75 191.06 L149.61 191.88 L149.45 192.69 L149.52 193.5 L149.75 194.31 L149.75 195.12 L149.65 195.94 L150.06 196.75 L150.28 197.56 L149.78 198.38 L150.19 199.19 L149.77 200 L151.07 200 L151.33 199.19 L151.17 198.38 L151.7 197.56 L151.71 196.75 L151 195.94 L151.66 195.12 L151.3 194.31 L151.32 193.5 L151.11 192.69 L151.75 191.88 L152.04 191.06 L151.77 190.25 L151.83 189.44 L151.73 188.62 L151.53 187.81 L151.71 187zM148.54 191.56h1.4v1.4h-1.4zM150.19 191.77h1.4v1.4h-1.4zM150.29 197.42h1.4v1.4h-1.4zM150.48 196.92h1.4v1.4h-1.4zM148.32 187 L148.18 187.84 L148.22 188.69 L148.16 189.53 L148.29 190.38 L148.44 191.22 L148.6 192.07 L148.58 192.91 L148.82 193.75 L148.29 194.6 L148.64 195.44 L148.54 196.29 L148.9 197.13 L150.28 197.13 L150.05 196.29 L150.07 195.44 L150.28 194.6 L150.57 193.75 L150.7 192.91 L150.89 192.07 L150.74 191.22 L150.92 190.38 L150.8 189.53 L150.77 188.69 L151.23 187.84 L150.9 187zM150.3 191.29h1.4v1.4h-1.4zM148.93 193.38h1.4v1.4h-1.4zM148.5 189h1.4v1.4h-1.4zM150.69 194.16h1.4v1.4h-1.4z" fill="#3D2D9E"/>
<path d="M150.42 158.73h0.85v0.85h-0.85zM150.83 156.78h0.87v0.87h-0.87zM152.61 186.93h0.65v0.65h-0.65zM152.91 182.48h0.98v0.98h-0.98z" fill="#fff" fill-opacity="0.85"/>
<path d="M154.92 158.38 L155.52 157.49 L156.12 158.06 L156.72 157.46 L157.32 157.11 L157.92 156.67 L158.52 156.59 L159.12 157.06 L159.72 157.15 L160.32 157.33 L160.92 157.02 L161.52 158.88 L162 159.75 L162 184.84 L161.52 184.1 L160.92 185.31 L160.32 187.2 L159.72 186.82 L159.12 188 L158.52 187.34 L157.92 187.48 L157.32 186.16 L156.72 187.06 L156.12 186.72 L155.52 186.44 L154.92 185.62zM156.33 151.71h1.4v1.4h-1.4zM157.77 155.11h1.4v1.4h-1.4zM155.15 155.71h1.4v1.4h-1.4zM155.83 155.64h1.4v1.4h-1.4zM159.75 150.16h1.4v1.4h-1.4zM154.97 150.76h1.4v1.4h-1.4zM159.57 150.69h1.4v1.4h-1.4zM159.97 188.06h1.4v1.4h-1.4zM159.69 189.33h1.4v1.4h-1.4zM158.03 188.93h1.4v1.4h-1.4zM155.38 187.32h1.4v1.4h-1.4zM156.77 190.83h1.4v1.4h-1.4zM157.59 188.42h1.4v1.4h-1.4zM157.58 190.84h1.4v1.4h-1.4zM155.19 189.3h1.4v1.4h-1.4zM155.69 190.99h1.4v1.4h-1.4zM157.92 188.66h1.4v1.4h-1.4zM158.16 186 L157.68 186.83 L158.31 187.65 L158.4 188.48 L158.02 189.3 L157.9 190.13 L158.44 190.96 L157.96 191.78 L158.55 192.61 L158.46 193.43 L158.43 194.26 L158.18 195.09 L158.11 195.91 L158.16 196.74 L158.37 197.57 L158.37 198.39 L158.37 199.22 L158.3 200.04 L158.36 200.87 L158.74 201.7 L158.09 202.52 L158.46 203.35 L158.55 204.17 L158.4 205 L159.24 205 L159.46 204.17 L159.82 203.35 L159.66 202.52 L159.97 201.7 L159.32 200.87 L159.78 200.04 L160.14 199.22 L159.73 198.39 L159.72 197.57 L159.73 196.74 L159.72 195.91 L159.89 195.09 L160.01 194.26 L160.07 193.43 L160.28 192.61 L159.72 191.78 L160.08 190.96 L159.94 190.13 L160.22 189.3 L160.29 188.48 L160.23 187.65 L159.85 186.83 L160.07 186zM156.56 202.45h1.4v1.4h-1.4zM159.79 200.97h1.4v1.4h-1.4zM157.8 194.41h1.4v1.4h-1.4zM158.57 200.47h1.4v1.4h-1.4zM156.53 186 L156.1 186.85 L156.58 187.7 L156.63 188.55 L156.54 189.4 L156.78 190.26 L156.64 191.11 L156.52 191.96 L156.42 192.81 L156.48 193.66 L156.7 194.51 L156.49 195.36 L156.83 196.21 L156.85 197.06 L157.13 197.92 L156.5 198.77 L157.79 198.77 L158.46 197.92 L158.37 197.06 L158.4 196.21 L158 195.36 L158.46 194.51 L158.34 193.66 L158.42 192.81 L158.64 191.96 L158.75 191.11 L158.92 190.26 L158.8 189.4 L158.75 188.55 L158.72 187.7 L158.59 186.85 L158.82 186zM155.95 189.89h1.4v1.4h-1.4zM155.78 189.7h1.4v1.4h-1.4zM156 192.57h1.4v1.4h-1.4zM156.28 195.2h1.4v1.4h-1.4z" fill="#3B5A1B"/>
<path d="M160.3 158.14h1.07v1.07h-1.07zM157.3 157.35h0.96v0.96h-0.96zM157.56 183.69h0.7v0.7h-0.7zM159.41 185.5h0.93v0.93h-0.93z" fill="#fff" fill-opacity="0.85"/>
<path d="M162.61 157.47 L163.21 158.13 L163.81 157.58 L164.41 156.94 L165.01 155.23 L165.61 156.38 L166.21 156.56 L166.81 155.28 L167.41 156.22 L168.01 155.54 L168.61 156.38 L169.21 156.78 L169.68 157.9 L169.68 185.5 L169.21 185.49 L168.61 186.77 L168.01 187.97 L167.41 186.16 L166.81 187.83 L166.21 187.95 L165.61 187.36 L165.01 186.6 L164.41 186.22 L163.81 186.07 L163.21 185.13 L162.61 184.09zM166.5 154.06h1.4v1.4h-1.4zM166.27 155.25h1.4v1.4h-1.4zM165.44 154.32h1.4v1.4h-1.4zM166.73 154.14h1.4v1.4h-1.4zM167.01 151.49h1.4v1.4h-1.4zM166.94 150.38h1.4v1.4h-1.4zM164.48 152.86h1.4v1.4h-1.4zM164.7 188.77h1.4v1.4h-1.4zM166.77 186.31h1.4v1.4h-1.4zM165.7 188h1.4v1.4h-1.4zM162.86 188.08h1.4v1.4h-1.4zM167.07 187.56h1.4v1.4h-1.4zM167.64 191.2h1.4v1.4h-1.4zM168.26 193.23h1.4v1.4h-1.4zM163.76 189.76h1.4v1.4h-1.4zM163.29 192.85h1.4v1.4h-1.4zM166.1 186 L165.88 186.8 L166.13 187.6 L165.9 188.4 L165.95 189.2 L166.35 190 L165.85 190.8 L166.14 191.6 L166.45 192.4 L166.34 193.2 L166.04 194 L166.28 194.8 L165.98 195.6 L166.58 196.4 L166.43 197.2 L166.44 198 L166.47 198.8 L166.75 199.6 L166.58 200.4 L166.44 201.2 L166.75 202 L168.1 202 L167.77 201.2 L168.12 200.4 L168.23 199.6 L168.4 198.8 L168.26 198 L168.33 197.2 L168.56 196.4 L168.23 195.6 L168.36 194.8 L168.28 194 L168.54 193.2 L168.6 192.4 L168.79 191.6 L168.46 190.8 L168.65 190 L168.61 189.2 L168.74 188.4 L168.9 187.6 L168.67 186.8 L169.12 186zM166.96 195.18h1.4v1.4h-1.4zM165 192.75h1.4v1.4h-1.4zM167.81 193.12h1.4v1.4h-1.4zM167.55 189.8h1.4v1.4h-1.4zM166.96 186 L167.33 186.82 L167.31 187.64 L167.48 188.47 L167.56 189.29 L167.13 190.11 L167.74 190.93 L167.83 191.75 L167.62 192.58 L167.52 193.4 L167.83 194.22 L168.09 195.04 L167.89 195.86 L167.72 196.69 L167.96 197.51 L169.24 197.51 L168.96 196.69 L169.64 195.86 L169.53 195.04 L169.48 194.22 L169.17 193.4 L169.54 192.58 L169.44 191.75 L169.83 190.93 L169.18 190.11 L170.02 189.29 L169.64 188.47 L169.46 187.64 L169.57 186.82 L169.26 186zM165.97 188.18h1.4v1.4h-1.4zM167.38 195.98h1.4v1.4h-1.4zM167.66 195.4h1.4v1.4h-1.4zM166.52 188.96h1.4v1.4h-1.4z" fill="#F80C7C"/>
<path d="M164.33 157.31h0.74v0.74h-0.74zM167.29 156.72h0.94v0.94h-0.94zM165.33 185.19h1.04v1.04h-1.04zM166.82 185.56h0.8v0.8h-0.8z" fill="#fff" fill-opacity="0.85"/>
<path d="M170.09 159.24 L170.69 159.54 L171.29 158.67 L171.89 157.13 L172.49 156.99 L173.09 156.14 L173.69 157.72 L174.29 157.22 L174.89 156.82 L175.49 157.02 L176.09 158.41 L176.69 159.66 L176.76 158.88 L176.76 183.1 L176.69 183.78 L176.09 184.52 L175.49 184.13 L174.89 184.95 L174.29 185.7 L173.69 186.5 L173.09 185.72 L172.49 184.84 L171.89 185.38 L171.29 184.49 L170.69 185.07 L170.09 183.01zM175.45 154.83h1.4v1.4h-1.4zM171.52 156.17h1.4v1.4h-1.4zM172.68 156.02h1.4v1.4h-1.4zM172.81 155.84h1.4v1.4h-1.4zM170.19 150.06h1.4v1.4h-1.4zM171.29 153.53h1.4v1.4h-1.4zM170.87 151.76h1.4v1.4h-1.4zM173.6 188.22h1.4v1.4h-1.4zM171.68 185.31h1.4v1.4h-1.4zM173.26 185.6h1.4v1.4h-1.4zM173.92 186.38h1.4v1.4h-1.4zM174.15 186.31h1.4v1.4h-1.4zM173.92 189.18h1.4v1.4h-1.4zM173.95 188.9h1.4v1.4h-1.4zM175.37 189.51h1.4v1.4h-1.4zM173.5 192.21h1.4v1.4h-1.4zM174.62 188.18h1.4v1.4h-1.4z" fill="#FB7410"/>
<path d="M171.19 161.15h0.7v0.7h-0.7zM171.07 158.46h0.84v0.84h-0.84zM172.33 183.92h0.85v0.85h-0.85zM172.59 185.16h1.03v1.03h-1.03z" fill="#fff" fill-opacity="0.85"/>
<path d="M177.57 161.03 L178.17 160.3 L178.77 159.28 L179.37 157.34 L179.97 157.84 L180.57 158.68 L181.17 157.71 L181.77 158.14 L182.37 157.42 L182.97 159.34 L183.57 159.13 L184.17 159.97 L184.24 160.97 L184.24 183.67 L184.17 183.57 L183.57 185.35 L182.97 186.18 L182.37 186.07 L181.77 186.74 L181.17 187.65 L180.57 187.92 L179.97 188.01 L179.37 187.71 L178.77 185.2 L178.17 185.12 L177.57 184.54zM177.53 155.66h1.4v1.4h-1.4zM181.8 156.81h1.4v1.4h-1.4zM181.2 154.56h1.4v1.4h-1.4zM178.88 156.34h1.4v1.4h-1.4zM177.43 153.59h1.4v1.4h-1.4zM178.66 154.43h1.4v1.4h-1.4zM181.83 188.13h1.4v1.4h-1.4zM181.58 186.68h1.4v1.4h-1.4zM181.7 186.54h1.4v1.4h-1.4zM178.86 189h1.4v1.4h-1.4zM182.5 188.27h1.4v1.4h-1.4zM178.82 190.32h1.4v1.4h-1.4zM179.35 189.08h1.4v1.4h-1.4zM177.52 192.76h1.4v1.4h-1.4zM181.97 189.21h1.4v1.4h-1.4z" fill="#EE8EC0"/>
<path d="M181.29 158.82h0.7v0.7h-0.7zM181.72 159.77h0.87v0.87h-0.87zM178.34 184.39h0.88v0.88h-0.88zM181.32 186.11h0.73v0.73h-0.73z" fill="#fff" fill-opacity="0.85"/>
<path d="M184.64 158.78 L185.24 158.51 L185.84 156.67 L186.44 156.72 L187.04 156.42 L187.64 155.55 L188.24 155.89 L188.84 156.69 L189.44 156.66 L190.04 157.49 L190.64 158.7 L190.71 157.64 L190.71 184.56 L190.64 184.79 L190.04 185.69 L189.44 186.77 L188.84 186.45 L188.24 186.94 L187.64 186.91 L187.04 186.05 L186.44 187.69 L185.84 187.32 L185.24 185.58 L184.64 184.45zM186.32 155.17h1.4v1.4h-1.4zM186.74 154.43h1.4v1.4h-1.4zM189.25 154.37h1.4v1.4h-1.4zM186.3 154.76h1.4v1.4h-1.4zM186.23 150.9h1.4v1.4h-1.4zM188.59 152.19h1.4v1.4h-1.4zM184.71 189.15h1.4v1.4h-1.4zM189.35 188.38h1.4v1.4h-1.4zM187.03 186.45h1.4v1.4h-1.4zM189.45 187.22h1.4v1.4h-1.4zM185.89 187.47h1.4v1.4h-1.4zM185.18 192.8h1.4v1.4h-1.4zM187.04 191.97h1.4v1.4h-1.4zM185.84 191.63h1.4v1.4h-1.4zM188.43 186 L188.39 186.84 L188.11 187.67 L188.43 188.51 L188.32 189.34 L188.53 190.18 L188.35 191.01 L188.38 191.85 L188.23 192.69 L188.54 193.52 L188.62 194.36 L188.76 195.19 L188.52 196.03 L188.42 196.86 L188.52 197.7 L189.67 197.7 L189.68 196.86 L189.87 196.03 L190.07 195.19 L190.07 194.36 L189.67 193.52 L189.75 192.69 L190.25 191.85 L189.96 191.01 L190.46 190.18 L189.99 189.34 L190.11 188.51 L190.33 187.67 L190.7 186.84 L190.66 186zM187.6 186.98h1.4v1.4h-1.4zM188.75 187.69h1.4v1.4h-1.4zM188.19 194.58h1.4v1.4h-1.4zM187.42 190.81h1.4v1.4h-1.4z" fill="#5ED0AC"/>
<path d="M189.3 158.43h0.62v0.62h-0.62zM189.35 158.51h0.88v0.88h-0.88zM185.57 185.43h1.09v1.09h-1.09zM185.26 186.59h0.64v0.64h-0.64z" fill="#fff" fill-opacity="0.85"/>
<path d="M191.32 158.29 L191.92 157.78 L192.52 156.95 L193.12 156.63 L193.72 155.22 L194.32 156.45 L194.92 155.64 L195.52 156.91 L196.12 156.42 L196.72 157.33 L197.32 156.99 L197.79 159.17 L197.79 185.15 L197.32 185.57 L196.72 186.86 L196.12 188.51 L195.52 187.57 L194.92 187.93 L194.32 188.25 L193.72 187.39 L193.12 187.08 L192.52 187 L191.92 186.95 L191.32 186.09zM192.28 153.63h1.4v1.4h-1.4zM194.96 152.76h1.4v1.4h-1.4zM192.12 150.8h1.4v1.4h-1.4zM195 154.07h1.4v1.4h-1.4zM195.17 150.8h1.4v1.4h-1.4zM194.56 151.91h1.4v1.4h-1.4zM194.77 188.76h1.4v1.4h-1.4zM192.89 188.63h1.4v1.4h-1.4zM195.14 188.36h1.4v1.4h-1.4zM191.52 188.58h1.4v1.4h-1.4zM192.5 187.37h1.4v1.4h-1.4zM191.17 189.18h1.4v1.4h-1.4zM193.49 189.64h1.4v1.4h-1.4zM195.2 191.84h1.4v1.4h-1.4zM195.75 193.47h1.4v1.4h-1.4zM195.62 193.71h1.4v1.4h-1.4zM192.61 187 L192.96 187.83 L192.53 188.67 L192.85 189.5 L192.38 190.33 L193.13 191.17 L192.92 192 L193.14 192.83 L192.61 193.67 L192.92 194.5 L193.2 195.33 L192.98 196.17 L193.3 197 L193.09 197.83 L193.53 198.67 L192.94 199.5 L193.2 200.33 L193.61 201.17 L193.67 202 L194.74 202 L194.85 201.17 L194.8 200.33 L194.56 199.5 L195.02 198.67 L194.96 197.83 L195.11 197 L195 196.17 L195.25 195.33 L194.98 194.5 L194.79 193.67 L195.27 192.83 L195.38 192 L195.48 191.17 L194.99 190.33 L195.53 189.5 L195.35 188.67 L195.66 187.83 L195.37 187zM194.67 187.3h1.4v1.4h-1.4zM191.7 189.93h1.4v1.4h-1.4zM194.72 192.18h1.4v1.4h-1.4zM193.1 194.87h1.4v1.4h-1.4z" fill="#8E0E2C"/>
<path d="M196.05 156.87h0.8v0.8h-0.8zM194.91 156h0.67v0.67h-0.67zM193.85 186.95h0.77v0.77h-0.77zM191.88 187.17h1.06v1.06h-1.06z" fill="#fff" fill-opacity="0.85"/>
<path d="M198.19 156.36 L198.79 155.88 L199.39 156.01 L199.99 154.46 L200.59 155.15 L201.19 154.68 L201.79 155.98 L202.39 155.14 L202.99 155.14 L203.59 155.57 L204.19 156.95 L204.46 157.89 L204.46 185.18 L204.19 185.5 L203.59 185.83 L202.99 187.61 L202.39 186.76 L201.79 187.11 L201.19 188.09 L200.59 187.7 L199.99 186.94 L199.39 186.93 L198.79 186.09 L198.19 184.16zM200.1 154.23h1.4v1.4h-1.4zM199.84 152.75h1.4v1.4h-1.4zM200.82 153.19h1.4v1.4h-1.4zM203.19 153.73h1.4v1.4h-1.4zM202.24 152.67h1.4v1.4h-1.4zM199.61 150.12h1.4v1.4h-1.4zM199.64 191.02h1.4v1.4h-1.4zM199.56 188.05h1.4v1.4h-1.4zM198.71 189.42h1.4v1.4h-1.4zM200.72 188.01h1.4v1.4h-1.4zM198.3 189.35h1.4v1.4h-1.4zM200.44 189.97h1.4v1.4h-1.4zM199.44 190.16h1.4v1.4h-1.4zM200.19 191.36h1.4v1.4h-1.4zM199.59 186 L199.56 186.81 L199.88 187.62 L199.87 188.44 L200.21 189.25 L199.87 190.06 L199.69 190.88 L200.01 191.69 L199.78 192.5 L200.11 193.31 L200.11 194.12 L199.99 194.94 L199.89 195.75 L200.46 196.56 L200.11 197.38 L200.11 198.19 L200.2 199 L201.42 199 L201.5 198.19 L201.64 197.38 L201.77 196.56 L201.57 195.75 L201.41 194.94 L201.66 194.12 L201.86 193.31 L201.49 192.5 L201.67 191.69 L201.81 190.88 L201.84 190.06 L202 189.25 L201.68 188.44 L202.06 187.62 L201.99 186.81 L202.17 186zM198.87 186.82h1.4v1.4h-1.4zM200.74 189.58h1.4v1.4h-1.4zM198.92 186.87h1.4v1.4h-1.4zM201.39 189.65h1.4v1.4h-1.4z" fill="#15784E"/>
<path d="M202.48 154.66h1.05v1.05h-1.05zM202.35 155.32h0.91v0.91h-0.91zM202.41 181.75h1.05v1.05h-1.05zM200.1 183.61h0.75v0.75h-0.75z" fill="#fff" fill-opacity="0.85"/>
<path d="M204.86 158.54 L205.46 157.64 L206.06 157.89 L206.66 156.61 L207.26 157.89 L207.86 156.02 L208.46 156.8 L209.06 157.42 L209.66 157.91 L210.26 159.14 L210.86 159.56 L210.93 160.08 L210.93 184.78 L210.86 184.61 L210.26 184.77 L209.66 185.06 L209.06 186.07 L208.46 185.33 L207.86 185.41 L207.26 186.05 L206.66 185.85 L206.06 184.95 L205.46 183.44 L204.86 184.81zM206.34 153.89h1.4v1.4h-1.4zM207.09 155.12h1.4v1.4h-1.4zM208.61 154.64h1.4v1.4h-1.4zM209.41 153.3h1.4v1.4h-1.4zM207.06 153.01h1.4v1.4h-1.4zM209.55 154.06h1.4v1.4h-1.4zM205.8 188.15h1.4v1.4h-1.4zM208.55 185.35h1.4v1.4h-1.4zM206.53 186.03h1.4v1.4h-1.4zM207.01 186.7h1.4v1.4h-1.4zM206.42 185.71h1.4v1.4h-1.4zM205.55 189.83h1.4v1.4h-1.4zM205.82 188.26h1.4v1.4h-1.4zM209.37 191.73h1.4v1.4h-1.4z" fill="#1B9DE2"/>
<path d="M207.05 157.58h0.61v0.61h-0.61zM207.42 156.63h1.07v1.07h-1.07zM205.71 182.29h0.61v0.61h-0.61zM207.92 184.64h0.73v0.73h-0.73z" fill="#fff" fill-opacity="0.85"/>
<path d="M211.33 158.85 L211.93 158.21 L212.53 157.55 L213.13 156.56 L213.73 155.17 L214.33 156.31 L214.93 156.12 L215.53 155.6 L216.13 155.83 L216.73 157.16 L217.33 157.84 L217.6 158.15 L217.6 184.75 L217.33 183.36 L216.73 185.64 L216.13 184.72 L215.53 186.46 L214.93 185.86 L214.33 185.75 L213.73 185.95 L213.13 185.12 L212.53 184.55 L211.93 184.23 L211.33 182.92zM215.58 154.48h1.4v1.4h-1.4zM214.79 153.2h1.4v1.4h-1.4zM211.99 154.65h1.4v1.4h-1.4zM215.79 155.26h1.4v1.4h-1.4zM216.26 152.08h1.4v1.4h-1.4zM213.16 150.46h1.4v1.4h-1.4zM215.59 187.36h1.4v1.4h-1.4zM213 186.31h1.4v1.4h-1.4zM212.39 188.91h1.4v1.4h-1.4zM213.43 187.71h1.4v1.4h-1.4zM211.86 186.84h1.4v1.4h-1.4zM213.33 187.7h1.4v1.4h-1.4zM215.06 187.83h1.4v1.4h-1.4zM216.07 188.15h1.4v1.4h-1.4z" fill="#FFC60A"/>
<path d="M213.43 157.32h0.6v0.6h-0.6zM212.83 156.19h0.66v0.66h-0.66zM212.11 184.99h0.61v0.61h-0.61zM214.06 185.02h0.94v0.94h-0.94z" fill="#fff" fill-opacity="0.85"/>
<path d="M218 159.35 L218.6 159.42 L219.2 158.72 L219.8 156.62 L220.4 157.55 L221 157.39 L221.6 156.56 L222.2 158.54 L222.8 157.82 L223.26 159.69 L223.26 187.63 L222.8 187.62 L222.2 188.51 L221.6 189.19 L221 188.79 L220.4 188.07 L219.8 188.71 L219.2 187.77 L218.6 188.19 L218 187.57zM221.93 153.66h1.4v1.4h-1.4zM219.22 153.58h1.4v1.4h-1.4zM217.89 154.16h1.4v1.4h-1.4zM218.21 154.3h1.4v1.4h-1.4zM219.69 151.17h1.4v1.4h-1.4zM218.56 189.3h1.4v1.4h-1.4zM220.12 190.37h1.4v1.4h-1.4zM218.33 188.45h1.4v1.4h-1.4zM219.17 188.59h1.4v1.4h-1.4zM222.01 189.61h1.4v1.4h-1.4zM221.46 194.32h1.4v1.4h-1.4zM218.07 191.95h1.4v1.4h-1.4zM221.35 193.53h1.4v1.4h-1.4zM220.87 188 L220.8 188.88 L220.29 189.75 L220.84 190.62 L220.94 191.5 L221.08 192.38 L220.87 193.25 L220.94 194.12 L221.2 195 L222.09 195 L222.32 194.12 L222 193.25 L222.76 192.38 L222.44 191.5 L222.66 190.62 L222.4 189.75 L222.66 188.88 L222.98 188zM220.01 194.19h1.4v1.4h-1.4zM222.58 192.21h1.4v1.4h-1.4zM221.69 189.65h1.4v1.4h-1.4zM219.04 188.45h1.4v1.4h-1.4z" fill="#3D2D9E"/>
<path d="M218.52 159.74h0.7v0.7h-0.7zM222.07 187.43h0.65v0.65h-0.65z" fill="#fff" fill-opacity="0.85"/>
<path d="M223.66 157.37 L224.26 156.59 L224.86 156.05 L225.46 155.67 L226.06 155.31 L226.66 155.46 L227.26 156.25 L227.86 155.96 L228.46 156.76 L229.06 158.81 L229.12 157.9 L229.12 185.97 L229.06 185.22 L228.46 186.99 L227.86 186.12 L227.26 187.45 L226.66 188.87 L226.06 187.5 L225.46 188.33 L224.86 186.53 L224.26 185.5 L223.66 185.48zM225.5 154.77h1.4v1.4h-1.4zM223.62 153.65h1.4v1.4h-1.4zM225.06 155h1.4v1.4h-1.4zM227.42 151.66h1.4v1.4h-1.4zM224.82 149.85h1.4v1.4h-1.4zM226.85 190.05h1.4v1.4h-1.4zM224.99 187.51h1.4v1.4h-1.4zM226.69 190.79h1.4v1.4h-1.4zM224.8 189.17h1.4v1.4h-1.4zM223.76 189.06h1.4v1.4h-1.4zM226.79 193.16h1.4v1.4h-1.4zM225.07 193.62h1.4v1.4h-1.4zM226.21 191.34h1.4v1.4h-1.4zM224.24 187 L224.24 187.83 L224.67 188.66 L224.31 189.49 L224.51 190.32 L224.29 191.15 L224.5 191.98 L224.33 192.81 L224.46 193.64 L224.75 194.47 L224.15 195.3 L224.72 196.13 L224.46 196.96 L224.5 197.79 L224.77 198.62 L224.74 199.45 L224.65 200.28 L224.57 201.11 L224.59 201.94 L224.55 202.77 L224.39 203.6 L225.65 203.6 L225.64 202.77 L225.81 201.94 L226.04 201.11 L225.83 200.28 L225.83 199.45 L226.46 198.62 L225.65 197.79 L226.16 196.96 L226.11 196.13 L225.99 195.3 L226.25 194.47 L226.06 193.64 L226.43 192.81 L226.37 191.98 L226.41 191.15 L226.52 190.32 L226.31 189.49 L226.55 188.66 L226.5 187.83 L226.19 187zM224.31 199.34h1.4v1.4h-1.4zM226.24 193.08h1.4v1.4h-1.4zM225.9 189.31h1.4v1.4h-1.4zM226.23 193.76h1.4v1.4h-1.4z" fill="#3B5A1B"/>
<path d="M225.65 157.68h0.61v0.61h-0.61zM224.26 186.77h0.93v0.93h-0.93z" fill="#fff" fill-opacity="0.85"/>
<path d="M229.53 159.33 L230.13 157.14 L230.73 157.29 L231.33 156.17 L231.93 156.24 L232.53 156.55 L233.13 156.16 L233.73 157.62 L234.33 157.06 L234.78 158.7 L234.78 185.73 L234.33 185.53 L233.73 186.38 L233.13 188.89 L232.53 188.33 L231.93 187.99 L231.33 188 L230.73 188.06 L230.13 186.76 L229.53 184.99zM233.32 154.8h1.4v1.4h-1.4zM232.94 154.81h1.4v1.4h-1.4zM232.19 152.83h1.4v1.4h-1.4zM233.49 150.14h1.4v1.4h-1.4zM230.02 149.65h1.4v1.4h-1.4zM231.14 191.14h1.4v1.4h-1.4zM230.29 188.84h1.4v1.4h-1.4zM231.12 189.31h1.4v1.4h-1.4zM231.62 188.66h1.4v1.4h-1.4zM232.82 191.29h1.4v1.4h-1.4zM231.03 193.99h1.4v1.4h-1.4zM230.3 190.88h1.4v1.4h-1.4zM231.73 191.14h1.4v1.4h-1.4zM231.33 187 L231.08 187.86 L231.16 188.71 L231.7 189.57 L231.51 190.43 L231.67 191.29 L232.2 192.14 L232.02 193 L233.08 193 L233.21 192.14 L233.25 191.29 L233.16 190.43 L233.25 189.57 L232.95 188.71 L233.08 187.86 L233.23 187zM231.91 187.36h1.4v1.4h-1.4zM229.8 191.79h1.4v1.4h-1.4zM231.23 189.52h1.4v1.4h-1.4zM231.88 191.06h1.4v1.4h-1.4z" fill="#F80C7C"/>
<path d="M233.27 156.88h0.64v0.64h-0.64zM232.13 184.99h1.01v1.01h-1.01z" fill="#fff" fill-opacity="0.85"/>
<path d="M235.19 159.3 L235.79 158.3 L236.39 158.49 L236.99 157.39 L237.59 157.83 L238.19 157.28 L238.79 157.59 L239.39 159.14 L239.84 159.32 L239.84 182.46 L239.39 183.36 L238.79 186.13 L238.19 186.15 L237.59 184.88 L236.99 186.61 L236.39 185.84 L235.79 183.35 L235.19 184.83zM235.62 156.25h1.4v1.4h-1.4zM236.84 155.86h1.4v1.4h-1.4zM236.26 154.5h1.4v1.4h-1.4zM237.29 149.94h1.4v1.4h-1.4zM238.2 149.75h1.4v1.4h-1.4zM237.93 187.15h1.4v1.4h-1.4zM238.31 185.57h1.4v1.4h-1.4zM238.35 186.41h1.4v1.4h-1.4zM236.26 188.63h1.4v1.4h-1.4zM236.71 191.79h1.4v1.4h-1.4zM236.94 191.37h1.4v1.4h-1.4z" fill="#FB7410"/>
<path d="M238.03 156.97h1.06v1.06h-1.06zM235.82 183.96h0.85v0.85h-0.85z" fill="#fff" fill-opacity="0.85"/>
<path d="M240.24 158.51 L240.84 158.33 L241.44 158.55 L242.04 157.63 L242.64 157.99 L243.24 157.32 L243.84 158.02 L244.44 158.09 L244.89 159.31 L244.89 185.64 L244.44 184.86 L243.84 186.88 L243.24 186.33 L242.64 187.72 L242.04 186.26 L241.44 187.33 L240.84 184.52 L240.24 183.65zM242.13 155.87h1.4v1.4h-1.4zM241.52 153.82h1.4v1.4h-1.4zM242.65 155.89h1.4v1.4h-1.4zM240.87 154.49h1.4v1.4h-1.4zM240.82 151.99h1.4v1.4h-1.4zM242.26 188.01h1.4v1.4h-1.4zM241.26 187.67h1.4v1.4h-1.4zM242.99 187.45h1.4v1.4h-1.4zM240.09 186.89h1.4v1.4h-1.4zM242.37 193.21h1.4v1.4h-1.4zM240.57 188.77h1.4v1.4h-1.4zM241.25 186 L241.09 186.81 L241.56 187.62 L241.09 188.44 L241.47 189.25 L241.42 190.06 L241.16 190.88 L241.43 191.69 L241.77 192.5 L241.29 193.31 L241.65 194.12 L241.66 194.94 L241.68 195.75 L241.61 196.56 L241.84 197.38 L241.48 198.19 L241.95 199 L243.22 199 L243.09 198.19 L243.29 197.38 L243.21 196.56 L243.19 195.75 L243.51 194.94 L243.31 194.12 L243.49 193.31 L244.02 192.5 L243.52 191.69 L243.47 190.88 L243.71 190.06 L244.03 189.25 L243.6 188.44 L244.09 187.62 L243.7 186.81 L243.94 186zM239.97 195.35h1.4v1.4h-1.4zM242.02 194.58h1.4v1.4h-1.4zM240.69 195.07h1.4v1.4h-1.4zM240.9 193.38h1.4v1.4h-1.4z" fill="#EE8EC0"/>
<path d="M243.54 160.8h0.9v0.9h-0.9zM241.02 186.39h1.01v1.01h-1.01z" fill="#fff" fill-opacity="0.85"/>
<path d="M245.3 159.94 L245.9 158.34 L246.5 157.95 L247.1 156.71 L247.7 156.98 L248.3 156.83 L248.9 158.87 L249.5 158.5 L249.95 158.97 L249.95 184.95 L249.5 184.57 L248.9 185.09 L248.3 186.67 L247.7 187.78 L247.1 186.68 L246.5 185.7 L245.9 184.94 L245.3 184.91zM246.08 154.66h1.4v1.4h-1.4zM247.04 155.85h1.4v1.4h-1.4zM246.27 156.27h1.4v1.4h-1.4zM245.86 150.95h1.4v1.4h-1.4zM245.37 152.26h1.4v1.4h-1.4zM246.64 186.41h1.4v1.4h-1.4zM245.54 186.45h1.4v1.4h-1.4zM246.57 188.36h1.4v1.4h-1.4zM248.24 187.46h1.4v1.4h-1.4zM248.7 188.69h1.4v1.4h-1.4zM248.27 189.58h1.4v1.4h-1.4zM245.48 186 L245.99 186.8 L245.83 187.6 L245.74 188.4 L245.7 189.2 L246.04 190 L246.34 190.8 L245.84 191.6 L245.62 192.4 L245.76 193.2 L245.74 194 L246.38 194.8 L246 195.6 L246.08 196.4 L246.5 197.2 L245.97 198 L246.62 198.8 L246.18 199.6 L246.6 200.4 L246.27 201.2 L246.68 202 L247.92 202 L247.94 201.2 L247.98 200.4 L247.56 199.6 L248.15 198.8 L247.55 198 L248.1 197.2 L247.63 196.4 L247.55 195.6 L248.13 194.8 L247.68 194 L247.97 193.2 L247.83 192.4 L248.13 191.6 L248.14 190.8 L248.48 190 L248.07 189.2 L247.9 188.4 L248.04 187.6 L248.25 186.8 L248.38 186zM244.7 198.46h1.4v1.4h-1.4zM247.98 188.36h1.4v1.4h-1.4zM244.45 198.46h1.4v1.4h-1.4zM245.69 196.48h1.4v1.4h-1.4z" fill="#5ED0AC"/>
<path d="M248.08 158.75h1.02v1.02h-1.02zM248.38 185.64h0.99v0.99h-0.99z" fill="#fff" fill-opacity="0.85"/>
<path d="M250.55 158.08 L251.15 158.39 L251.75 156.62 L252.35 156.8 L252.95 155.77 L253.55 156.43 L254.15 156.31 L254.75 157.23 L255 159.2 L255 185.55 L254.75 186.53 L254.15 186.7 L253.55 188.08 L252.95 188.06 L252.35 187.14 L251.75 186.78 L251.15 186.76 L250.55 184.84zM253.6 153.39h1.4v1.4h-1.4zM253.36 154.53h1.4v1.4h-1.4zM252.87 154.84h1.4v1.4h-1.4zM251.76 153.21h1.4v1.4h-1.4zM250.79 150.37h1.4v1.4h-1.4zM250.44 188.05h1.4v1.4h-1.4zM251.35 188.72h1.4v1.4h-1.4zM253.29 187.85h1.4v1.4h-1.4zM250.44 187.5h1.4v1.4h-1.4zM252.31 193.14h1.4v1.4h-1.4zM253.16 192.91h1.4v1.4h-1.4zM250.34 187 L250.6 187.81 L250.93 188.62 L251.18 189.44 L250.97 190.25 L251.06 191.06 L250.76 191.88 L251.28 192.69 L251.17 193.5 L251.01 194.31 L250.97 195.12 L250.91 195.94 L251.26 196.75 L250.99 197.56 L251.71 198.38 L251.57 199.19 L251.31 200 L252.27 200 L252.79 199.19 L253.01 198.38 L252.35 197.56 L253.06 196.75 L252.41 195.94 L252.8 195.12 L252.7 194.31 L253.3 193.5 L253.09 192.69 L252.75 191.88 L253.16 191.06 L253.48 190.25 L253.27 189.44 L253.34 188.62 L253.34 187.81 L252.87 187zM249.59 192.58h1.4v1.4h-1.4zM251.99 198.4h1.4v1.4h-1.4zM250.32 193.01h1.4v1.4h-1.4zM252.03 191.08h1.4v1.4h-1.4z" fill="#8E0E2C"/>
<path d="M251.84 156.21h0.79v0.79h-0.79zM253.39 185.45h0.67v0.67h-0.67z" fill="#fff" fill-opacity="0.85"/>
<rect x="155.75" y="126.75" width="1.5" height="1.5" fill="#3B5A1B"/>
<rect x="156.25" y="142.75" width="1.5" height="1.5" fill="#3B5A1B"/>
<rect x="117.25" y="140.75" width="1.5" height="1.5" fill="#8E0E2C"/>
<rect x="183.25" y="146.25" width="1.5" height="1.5" fill="#5ED0AC"/>
<rect x="26.25" y="189.25" width="1.5" height="1.5" fill="#1B9DE2"/>
<rect x="28.25" y="192.25" width="1.5" height="1.5" fill="#1B9DE2"/>
<rect x="44.25" y="149.25" width="1.5" height="1.5" fill="#FFC60A"/>
<rect x="53.25" y="145.25" width="1.5" height="1.5" fill="#3D2D9E"/>
<rect x="99.25" y="153.25" width="1.5" height="1.5" fill="#EE8EC0"/>
<rect x="65.25" y="153.25" width="1.5" height="1.5" fill="#3B5A1B"/>
<rect x="231.25" y="147.25" width="1.5" height="1.5" fill="#F80C7C"/>
<rect x="193.25" y="149.25" width="1.5" height="1.5" fill="#8E0E2C"/>
<line x1="21.3" y1="166" x2="255" y2="166" stroke="#E8403A" stroke-width="0.55" stroke-opacity="0.9"/>
<text x="7.7" y="165.6" font-size="5.2" text-anchor="middle" fill="#222" font-family="Liberation Sans, sans-serif" transform="rotate(-90 7.7 165.6)" font-weight="bold" dominant-baseline="central" stroke="#222" stroke-width="0.1">-log(Pi)</text>
<line x1="296.3" y1="117.9" x2="296.3" y2="208.4" stroke="#888" stroke-width="0.6"/>
<line x1="294.8" y1="207.4" x2="296.3" y2="207.4" stroke="#888" stroke-width="0.5"/>
<text x="292.8" y="208.4" font-size="2.9" text-anchor="end" fill="#222" font-family="Liberation Sans, sans-serif"  stroke="#222" stroke-width="0.1">-4</text>
<line x1="294.8" y1="192.5" x2="296.3" y2="192.5" stroke="#888" stroke-width="0.5"/>
<text x="292.8" y="193.5" font-size="2.9" text-anchor="end" fill="#222" font-family="Liberation Sans, sans-serif"  stroke="#222" stroke-width="0.1">-3</text>
<line x1="294.8" y1="177.6" x2="296.3" y2="177.6" stroke="#888" stroke-width="0.5"/>
<text x="292.8" y="178.6" font-size="2.9" text-anchor="end" fill="#222" font-family="Liberation Sans, sans-serif"  stroke="#222" stroke-width="0.1">-2</text>
<line x1="294.8" y1="162.7" x2="296.3" y2="162.7" stroke="#888" stroke-width="0.5"/>
<text x="292.8" y="163.7" font-size="2.9" text-anchor="end" fill="#222" font-family="Liberation Sans, sans-serif"  stroke="#222" stroke-width="0.1">-1</text>
<line x1="294.8" y1="147.8" x2="296.3" y2="147.8" stroke="#888" stroke-width="0.5"/>
<text x="292.8" y="148.8" font-size="2.9" text-anchor="end" fill="#222" font-family="Liberation Sans, sans-serif"  stroke="#222" stroke-width="0.1">0</text>
<line x1="294.8" y1="132.9" x2="296.3" y2="132.9" stroke="#888" stroke-width="0.5"/>
<text x="292.8" y="133.9" font-size="2.9" text-anchor="end" fill="#222" font-family="Liberation Sans, sans-serif"  stroke="#222" stroke-width="0.1">1</text>
<line x1="294.8" y1="118" x2="296.3" y2="118" stroke="#888" stroke-width="0.5"/>
<text x="292.8" y="119" font-size="2.9" text-anchor="end" fill="#222" font-family="Liberation Sans, sans-serif"  stroke="#222" stroke-width="0.1">2</text>
<line x1="296.3" y1="211.7" x2="544.4" y2="211.7" stroke="#888" stroke-width="0.6"/>
<line x1="296.3" y1="211.7" x2="296.3" y2="213.2" stroke="#888" stroke-width="0.5"/>
<text x="296.3" y="219.3" font-size="3.4" text-anchor="middle" fill="#222" font-family="Liberation Sans, sans-serif"  stroke="#222" stroke-width="0.1">Chr</text>
<line x1="304.51" y1="211.7" x2="304.51" y2="213.2" stroke="#888" stroke-width="0.5"/>
<text x="304.51" y="219.3" font-size="3.4" text-anchor="middle" fill="#222" font-family="Liberation Sans, sans-serif"  stroke="#222" stroke-width="0.1">1</text>
<line x1="317.9" y1="211.7" x2="317.9" y2="213.2" stroke="#888" stroke-width="0.5"/>
<text x="317.9" y="219.3" font-size="3.4" text-anchor="middle" fill="#222" font-family="Liberation Sans, sans-serif"  stroke="#222" stroke-width="0.1">2</text>
<line x1="329.9" y1="211.7" x2="329.9" y2="213.2" stroke="#888" stroke-width="0.5"/>
<text x="329.9" y="219.3" font-size="3.4" text-anchor="middle" fill="#222" font-family="Liberation Sans, sans-serif"  stroke="#222" stroke-width="0.1">3</text>
<line x1="341.69" y1="211.7" x2="341.69" y2="213.2" stroke="#888" stroke-width="0.5"/>
<text x="341.69" y="219.3" font-size="3.4" text-anchor="middle" fill="#222" font-family="Liberation Sans, sans-serif"  stroke="#222" stroke-width="0.1">4</text>
<line x1="353" y1="211.7" x2="353" y2="213.2" stroke="#888" stroke-width="0.5"/>
<text x="353" y="219.3" font-size="3.4" text-anchor="middle" fill="#222" font-family="Liberation Sans, sans-serif"  stroke="#222" stroke-width="0.1">5</text>
<line x1="364.04" y1="211.7" x2="364.04" y2="213.2" stroke="#888" stroke-width="0.5"/>
<text x="364.04" y="219.3" font-size="3.4" text-anchor="middle" fill="#222" font-family="Liberation Sans, sans-serif"  stroke="#222" stroke-width="0.1">6</text>
<line x1="375.08" y1="211.7" x2="375.08" y2="213.2" stroke="#888" stroke-width="0.5"/>
<text x="375.08" y="219.3" font-size="3.4" text-anchor="middle" fill="#222" font-family="Liberation Sans, sans-serif"  stroke="#222" stroke-width="0.1">7</text>
<line x1="385.79" y1="211.7" x2="385.79" y2="213.2" stroke="#888" stroke-width="0.5"/>
<text x="385.79" y="219.3" font-size="3.4" text-anchor="middle" fill="#222" font-family="Liberation Sans, sans-serif"  stroke="#222" stroke-width="0.1">8</text>
<line x1="396.4" y1="211.7" x2="396.4" y2="213.2" stroke="#888" stroke-width="0.5"/>
<text x="396.4" y="219.3" font-size="3.4" text-anchor="middle" fill="#222" font-family="Liberation Sans, sans-serif"  stroke="#222" stroke-width="0.1">9</text>
<line x1="406.69" y1="211.7" x2="406.69" y2="213.2" stroke="#888" stroke-width="0.5"/>
<text x="406.69" y="219.3" font-size="3.4" text-anchor="middle" fill="#222" font-family="Liberation Sans, sans-serif"  stroke="#222" stroke-width="0.1">10</text>
<line x1="416.01" y1="211.7" x2="416.01" y2="213.2" stroke="#888" stroke-width="0.5"/>
<text x="416.01" y="219.3" font-size="3.4" text-anchor="middle" fill="#222" font-family="Liberation Sans, sans-serif"  stroke="#222" stroke-width="0.1">11</text>
<line x1="424.91" y1="211.7" x2="424.91" y2="213.2" stroke="#888" stroke-width="0.5"/>
<text x="424.91" y="219.3" font-size="3.4" text-anchor="middle" fill="#222" font-family="Liberation Sans, sans-serif"  stroke="#222" stroke-width="0.1">12</text>
<line x1="433.7" y1="211.7" x2="433.7" y2="213.2" stroke="#888" stroke-width="0.5"/>
<text x="433.7" y="219.3" font-size="3.4" text-anchor="middle" fill="#222" font-family="Liberation Sans, sans-serif"  stroke="#222" stroke-width="0.1">13</text>
<line x1="442.05" y1="211.7" x2="442.05" y2="213.2" stroke="#888" stroke-width="0.5"/>
<text x="442.05" y="219.3" font-size="3.4" text-anchor="middle" fill="#222" font-family="Liberation Sans, sans-serif"  stroke="#222" stroke-width="0.1">14</text>
<line x1="450.2" y1="211.7" x2="450.2" y2="213.2" stroke="#888" stroke-width="0.5"/>
<text x="450.2" y="219.3" font-size="3.4" text-anchor="middle" fill="#222" font-family="Liberation Sans, sans-serif"  stroke="#222" stroke-width="0.1">15</text>
<line x1="457.92" y1="211.7" x2="457.92" y2="213.2" stroke="#888" stroke-width="0.5"/>
<text x="457.92" y="219.3" font-size="3.4" text-anchor="middle" fill="#222" font-family="Liberation Sans, sans-serif"  stroke="#222" stroke-width="0.1">16</text>
<line x1="465.85" y1="211.7" x2="465.85" y2="213.2" stroke="#888" stroke-width="0.5"/>
<text x="465.85" y="219.3" font-size="3.4" text-anchor="middle" fill="#222" font-family="Liberation Sans, sans-serif"  stroke="#222" stroke-width="0.1">17</text>
<line x1="473.03" y1="211.7" x2="473.03" y2="213.2" stroke="#888" stroke-width="0.5"/>
<text x="473.03" y="219.3" font-size="3.4" text-anchor="middle" fill="#222" font-family="Liberation Sans, sans-serif"  stroke="#222" stroke-width="0.1">18</text>
<line x1="480.31" y1="211.7" x2="480.31" y2="213.2" stroke="#888" stroke-width="0.5"/>
<text x="480.31" y="219.3" font-size="3.4" text-anchor="middle" fill="#222" font-family="Liberation Sans, sans-serif"  stroke="#222" stroke-width="0.1">19</text>
<line x1="487.49" y1="211.7" x2="487.49" y2="213.2" stroke="#888" stroke-width="0.5"/>
<text x="487.49" y="219.3" font-size="3.4" text-anchor="middle" fill="#222" font-family="Liberation Sans, sans-serif"  stroke="#222" stroke-width="0.1">20</text>
<line x1="494.46" y1="211.7" x2="494.46" y2="213.2" stroke="#888" stroke-width="0.5"/>
<text x="494.46" y="219.3" font-size="3.4" text-anchor="middle" fill="#222" font-family="Liberation Sans, sans-serif"  stroke="#222" stroke-width="0.1">21</text>
<line x1="501.43" y1="211.7" x2="501.43" y2="213.2" stroke="#888" stroke-width="0.5"/>
<line x1="507.96" y1="211.7" x2="507.96" y2="213.2" stroke="#888" stroke-width="0.5"/>
<text x="507.96" y="219.3" font-size="3.4" text-anchor="middle" fill="#222" font-family="Liberation Sans, sans-serif"  stroke="#222" stroke-width="0.1">23</text>
<line x1="514.07" y1="211.7" x2="514.07" y2="213.2" stroke="#888" stroke-width="0.5"/>
<line x1="520.18" y1="211.7" x2="520.18" y2="213.2" stroke="#888" stroke-width="0.5"/>
<text x="520.18" y="219.3" font-size="3.4" text-anchor="middle" fill="#222" font-family="Liberation Sans, sans-serif"  stroke="#222" stroke-width="0.1">25</text>
<line x1="525.86" y1="211.7" x2="525.86" y2="213.2" stroke="#888" stroke-width="0.5"/>
<line x1="531.22" y1="211.7" x2="531.22" y2="213.2" stroke="#888" stroke-width="0.5"/>
<text x="531.22" y="219.3" font-size="3.4" text-anchor="middle" fill="#222" font-family="Liberation Sans, sans-serif"  stroke="#222" stroke-width="0.1">27</text>
<line x1="536.58" y1="211.7" x2="536.58" y2="213.2" stroke="#888" stroke-width="0.5"/>
<line x1="542.04" y1="211.7" x2="542.04" y2="213.2" stroke="#888" stroke-width="0.5"/>
<text x="542.04" y="219.3" font-size="3.4" text-anchor="middle" fill="#222" font-family="Liberation Sans, sans-serif"  stroke="#222" stroke-width="0.1">29</text>
<path d="M297.7 146.13 L298.3 145.15 L298.9 145.01 L299.5 143.81 L300.1 143.63 L300.7 144.3 L301.3 145.34 L301.9 145.1 L302.5 145.03 L303.1 143.94 L303.7 144.57 L304.3 144.05 L304.9 143.85 L305.5 143.71 L306.1 143.93 L306.7 145.35 L307.3 145.16 L307.9 145.11 L308.5 145.1 L309.1 143.89 L309.7 144.35 L310.3 145.7 L310.9 146.63 L311.31 147.37 L311.31 191.6 L310.9 190.51 L310.3 192.26 L309.7 193.12 L309.1 193.01 L308.5 192.36 L307.9 192.95 L307.3 192.18 L306.7 193.87 L306.1 193.73 L305.5 193.1 L304.9 192.6 L304.3 193.82 L303.7 193.14 L303.1 193.76 L302.5 193.7 L301.9 193.02 L301.3 192.83 L300.7 193.2 L300.1 192.86 L299.5 192.32 L298.9 191.89 L298.3 192.19 L297.7 189.93zM298.08 142.78h1.4v1.4h-1.4zM304.24 142.76h1.4v1.4h-1.4zM303.44 140.39h1.4v1.4h-1.4zM299.97 138.64h1.4v1.4h-1.4zM302.71 143.05h1.4v1.4h-1.4zM300.98 141.36h1.4v1.4h-1.4zM301.99 143.77h1.4v1.4h-1.4zM308.9 140.89h1.4v1.4h-1.4zM298.28 139.48h1.4v1.4h-1.4zM307.15 135.23h1.4v1.4h-1.4zM300.49 138.36h1.4v1.4h-1.4zM299.74 136.95h1.4v1.4h-1.4zM298.04 134.33h1.4v1.4h-1.4zM308.8 131.5h1.4v1.4h-1.4zM306.77 131.44h1.4v1.4h-1.4zM297.73 138.82h1.4v1.4h-1.4zM309.68 133.47h1.4v1.4h-1.4zM302.68 193.62h1.4v1.4h-1.4zM309.4 194.31h1.4v1.4h-1.4zM301.2 194.2h1.4v1.4h-1.4zM299.91 193.06h1.4v1.4h-1.4zM302.31 192.58h1.4v1.4h-1.4zM309.63 192.4h1.4v1.4h-1.4zM298.06 192.48h1.4v1.4h-1.4zM299.64 192.6h1.4v1.4h-1.4zM301.16 193.69h1.4v1.4h-1.4zM309.88 195.5h1.4v1.4h-1.4zM300.12 194.04h1.4v1.4h-1.4zM298.2 194.47h1.4v1.4h-1.4zM305.14 192 L305.94 192.81 L305.76 193.63 L305.73 194.44 L305.47 195.26 L305.89 196.07 L305.68 196.89 L305.87 197.7 L307.01 197.7 L306.73 196.89 L307.42 196.07 L306.88 195.26 L307.29 194.44 L307.77 193.63 L307.8 192.81 L307.19 192zM304.35 192.54h1.4v1.4h-1.4zM307.5 194.96h1.4v1.4h-1.4zM307.75 194.19h1.4v1.4h-1.4zM307.39 195.37h1.4v1.4h-1.4zM306.39 192 L306.71 192.88 L306.74 193.76 L307.07 194.64 L307.23 195.52 L307.59 196.4 L308.85 196.4 L308.79 195.52 L308.89 194.64 L308.91 193.76 L309.06 192.88 L308.92 192zM308.91 194.57h1.4v1.4h-1.4zM305.24 195.36h1.4v1.4h-1.4zM305.58 195.59h1.4v1.4h-1.4zM307.73 192.51h1.4v1.4h-1.4z" fill="#1B9DE2"/>
<path d="M300.02 145.73h0.97v0.97h-0.97zM309.28 146.09h0.71v0.71h-0.71zM298.02 144.27h1.04v1.04h-1.04zM299.39 144.15h1v1h-1zM307.38 145.8h1.04v1.04h-1.04zM300.45 145.79h0.94v0.94h-0.94zM302.05 146.76h0.84v0.84h-0.84zM304.52 146.36h0.61v0.61h-0.61zM298.39 145.9h1.03v1.03h-1.03zM305.47 191.37h0.67v0.67h-0.67zM302.55 192.43h0.61v0.61h-0.61zM308.05 190.07h1.01v1.01h-1.01zM299.03 190.62h0.99v0.99h-0.99zM301.88 192.11h0.72v0.72h-0.72z" fill="#fff" fill-opacity="0.85"/>
<path d="M311.74 144.33 L312.34 144.57 L312.94 142.11 L313.54 141.43 L314.14 142.44 L314.74 142.97 L315.34 142.22 L315.94 142.07 L316.54 142.92 L317.14 142.75 L317.74 141.33 L318.34 142.96 L318.94 141.59 L319.54 141.8 L320.14 142.87 L320.74 142.04 L321.34 142.8 L321.94 141.53 L322.54 143.28 L323.14 142.6 L323.74 143.27 L324.06 144.35 L324.06 190.52 L323.74 191.31 L323.14 192.76 L322.54 193.09 L321.94 192.01 L321.34 192.62 L320.74 193.09 L320.14 192.97 L319.54 193.43 L318.94 192.97 L318.34 192.15 L317.74 192.49 L317.14 193.7 L316.54 192.71 L315.94 193.53 L315.34 193.97 L314.74 193.25 L314.14 193.35 L313.54 193.22 L312.94 191.91 L312.34 192.39 L311.74 190.77zM321.86 140.26h1.4v1.4h-1.4zM320.45 138.1h1.4v1.4h-1.4zM318.48 140.57h1.4v1.4h-1.4zM320.27 141.15h1.4v1.4h-1.4zM315.64 140.99h1.4v1.4h-1.4zM312.47 140.68h1.4v1.4h-1.4zM320.7 137.75h1.4v1.4h-1.4zM321.75 135.61h1.4v1.4h-1.4zM318.06 135.85h1.4v1.4h-1.4zM318.57 138.67h1.4v1.4h-1.4zM316.1 129.4h1.4v1.4h-1.4zM313.57 132.5h1.4v1.4h-1.4zM315.24 136.39h1.4v1.4h-1.4zM311.8 139.48h1.4v1.4h-1.4zM322.29 130.57h1.4v1.4h-1.4zM320.61 193.61h1.4v1.4h-1.4zM313.33 195.78h1.4v1.4h-1.4zM318.15 194.26h1.4v1.4h-1.4zM322.16 192.36h1.4v1.4h-1.4zM320.15 193.03h1.4v1.4h-1.4zM318.92 192.45h1.4v1.4h-1.4zM319.19 192.36h1.4v1.4h-1.4zM320.95 194.38h1.4v1.4h-1.4zM322.05 195.42h1.4v1.4h-1.4zM318.32 197.39h1.4v1.4h-1.4zM319.51 195.04h1.4v1.4h-1.4z" fill="#FFC60A"/>
<path d="M314.46 142.95h1.1v1.1h-1.1zM321.78 144.29h0.8v0.8h-0.8zM316.43 142.47h0.81v0.81h-0.81zM312.33 143.34h0.69v0.69h-0.69zM317.94 142.77h0.78v0.78h-0.78zM322.28 144.33h0.91v0.91h-0.91zM313.67 146.57h1.09v1.09h-1.09zM321.95 143.98h0.9v0.9h-0.9zM315.53 191.35h0.71v0.71h-0.71zM321.97 191.64h1.05v1.05h-1.05zM320.51 191.75h0.75v0.75h-0.75zM322.36 191.47h0.68v0.68h-0.68zM320.48 191.4h1.08v1.08h-1.08z" fill="#fff" fill-opacity="0.85"/>
<path d="M324.6 147.38 L325.2 147.19 L325.8 145.74 L326.4 144.89 L327 144.76 L327.6 145.33 L328.2 144.94 L328.8 144.82 L329.4 146.69 L330 145.28 L330.6 146.48 L331.2 146.1 L331.8 146.16 L332.4 146.01 L333 146.61 L333.6 146.69 L334.2 147.09 L334.8 147.49 L335.21 148.25 L335.21 191.29 L334.8 191.44 L334.2 192.06 L333.6 192.08 L333 193.69 L332.4 192.97 L331.8 192.14 L331.2 192.34 L330.6 193.75 L330 192.51 L329.4 192.78 L328.8 193.36 L328.2 193.72 L327.6 192.66 L327 192.77 L326.4 192.85 L325.8 191.34 L325.2 192.31 L324.6 189.88zM333.63 142.95h1.4v1.4h-1.4zM325.86 143.06h1.4v1.4h-1.4zM332.31 142.09h1.4v1.4h-1.4zM326.63 143.07h1.4v1.4h-1.4zM331.3 144.32h1.4v1.4h-1.4zM332.33 132.24h1.4v1.4h-1.4zM331.19 133.07h1.4v1.4h-1.4zM333.4 139.03h1.4v1.4h-1.4zM332.54 134.03h1.4v1.4h-1.4zM330.04 142.02h1.4v1.4h-1.4zM330.35 133.17h1.4v1.4h-1.4zM327.33 136.08h1.4v1.4h-1.4zM333.02 136.6h1.4v1.4h-1.4zM324.76 193.08h1.4v1.4h-1.4zM332.64 193.15h1.4v1.4h-1.4zM330.76 193.43h1.4v1.4h-1.4zM330.41 195.28h1.4v1.4h-1.4zM327.66 193.9h1.4v1.4h-1.4zM332.98 195.03h1.4v1.4h-1.4zM332.89 193.57h1.4v1.4h-1.4zM329.46 197.75h1.4v1.4h-1.4zM327.79 194.13h1.4v1.4h-1.4zM331.26 195.79h1.4v1.4h-1.4zM328.95 192 L329.05 192.8 L328.69 193.6 L329.38 194.4 L329.27 195.2 L329.64 196 L329.22 196.8 L329.46 197.6 L329.4 198.4 L329.33 199.2 L329.94 200 L331.21 200 L331.03 199.2 L330.8 198.4 L331.18 197.6 L331.12 196.8 L331.38 196 L331.2 195.2 L331.52 194.4 L331.35 193.6 L331.76 192.8 L331.26 192zM330.73 197.23h1.4v1.4h-1.4zM329.33 193.52h1.4v1.4h-1.4zM327.65 198.51h1.4v1.4h-1.4zM331.31 194.23h1.4v1.4h-1.4zM330.97 192 L330.65 192.89 L330.86 193.78 L330.7 194.68 L331.56 195.57 L330.9 196.46 L331.59 197.35 L332.73 197.35 L332.66 196.46 L333 195.57 L332.6 194.68 L333.12 193.78 L332.87 192.89 L333.57 192zM330.67 194.28h1.4v1.4h-1.4zM333.27 193.02h1.4v1.4h-1.4zM330.28 195.97h1.4v1.4h-1.4zM329.76 196.53h1.4v1.4h-1.4z" fill="#3D2D9E"/>
<path d="M327.63 147.86h0.88v0.88h-0.88zM330.84 145.85h1.02v1.02h-1.02zM326.53 145.66h0.96v0.96h-0.96zM325.29 145.48h0.7v0.7h-0.7zM325.33 146.58h0.76v0.76h-0.76zM327.96 148.03h0.78v0.78h-0.78zM333.98 145.65h0.69v0.69h-0.69zM326.86 187.8h0.94v0.94h-0.94zM333.9 191.35h0.63v0.63h-0.63zM333.03 191.65h1.02v1.02h-1.02zM325.99 189.8h0.7v0.7h-0.7z" fill="#fff" fill-opacity="0.85"/>
<path d="M336.17 138.94 L336.77 138.9 L337.37 138.31 L337.97 137.58 L338.57 137.22 L339.17 137.99 L339.77 138.18 L340.37 138.02 L340.97 136.58 L341.57 136.81 L342.17 136.94 L342.77 136.98 L343.37 137.65 L343.97 136.89 L344.57 137.75 L345.17 137.19 L345.77 137.66 L346.37 139.07 L346.97 140.26 L347.21 139.04 L347.21 190.54 L346.97 192.09 L346.37 191.27 L345.77 191.62 L345.17 192.38 L344.57 193.65 L343.97 193.46 L343.37 193.88 L342.77 192.99 L342.17 192.08 L341.57 192.61 L340.97 193.44 L340.37 192.79 L339.77 192.28 L339.17 192.75 L338.57 192.93 L337.97 192.71 L337.37 192.17 L336.77 190.83 L336.17 189.9zM343.84 136.59h1.4v1.4h-1.4zM337.13 134.94h1.4v1.4h-1.4zM338.94 133.23h1.4v1.4h-1.4zM340.81 135.43h1.4v1.4h-1.4zM345.75 135.68h1.4v1.4h-1.4zM342.15 136.61h1.4v1.4h-1.4zM341.99 127.03h1.4v1.4h-1.4zM336.2 130.19h1.4v1.4h-1.4zM344.01 133.48h1.4v1.4h-1.4zM336.4 132.99h1.4v1.4h-1.4zM338.84 130.21h1.4v1.4h-1.4zM339.13 128.02h1.4v1.4h-1.4zM337.68 131.2h1.4v1.4h-1.4zM342.76 129.01h1.4v1.4h-1.4zM345.6 193.37h1.4v1.4h-1.4zM339.34 192.75h1.4v1.4h-1.4zM341.37 193.68h1.4v1.4h-1.4zM344.63 192.69h1.4v1.4h-1.4zM337.95 193.04h1.4v1.4h-1.4zM344.84 192.44h1.4v1.4h-1.4zM341.95 193.13h1.4v1.4h-1.4zM341.96 194.01h1.4v1.4h-1.4zM344.2 197.3h1.4v1.4h-1.4zM336.78 197.57h1.4v1.4h-1.4zM342.97 192 L342.75 192.82 L343.04 193.64 L343.15 194.45 L343.24 195.27 L343.23 196.09 L343.34 196.91 L343.61 197.73 L343.48 198.55 L343.47 199.36 L343.36 200.18 L343.55 201 L344.64 201 L344.48 200.18 L345.37 199.36 L345.13 198.55 L345.42 197.73 L345.03 196.91 L345.2 196.09 L345.18 195.27 L345.47 194.45 L345.4 193.64 L345.26 192.82 L345.31 192zM344.02 197.64h1.4v1.4h-1.4zM343.98 196.38h1.4v1.4h-1.4zM343.65 197.82h1.4v1.4h-1.4zM341.71 195.79h1.4v1.4h-1.4zM337.12 192 L337.49 192.87 L336.96 193.75 L337.66 194.62 L337.57 195.5 L337.75 196.37 L338.08 197.25 L339.28 197.25 L339.25 196.37 L339.44 195.5 L339.7 194.62 L339.29 193.75 L339.92 192.87 L339.73 192zM338.45 194.61h1.4v1.4h-1.4zM338.17 194.72h1.4v1.4h-1.4zM336.62 196.37h1.4v1.4h-1.4zM338.58 195.38h1.4v1.4h-1.4z" fill="#3B5A1B"/>
<path d="M345.57 137.17h0.83v0.83h-0.83zM339.74 137.71h0.75v0.75h-0.75zM339.6 138.79h0.7v0.7h-0.7zM341.08 137.53h0.93v0.93h-0.93zM339.43 138.84h1.03v1.03h-1.03zM344.16 138.95h0.69v0.69h-0.69zM337.33 140.29h1.1v1.1h-1.1zM336.98 188.68h0.6v0.6h-0.6zM342.72 192.42h0.88v0.88h-0.88zM338.68 192.45h0.8v0.8h-0.8zM338.84 187.36h0.82v0.82h-0.82z" fill="#fff" fill-opacity="0.85"/>
<path d="M347.64 147.12 L348.24 145.52 L348.84 144.4 L349.44 145.08 L350.04 143.69 L350.64 143.61 L351.24 143.51 L351.84 145.49 L352.44 144.37 L353.04 144.97 L353.64 144.62 L354.24 145.45 L354.84 144.19 L355.44 144.2 L356.04 144.86 L356.64 143.6 L357.24 145.05 L357.84 146.56 L358.36 146.81 L358.36 190.82 L357.84 192.33 L357.24 192.05 L356.64 193.36 L356.04 192.78 L355.44 192.17 L354.84 192.78 L354.24 192.42 L353.64 192.05 L353.04 192.57 L352.44 192.25 L351.84 192.91 L351.24 193.48 L350.64 193.52 L350.04 193.77 L349.44 192.64 L348.84 192.62 L348.24 192.34 L347.64 190.63zM356.32 140.56h1.4v1.4h-1.4zM356 141.36h1.4v1.4h-1.4zM356.96 142.42h1.4v1.4h-1.4zM351.67 141.32h1.4v1.4h-1.4zM354.41 142.1h1.4v1.4h-1.4zM356.42 138.87h1.4v1.4h-1.4zM350.7 141.61h1.4v1.4h-1.4zM355.97 135.08h1.4v1.4h-1.4zM353.98 139.38h1.4v1.4h-1.4zM349.23 136.73h1.4v1.4h-1.4zM355.96 138.1h1.4v1.4h-1.4zM351.54 137.4h1.4v1.4h-1.4zM355.65 140.64h1.4v1.4h-1.4zM355.85 193.66h1.4v1.4h-1.4zM347.55 193.1h1.4v1.4h-1.4zM352 194.72h1.4v1.4h-1.4zM354.65 192.46h1.4v1.4h-1.4zM350.94 193.11h1.4v1.4h-1.4zM350.02 192.7h1.4v1.4h-1.4zM353.86 194.19h1.4v1.4h-1.4zM354.95 196.97h1.4v1.4h-1.4zM356.87 197.52h1.4v1.4h-1.4zM354.65 195.19h1.4v1.4h-1.4zM351.7 192 L351.95 192.82 L351.57 193.64 L351.41 194.45 L352.01 195.27 L352.31 196.09 L352.25 196.91 L352.05 197.73 L352.28 198.55 L352.62 199.36 L352.33 200.18 L352.69 201 L353.72 201 L353.49 200.18 L354.09 199.36 L353.95 198.55 L353.71 197.73 L354.17 196.91 L354.41 196.09 L354.2 195.27 L354.11 194.45 L354 193.64 L354.53 192.82 L354.71 192zM352.3 195.09h1.4v1.4h-1.4zM352.66 196.92h1.4v1.4h-1.4zM353.2 199.62h1.4v1.4h-1.4zM351.72 197.38h1.4v1.4h-1.4zM349.06 192 L349.12 192.8 L348.78 193.6 L348.6 194.4 L349.15 195.2 L349.25 196 L349.24 196.8 L349.21 197.6 L350.13 197.6 L350.47 196.8 L350.68 196 L350.9 195.2 L350.45 194.4 L350.53 193.6 L350.91 192.8 L351.18 192zM350.58 194.72h1.4v1.4h-1.4zM350.55 193.99h1.4v1.4h-1.4zM349.39 193.44h1.4v1.4h-1.4zM349.69 193.54h1.4v1.4h-1.4z" fill="#F80C7C"/>
<path d="M347.99 146.05h1.04v1.04h-1.04zM350.52 145.5h1.06v1.06h-1.06zM355.31 145.87h1.07v1.07h-1.07zM356.74 146.93h0.95v0.95h-0.95zM351.55 146.84h0.91v0.91h-0.91zM349.64 144.77h1.04v1.04h-1.04zM353.05 145.72h0.64v0.64h-0.64zM352.32 191.94h0.65v0.65h-0.65zM352.78 191.84h0.98v0.98h-0.98zM349.65 188.81h1.01v1.01h-1.01zM353.45 192.15h0.6v0.6h-0.6z" fill="#fff" fill-opacity="0.85"/>
<path d="M359 142.96 L359.6 142.64 L360.2 141.05 L360.8 140.98 L361.4 141.77 L362 140.69 L362.6 141.42 L363.2 140.38 L363.8 141.95 L364.4 141.93 L365 140.33 L365.6 141.53 L366.2 140.67 L366.8 140.06 L367.4 140.57 L368 142.33 L368.6 142.52 L369.07 143.22 L369.07 190.1 L368.6 190.75 L368 191.86 L367.4 192.88 L366.8 193.64 L366.2 192.9 L365.6 192.66 L365 193.83 L364.4 193.38 L363.8 193.51 L363.2 193.61 L362.6 192.97 L362 192.52 L361.4 192.22 L360.8 193.31 L360.2 192.78 L359.6 192.36 L359 191.68zM363.37 136.37h1.4v1.4h-1.4zM363.24 139.56h1.4v1.4h-1.4zM362.2 140.13h1.4v1.4h-1.4zM363.75 138.31h1.4v1.4h-1.4zM360.24 138.83h1.4v1.4h-1.4zM360.4 134.28h1.4v1.4h-1.4zM360.42 134.98h1.4v1.4h-1.4zM364.49 134.11h1.4v1.4h-1.4zM360.32 133.34h1.4v1.4h-1.4zM364.88 135.19h1.4v1.4h-1.4zM361.27 133.7h1.4v1.4h-1.4zM365.11 138.1h1.4v1.4h-1.4zM364.91 137.9h1.4v1.4h-1.4zM366.87 193.31h1.4v1.4h-1.4zM359.11 194.91h1.4v1.4h-1.4zM363.28 192.41h1.4v1.4h-1.4zM365.8 194.89h1.4v1.4h-1.4zM359.95 194.6h1.4v1.4h-1.4zM362.6 193.07h1.4v1.4h-1.4zM361.96 195.27h1.4v1.4h-1.4zM364.03 195.35h1.4v1.4h-1.4z" fill="#FB7410"/>
<path d="M360.4 146.39h0.98v0.98h-0.98zM365.36 141.53h1.06v1.06h-1.06zM363.24 142.98h0.65v0.65h-0.65zM365.96 143.36h0.67v0.67h-0.67zM364.77 144.11h0.63v0.63h-0.63zM364.98 140.79h1.01v1.01h-1.01zM359.64 191.86h0.97v0.97h-0.97zM367.79 191.22h0.6v0.6h-0.6zM362.72 186.83h1.06v1.06h-1.06zM359.71 192.64h0.67v0.67h-0.67z" fill="#fff" fill-opacity="0.85"/>
<path d="M369.72 145.38 L370.32 145.45 L370.92 144.7 L371.52 143.51 L372.12 144.24 L372.72 144.04 L373.32 144.16 L373.92 143.67 L374.52 142.92 L375.12 143.87 L375.72 143.83 L376.32 144.26 L376.92 142.74 L377.52 142.44 L378.12 143.08 L378.72 143.01 L379.32 143.99 L379.92 144.06 L380.43 145.78 L380.43 190.69 L379.92 190.99 L379.32 191.38 L378.72 193.05 L378.12 192.2 L377.52 193.72 L376.92 192.55 L376.32 193.8 L375.72 192.25 L375.12 192.78 L374.52 193.56 L373.92 193.04 L373.32 192.9 L372.72 193.76 L372.12 192.33 L371.52 193.7 L370.92 192.31 L370.32 191.13 L369.72 190.54zM372.22 141.39h1.4v1.4h-1.4zM374.55 141.26h1.4v1.4h-1.4zM375.83 140.93h1.4v1.4h-1.4zM372.39 140.55h1.4v1.4h-1.4zM375.98 141.3h1.4v1.4h-1.4zM374.69 132.58h1.4v1.4h-1.4zM372.77 137.31h1.4v1.4h-1.4zM375.55 136.79h1.4v1.4h-1.4zM377.75 137.08h1.4v1.4h-1.4zM371.66 134.19h1.4v1.4h-1.4zM375.33 130.01h1.4v1.4h-1.4zM378.67 136.26h1.4v1.4h-1.4zM373.88 133.73h1.4v1.4h-1.4zM374.42 195.36h1.4v1.4h-1.4zM375.23 194.72h1.4v1.4h-1.4zM378.19 194.03h1.4v1.4h-1.4zM377.2 192.32h1.4v1.4h-1.4zM372 195.44h1.4v1.4h-1.4zM378.67 192.51h1.4v1.4h-1.4zM374.33 192.96h1.4v1.4h-1.4zM372 196.22h1.4v1.4h-1.4zM370.96 195.39h1.4v1.4h-1.4zM372.24 192 L372.45 192.88 L372.58 193.75 L372.78 194.62 L373.02 195.5 L372.78 196.38 L373.17 197.25 L373.29 198.12 L373.63 199 L375.13 199 L374.99 198.12 L374.95 197.25 L374.76 196.38 L375.11 195.5 L375.17 194.62 L375.18 193.75 L375.08 192.88 L375.17 192zM373.02 196.1h1.4v1.4h-1.4zM371.78 192.48h1.4v1.4h-1.4zM371.9 195.56h1.4v1.4h-1.4zM372.23 197.07h1.4v1.4h-1.4zM370.7 192 L371.28 192.87 L370.91 193.73 L371.39 194.6 L370.9 195.46 L371.28 196.33 L371.97 197.19 L373.23 197.19 L372.64 196.33 L373.03 195.46 L373.29 194.6 L373.38 193.73 L373.75 192.87 L373.9 192zM373.01 193.02h1.4v1.4h-1.4zM372.24 193.72h1.4v1.4h-1.4zM372.07 194.26h1.4v1.4h-1.4zM370.1 196.06h1.4v1.4h-1.4z" fill="#EE8EC0"/>
<path d="M374.54 145.53h1.08v1.08h-1.08zM376.17 143.39h0.63v0.63h-0.63zM370.06 145.86h1v1h-1zM377.77 143.16h0.78v0.78h-0.78zM376.51 143.39h0.87v0.87h-0.87zM378.55 143.52h0.88v0.88h-0.88zM377.26 144.86h0.85v0.85h-0.85zM375.07 191.64h1.02v1.02h-1.02zM374.52 190.32h0.94v0.94h-0.94zM375.4 191.62h0.8v0.8h-0.8zM372.64 191.3h0.96v0.96h-0.96z" fill="#fff" fill-opacity="0.85"/>
<path d="M380.86 140.3 L381.46 141.01 L382.06 138.75 L382.66 138.44 L383.26 138.34 L383.86 139.36 L384.46 139.06 L385.06 138.12 L385.66 138.09 L386.26 139.09 L386.86 138.49 L387.46 137.96 L388.06 137.83 L388.66 139.04 L389.26 139.33 L389.86 140.34 L390.46 139.6 L390.72 140.72 L390.72 190.13 L390.46 191.29 L389.86 191.33 L389.26 192.05 L388.66 193.12 L388.06 192.33 L387.46 193.59 L386.86 192.33 L386.26 192.53 L385.66 193.51 L385.06 192.53 L384.46 192.6 L383.86 193.57 L383.26 193.13 L382.66 193.62 L382.06 193.02 L381.46 192.49 L380.86 190.01zM384.14 136.63h1.4v1.4h-1.4zM384.69 137.08h1.4v1.4h-1.4zM384.16 134.38h1.4v1.4h-1.4zM388.88 136.14h1.4v1.4h-1.4zM386.23 137.07h1.4v1.4h-1.4zM384.94 126.21h1.4v1.4h-1.4zM383.29 132.19h1.4v1.4h-1.4zM382.37 134.02h1.4v1.4h-1.4zM384.97 128.06h1.4v1.4h-1.4zM382.37 130.73h1.4v1.4h-1.4zM384.5 125.29h1.4v1.4h-1.4zM385.03 127.2h1.4v1.4h-1.4zM382.74 126.26h1.4v1.4h-1.4zM380.87 193.53h1.4v1.4h-1.4zM385.36 194.03h1.4v1.4h-1.4zM385.33 193.3h1.4v1.4h-1.4zM386.53 193.26h1.4v1.4h-1.4zM384.18 194.34h1.4v1.4h-1.4zM383.4 193.51h1.4v1.4h-1.4zM387.97 197.76h1.4v1.4h-1.4zM381.22 195.5h1.4v1.4h-1.4zM382.12 194.47h1.4v1.4h-1.4z" fill="#5ED0AC"/>
<path d="M385.07 138.28h1v1h-1zM388.09 139.08h1.08v1.08h-1.08zM387.47 138.96h0.89v0.89h-0.89zM383.42 141.18h1v1h-1zM384 140.41h0.8v0.8h-0.8zM382.27 141.57h1.01v1.01h-1.01zM382.6 189.66h0.72v0.72h-0.72zM383.42 189.8h0.8v0.8h-0.8zM387.32 192.09h0.63v0.63h-0.63zM383.3 190.87h0.97v0.97h-0.97z" fill="#fff" fill-opacity="0.85"/>
<path d="M391.58 139.94 L392.18 139.14 L392.78 139.02 L393.38 136.56 L393.98 137.06 L394.58 137.77 L395.18 137.22 L395.78 138.45 L396.38 136.95 L396.98 138.42 L397.58 137.97 L398.18 137.85 L398.78 138.38 L399.38 137.37 L399.98 137.84 L400.58 138.76 L401.18 140.08 L401.22 140.3 L401.22 191.1 L401.18 191.48 L400.58 191.95 L399.98 192.89 L399.38 192.26 L398.78 193.66 L398.18 193.07 L397.58 192.65 L396.98 192.26 L396.38 193.21 L395.78 192.44 L395.18 192.72 L394.58 193.09 L393.98 192.42 L393.38 192.46 L392.78 191.43 L392.18 191.26 L391.58 191.49zM393.49 136.7h1.4v1.4h-1.4zM396.62 135.84h1.4v1.4h-1.4zM397.79 135.52h1.4v1.4h-1.4zM391.47 133.72h1.4v1.4h-1.4zM392.39 134.17h1.4v1.4h-1.4zM397.7 132.7h1.4v1.4h-1.4zM393.96 133.9h1.4v1.4h-1.4zM398.39 130.92h1.4v1.4h-1.4zM399.42 127.37h1.4v1.4h-1.4zM396.24 129.93h1.4v1.4h-1.4zM396.24 128.62h1.4v1.4h-1.4zM399.76 132.58h1.4v1.4h-1.4zM392.92 193.77h1.4v1.4h-1.4zM400.01 193.11h1.4v1.4h-1.4zM395.43 194.26h1.4v1.4h-1.4zM391.49 192.75h1.4v1.4h-1.4zM393.72 194.96h1.4v1.4h-1.4zM396.61 193.22h1.4v1.4h-1.4zM391.95 196.65h1.4v1.4h-1.4zM393.44 195.84h1.4v1.4h-1.4z" fill="#8E0E2C"/>
<path d="M396.53 137.1h0.98v0.98h-0.98zM393.2 140.04h0.93v0.93h-0.93zM395.74 138.53h0.92v0.92h-0.92zM398.38 138.93h0.65v0.65h-0.65zM392.96 138.75h0.93v0.93h-0.93zM397.49 140.06h0.71v0.71h-0.71zM395.15 191.56h0.79v0.79h-0.79zM398.08 191.11h0.65v0.65h-0.65zM394.83 192.14h1.03v1.03h-1.03zM399.96 190.89h0.84v0.84h-0.84z" fill="#fff" fill-opacity="0.85"/>
<path d="M401.87 141.55 L402.47 140.18 L403.07 139.18 L403.67 139.55 L404.27 139.07 L404.87 139.4 L405.47 139.22 L406.07 139.57 L406.67 138.97 L407.27 139.16 L407.87 138.61 L408.47 138.96 L409.07 139.48 L409.67 139.5 L410.27 140.07 L410.87 140.34 L411.47 140.69 L411.51 140.59 L411.51 190.62 L411.47 191.8 L410.87 191.95 L410.27 192.93 L409.67 193.33 L409.07 192.2 L408.47 192.9 L407.87 192.7 L407.27 193.94 L406.67 193.38 L406.07 192.73 L405.47 193.02 L404.87 193.79 L404.27 193.06 L403.67 193.41 L403.07 192 L402.47 191.41 L401.87 191.37zM403.39 137.32h1.4v1.4h-1.4zM407.51 134.71h1.4v1.4h-1.4zM406.24 132.96h1.4v1.4h-1.4zM406.97 134.71h1.4v1.4h-1.4zM409.18 137.78h1.4v1.4h-1.4zM402.81 127h1.4v1.4h-1.4zM402.48 128.26h1.4v1.4h-1.4zM404.19 127.21h1.4v1.4h-1.4zM407.21 130.48h1.4v1.4h-1.4zM405.81 132.81h1.4v1.4h-1.4zM410.3 129.98h1.4v1.4h-1.4zM409.96 134.79h1.4v1.4h-1.4zM401.88 192.9h1.4v1.4h-1.4zM410.19 193.47h1.4v1.4h-1.4zM402.77 195.23h1.4v1.4h-1.4zM404.3 192.7h1.4v1.4h-1.4zM404.18 192.42h1.4v1.4h-1.4zM406.7 192.79h1.4v1.4h-1.4zM403.53 196.04h1.4v1.4h-1.4zM406.01 196.58h1.4v1.4h-1.4zM403.87 192 L403.65 192.8 L403.76 193.6 L403.78 194.4 L404.05 195.2 L403.86 196 L404.16 196.8 L404.45 197.6 L404.24 198.4 L404.25 199.2 L404.21 200 L405.45 200 L405.52 199.2 L405.59 198.4 L405.79 197.6 L405.74 196.8 L405.62 196 L405.78 195.2 L405.75 194.4 L405.94 193.6 L405.75 192.8 L406.28 192zM403.86 198.89h1.4v1.4h-1.4zM405.88 197.49h1.4v1.4h-1.4zM404.74 198.53h1.4v1.4h-1.4zM403.43 194.54h1.4v1.4h-1.4zM407.56 192 L407.51 192.85 L407.34 193.69 L407.48 194.54 L408.14 195.38 L407.76 196.23 L407.92 197.07 L408.06 197.92 L409.41 197.92 L409.65 197.07 L409.33 196.23 L410.08 195.38 L409.66 194.54 L409.72 193.69 L410.23 192.85 L410.13 192zM409.76 194.75h1.4v1.4h-1.4zM408.14 196.63h1.4v1.4h-1.4zM407.92 194.51h1.4v1.4h-1.4zM407.8 193.49h1.4v1.4h-1.4z" fill="#15784E"/>
<path d="M404.46 138.68h0.83v0.83h-0.83zM408.42 138.63h1.04v1.04h-1.04zM403.14 140.72h1.08v1.08h-1.08zM404.87 141.3h0.69v0.69h-0.69zM408.89 138.89h1.06v1.06h-1.06zM404.32 141.03h0.75v0.75h-0.75zM406.8 190.51h0.89v0.89h-0.89zM405.66 191.31h0.97v0.97h-0.97zM407.69 189.45h0.67v0.67h-0.67zM403.73 190.84h0.74v0.74h-0.74z" fill="#fff" fill-opacity="0.85"/>
<path d="M411.94 140.11 L412.54 140.84 L413.14 140.02 L413.74 139.39 L414.34 138.38 L414.94 139.3 L415.54 139.47 L416.14 139.14 L416.74 139.29 L417.34 138.97 L417.94 137.62 L418.54 138.56 L419.14 139.14 L419.74 140.41 L420.09 140.89 L420.09 192.68 L419.74 191.77 L419.14 193.93 L418.54 193 L417.94 194.57 L417.34 193.63 L416.74 194.13 L416.14 194.23 L415.54 193.1 L414.94 194.16 L414.34 194.32 L413.74 193.52 L413.14 192.47 L412.54 192.77 L411.94 191.36zM413 137.77h1.4v1.4h-1.4zM415.09 135.56h1.4v1.4h-1.4zM414.48 136.96h1.4v1.4h-1.4zM416.13 137.05h1.4v1.4h-1.4zM413.05 127.11h1.4v1.4h-1.4zM415.65 132.3h1.4v1.4h-1.4zM418.68 130.19h1.4v1.4h-1.4zM412.83 130.83h1.4v1.4h-1.4zM413.63 126.8h1.4v1.4h-1.4zM417.31 135.27h1.4v1.4h-1.4zM412.72 194.12h1.4v1.4h-1.4zM413.97 194.87h1.4v1.4h-1.4zM415.23 194.39h1.4v1.4h-1.4zM415.79 194.59h1.4v1.4h-1.4zM418.42 194.8h1.4v1.4h-1.4zM415.35 197.05h1.4v1.4h-1.4zM416.49 196.05h1.4v1.4h-1.4z" fill="#1B9DE2"/>
<path d="M418.43 139.82h0.95v0.95h-0.95zM417.13 143.23h0.66v0.66h-0.66zM418.19 138.87h0.87v0.87h-0.87zM416.2 138.84h1v1h-1zM414.6 138.15h1.09v1.09h-1.09zM418.48 190.97h0.9v0.9h-0.9zM415.77 192.82h1.01v1.01h-1.01zM418.8 192.55h0.8v0.8h-0.8z" fill="#fff" fill-opacity="0.85"/>
<path d="M420.73 141.12 L421.33 140.56 L421.93 139.88 L422.53 140.29 L423.13 139.16 L423.73 139.99 L424.33 140.75 L424.93 139.62 L425.53 140.8 L426.13 139.3 L426.73 139.51 L427.33 139.13 L427.93 139.88 L428.53 141.1 L429.09 142.51 L429.09 193.15 L428.53 192.96 L427.93 193.36 L427.33 194.1 L426.73 194.66 L426.13 195.1 L425.53 194 L424.93 194.21 L424.33 195.33 L423.73 194.47 L423.13 194.09 L422.53 195.62 L421.93 193.43 L421.33 194.05 L420.73 191.95zM426.87 137.49h1.4v1.4h-1.4zM424.01 138.45h1.4v1.4h-1.4zM426.57 138.04h1.4v1.4h-1.4zM423.6 137.62h1.4v1.4h-1.4zM422.8 134.47h1.4v1.4h-1.4zM425.98 128.24h1.4v1.4h-1.4zM426.23 134.06h1.4v1.4h-1.4zM423.02 126.92h1.4v1.4h-1.4zM423.93 130.93h1.4v1.4h-1.4zM420.91 128.76h1.4v1.4h-1.4zM423.79 194.77h1.4v1.4h-1.4zM422.13 195.29h1.4v1.4h-1.4zM423.12 194.46h1.4v1.4h-1.4zM423.19 195.56h1.4v1.4h-1.4zM421.77 194.83h1.4v1.4h-1.4zM424.43 197.31h1.4v1.4h-1.4zM425.16 196.2h1.4v1.4h-1.4zM422.35 194 L422.51 194.83 L422.53 195.67 L422.68 196.5 L422.95 197.33 L423.16 198.17 L423.1 199 L424.29 199 L424.61 198.17 L424.44 197.33 L424.1 196.5 L424.51 195.67 L424.82 194.83 L424.83 194zM423.21 195.17h1.4v1.4h-1.4zM422.42 197.84h1.4v1.4h-1.4zM421.23 197.71h1.4v1.4h-1.4zM421.44 197.81h1.4v1.4h-1.4zM423.87 194 L424.48 195.05 L424.64 196.1 L424.35 197.15 L425.53 197.15 L426.16 196.1 L426.3 195.05 L426.3 194zM424.55 196.13h1.4v1.4h-1.4zM422.97 194.86h1.4v1.4h-1.4zM426.27 195.65h1.4v1.4h-1.4zM426.02 194.79h1.4v1.4h-1.4z" fill="#FFC60A"/>
<path d="M423.26 142.38h0.86v0.86h-0.86zM421.62 141.11h0.82v0.82h-0.82zM426.33 140.04h0.8v0.8h-0.8zM427.2 139.9h0.97v0.97h-0.97zM425.29 140.57h0.81v0.81h-0.81zM424.5 192.55h0.85v0.85h-0.85zM421.79 193.84h0.69v0.69h-0.69zM425.32 192.63h0.76v0.76h-0.76z" fill="#fff" fill-opacity="0.85"/>
<path d="M429.73 143.61 L430.33 143.8 L430.93 141.96 L431.53 143.03 L432.13 142.34 L432.73 141.73 L433.33 143.07 L433.93 142.36 L434.53 141.23 L435.13 142.65 L435.73 141.31 L436.33 142.32 L436.93 143.62 L437.53 144.52 L437.66 145.27 L437.66 192.48 L437.53 191.35 L436.93 192.81 L436.33 192.64 L435.73 194.41 L435.13 193.85 L434.53 194.31 L433.93 193.14 L433.33 193.99 L432.73 193.87 L432.13 193.09 L431.53 194.32 L430.93 194.24 L430.33 193.05 L429.73 192.77zM430.2 139.98h1.4v1.4h-1.4zM432.66 139.67h1.4v1.4h-1.4zM435.09 140.84h1.4v1.4h-1.4zM433.92 141.1h1.4v1.4h-1.4zM432.1 132.79h1.4v1.4h-1.4zM430.56 128.95h1.4v1.4h-1.4zM436.31 139.53h1.4v1.4h-1.4zM433.99 129.48h1.4v1.4h-1.4zM433.09 138.82h1.4v1.4h-1.4zM434.58 134.19h1.4v1.4h-1.4zM431.9 194.29h1.4v1.4h-1.4zM435.19 193.68h1.4v1.4h-1.4zM432.79 195.41h1.4v1.4h-1.4zM432.17 193.74h1.4v1.4h-1.4zM434.8 193.35h1.4v1.4h-1.4zM429.72 196.82h1.4v1.4h-1.4zM435.94 198.11h1.4v1.4h-1.4zM430.87 193 L431.03 193.85 L431.71 194.71 L431.72 195.56 L431.45 196.42 L431.69 197.27 L431.9 198.13 L431.25 198.98 L431.32 199.84 L432.02 200.69 L432 201.55 L432.18 202.4 L433.59 202.4 L433.33 201.55 L433.67 200.69 L433.36 199.84 L433.4 198.98 L433.86 198.13 L433.7 197.27 L433.88 196.42 L434.24 195.56 L434.22 194.71 L433.74 193.85 L433.99 193zM432.25 196.42h1.4v1.4h-1.4zM431.7 195.67h1.4v1.4h-1.4zM431.94 200.73h1.4v1.4h-1.4zM432.16 196.56h1.4v1.4h-1.4zM433.55 193 L433.69 193.85 L434 194.7 L433.71 195.55 L433.88 196.4 L434.18 197.25 L434.19 198.1 L433.88 198.95 L434.09 199.8 L434.18 200.65 L435.49 200.65 L435.19 199.8 L435.16 198.95 L435.72 198.1 L435.71 197.25 L435.52 196.4 L435.53 195.55 L435.62 194.7 L435.71 193.85 L435.91 193zM433.34 199.33h1.4v1.4h-1.4zM435.49 199.64h1.4v1.4h-1.4zM433.28 193.73h1.4v1.4h-1.4zM435.17 194.58h1.4v1.4h-1.4z" fill="#3D2D9E"/>
<path d="M430.42 142.11h0.96v0.96h-0.96zM434.46 142.18h0.96v0.96h-0.96zM431.65 142.62h0.85v0.85h-0.85zM434.3 142.81h1.02v1.02h-1.02zM434.16 143.21h1.02v1.02h-1.02zM430.47 193.4h0.76v0.76h-0.76zM434.14 192.23h0.99v0.99h-0.99zM434.13 191.07h0.9v0.9h-0.9z" fill="#fff" fill-opacity="0.85"/>
<path d="M438.3 142.59 L438.9 142.18 L439.5 141.58 L440.1 140.21 L440.7 140.86 L441.3 141.38 L441.9 140.02 L442.5 140.68 L443.1 141.86 L443.7 141.81 L444.3 140.61 L444.9 142.9 L445.5 143.63 L445.81 143.42 L445.81 189.26 L445.5 190.14 L444.9 190.22 L444.3 191.74 L443.7 191.2 L443.1 191.78 L442.5 191.28 L441.9 192.36 L441.3 191.7 L440.7 192.7 L440.1 192.65 L439.5 190.59 L438.9 191.02 L438.3 190.31zM439.86 140.21h1.4v1.4h-1.4zM443.48 138.83h1.4v1.4h-1.4zM442.59 139.72h1.4v1.4h-1.4zM443.34 138.13h1.4v1.4h-1.4zM444.28 128.22h1.4v1.4h-1.4zM440.23 133.65h1.4v1.4h-1.4zM443.12 132.76h1.4v1.4h-1.4zM438.63 128.5h1.4v1.4h-1.4zM440.62 136.77h1.4v1.4h-1.4zM440.27 138.19h1.4v1.4h-1.4zM444.04 191.94h1.4v1.4h-1.4zM439.01 195.07h1.4v1.4h-1.4zM440.11 191.31h1.4v1.4h-1.4zM442.16 192.22h1.4v1.4h-1.4zM444.12 192.31h1.4v1.4h-1.4zM440.29 196.11h1.4v1.4h-1.4zM443.11 196.27h1.4v1.4h-1.4zM440.7 191 L440.49 191.82 L440.1 192.64 L440.73 193.45 L440.54 194.27 L440.47 195.09 L440.58 195.91 L440.87 196.73 L441.13 197.55 L441.13 198.36 L440.79 199.18 L440.72 200 L442.01 200 L442.19 199.18 L442.62 198.36 L442.55 197.55 L442.85 196.73 L442.16 195.91 L442.31 195.09 L442.31 194.27 L442.58 193.45 L442.38 192.64 L442.89 191.82 L443.06 191zM441.74 195.64h1.4v1.4h-1.4zM442.08 192.18h1.4v1.4h-1.4zM439.84 196.74h1.4v1.4h-1.4zM439.33 194.52h1.4v1.4h-1.4zM442.17 191 L441.9 191.89 L442.35 192.78 L442.49 193.67 L442.39 194.56 L442.46 195.45 L442.24 196.33 L443.44 196.33 L443.67 195.45 L443.77 194.56 L444.12 193.67 L444.19 192.78 L444.25 191.89 L444.38 191zM441.62 191.42h1.4v1.4h-1.4zM441.95 192.83h1.4v1.4h-1.4zM441.72 192.11h1.4v1.4h-1.4zM441.69 194.92h1.4v1.4h-1.4z" fill="#3B5A1B"/>
<path d="M444.07 143.22h0.72v0.72h-0.72zM444.41 141.13h0.61v0.61h-0.61zM441.56 142.82h1.06v1.06h-1.06zM442.28 141.07h0.66v0.66h-0.66zM439.35 140.91h0.79v0.79h-0.79zM443.28 191.38h0.83v0.83h-0.83zM444.65 189.89h0.64v0.64h-0.64zM441.36 191.23h0.81v0.81h-0.81z" fill="#fff" fill-opacity="0.85"/>
<path d="M446.45 142.39 L447.05 141.41 L447.65 141.26 L448.25 139.75 L448.85 139.64 L449.45 139.01 L450.05 140.29 L450.65 139.44 L451.25 139.73 L451.85 140.12 L452.45 140.25 L453.05 140.25 L453.65 141.93 L453.95 141.26 L453.95 192.66 L453.65 193.19 L453.05 193.89 L452.45 193.6 L451.85 193.71 L451.25 194.13 L450.65 194.53 L450.05 193.45 L449.45 194.28 L448.85 193.68 L448.25 193.76 L447.65 192.42 L447.05 193.01 L446.45 191.52zM449.88 135.56h1.4v1.4h-1.4zM451 138.37h1.4v1.4h-1.4zM451.07 135.94h1.4v1.4h-1.4zM447.21 137.69h1.4v1.4h-1.4zM451.96 135.23h1.4v1.4h-1.4zM448.07 128.9h1.4v1.4h-1.4zM452.01 136.59h1.4v1.4h-1.4zM451.26 127.71h1.4v1.4h-1.4zM449.16 134.79h1.4v1.4h-1.4zM447.87 134.68h1.4v1.4h-1.4zM451.79 193.35h1.4v1.4h-1.4zM451.09 194.46h1.4v1.4h-1.4zM451.57 193.56h1.4v1.4h-1.4zM450.24 196.49h1.4v1.4h-1.4zM446.67 194.4h1.4v1.4h-1.4zM450.32 196.51h1.4v1.4h-1.4zM452.42 196.6h1.4v1.4h-1.4z" fill="#F80C7C"/>
<path d="M450.08 140.37h1.05v1.05h-1.05zM446.82 141.01h0.93v0.93h-0.93zM451.88 143.49h0.63v0.63h-0.63zM451.53 139.51h0.78v0.78h-0.78zM449.85 141.03h1.02v1.02h-1.02zM450.69 193.02h0.95v0.95h-0.95zM448.96 192.14h1.02v1.02h-1.02zM450.38 192.6h0.93v0.93h-0.93z" fill="#fff" fill-opacity="0.85"/>
<path d="M454.38 143.45 L454.98 141.89 L455.58 141.13 L456.18 141.48 L456.78 140.18 L457.38 141.04 L457.98 141.56 L458.58 140.41 L459.18 140.05 L459.78 142.08 L460.38 142.51 L460.98 143.02 L461.45 143.65 L461.45 192.46 L460.98 192.36 L460.38 193.95 L459.78 194.76 L459.18 194.41 L458.58 194.47 L457.98 193.1 L457.38 193.36 L456.78 194.1 L456.18 194.57 L455.58 192.35 L454.98 193.35 L454.38 192.66zM454.43 138.71h1.4v1.4h-1.4zM458.57 139.93h1.4v1.4h-1.4zM457.61 138.83h1.4v1.4h-1.4zM455.27 136.82h1.4v1.4h-1.4zM457.17 134.9h1.4v1.4h-1.4zM458.33 132.96h1.4v1.4h-1.4zM456.52 132.66h1.4v1.4h-1.4zM457.97 128.26h1.4v1.4h-1.4zM456.01 136.43h1.4v1.4h-1.4zM455.64 194.73h1.4v1.4h-1.4zM455.71 194.04h1.4v1.4h-1.4zM455.29 193.46h1.4v1.4h-1.4zM456.92 194.78h1.4v1.4h-1.4zM455.87 197.15h1.4v1.4h-1.4zM458.28 197.59h1.4v1.4h-1.4z" fill="#FB7410"/>
<path d="M460.02 140.67h0.86v0.86h-0.86zM455.86 140.71h0.81v0.81h-0.81zM455.13 141.75h0.71v0.71h-0.71zM456.4 144.01h0.64v0.64h-0.64zM460.02 191.07h0.76v0.76h-0.76zM456.45 192.05h0.6v0.6h-0.6zM456.71 193.19h0.96v0.96h-0.96z" fill="#fff" fill-opacity="0.85"/>
<path d="M462.31 139.72 L462.91 138.42 L463.51 139.15 L464.11 138.27 L464.71 137.73 L465.31 137.04 L465.91 137.27 L466.51 136.65 L467.11 137.99 L467.71 137.92 L468.31 138.75 L468.91 139.41 L469.38 139.6 L469.38 190.84 L468.91 191.14 L468.31 191.7 L467.71 192 L467.11 193.19 L466.51 193.13 L465.91 193.83 L465.31 192.86 L464.71 193.98 L464.11 192.15 L463.51 192.25 L462.91 191.55 L462.31 191.02zM467.42 134.32h1.4v1.4h-1.4zM467.27 135.78h1.4v1.4h-1.4zM468.04 134.34h1.4v1.4h-1.4zM464.5 134.51h1.4v1.4h-1.4zM467 133.96h1.4v1.4h-1.4zM462.43 125.18h1.4v1.4h-1.4zM465.34 125.95h1.4v1.4h-1.4zM462.89 129.19h1.4v1.4h-1.4zM465.52 133.92h1.4v1.4h-1.4zM466.04 132.15h1.4v1.4h-1.4zM465.89 193.58h1.4v1.4h-1.4zM465.58 194.21h1.4v1.4h-1.4zM466.6 193.94h1.4v1.4h-1.4zM462.13 194.37h1.4v1.4h-1.4zM464.55 195.43h1.4v1.4h-1.4zM464.49 192 L464.53 192.9 L464.47 193.8 L464.81 194.7 L465.42 195.6 L465.22 196.5 L466.56 196.5 L466.81 195.6 L466.73 194.7 L466.74 193.8 L467.04 192.9 L466.92 192zM464.2 194.62h1.4v1.4h-1.4zM466.16 195.22h1.4v1.4h-1.4zM463.67 194.42h1.4v1.4h-1.4zM463.94 195.07h1.4v1.4h-1.4zM461.94 192 L462.02 193.06 L462.66 194.12 L462.61 195.18 L464.04 195.18 L464.55 194.12 L464.51 193.06 L464.8 192zM461.37 192.78h1.4v1.4h-1.4zM461.05 193.35h1.4v1.4h-1.4zM461.83 193.43h1.4v1.4h-1.4zM463.3 193.58h1.4v1.4h-1.4z" fill="#EE8EC0"/>
<path d="M463.96 139.66h0.88v0.88h-0.88zM462.88 138.5h0.6v0.6h-0.6zM464.21 138.29h0.97v0.97h-0.97zM467.48 137.98h0.96v0.96h-0.96zM463.04 189.41h1.05v1.05h-1.05zM463.01 190.31h0.89v0.89h-0.89zM463.91 190.46h1.04v1.04h-1.04z" fill="#fff" fill-opacity="0.85"/>
<path d="M469.81 141.17 L470.41 140.6 L471.01 140.96 L471.61 140.41 L472.21 139.37 L472.81 140.78 L473.41 140.07 L474.01 140.27 L474.61 139.09 L475.21 141.17 L475.81 141.55 L476.24 141.13 L476.24 190.16 L475.81 190.88 L475.21 193.06 L474.61 192.39 L474.01 193.15 L473.41 192.51 L472.81 192.84 L472.21 192.94 L471.61 192.03 L471.01 191.38 L470.41 191.67 L469.81 190.19zM471.85 138.94h1.4v1.4h-1.4zM469.73 137.75h1.4v1.4h-1.4zM473.12 138.82h1.4v1.4h-1.4zM474.82 127.59h1.4v1.4h-1.4zM472.95 130.26h1.4v1.4h-1.4zM474.92 131.8h1.4v1.4h-1.4zM472.27 133.46h1.4v1.4h-1.4zM471.39 136.49h1.4v1.4h-1.4zM473.74 195.9h1.4v1.4h-1.4zM470.88 194.87h1.4v1.4h-1.4zM470.95 192.54h1.4v1.4h-1.4zM470.47 193.59h1.4v1.4h-1.4zM471.66 194.05h1.4v1.4h-1.4zM471.45 196.01h1.4v1.4h-1.4zM470.12 192 L469.92 192.88 L470.39 193.75 L469.96 194.62 L470.37 195.5 L470.24 196.38 L470.2 197.25 L470.31 198.12 L470.27 199 L471.86 199 L471.57 198.12 L472.06 197.25 L472.06 196.38 L472.36 195.5 L472.04 194.62 L472.45 193.75 L472.3 192.88 L472.88 192zM469.6 194.04h1.4v1.4h-1.4zM468.93 196.11h1.4v1.4h-1.4zM470.18 197.03h1.4v1.4h-1.4zM469.75 195.22h1.4v1.4h-1.4z" fill="#5ED0AC"/>
<path d="M473.91 140.57h1.02v1.02h-1.02zM474.48 140.06h1.07v1.07h-1.07zM474.51 139.96h0.75v0.75h-0.75zM470.69 140.82h0.89v0.89h-0.89zM471.97 189.88h0.73v0.73h-0.73zM472 190.78h0.82v0.82h-0.82z" fill="#fff" fill-opacity="0.85"/>
<path d="M476.88 138.79 L477.48 138.47 L478.08 137.91 L478.68 136.08 L479.28 136.98 L479.88 136.86 L480.48 136.5 L481.08 136.13 L481.68 135.35 L482.28 136.5 L482.88 138.4 L483.48 137.71 L483.74 139.41 L483.74 191.49 L483.48 191.73 L482.88 192.7 L482.28 192.61 L481.68 193.72 L481.08 193.17 L480.48 193.53 L479.88 192.14 L479.28 192.15 L478.68 193.47 L478.08 191.53 L477.48 191.29 L476.88 189.92zM482.07 133.07h1.4v1.4h-1.4zM482.27 131.83h1.4v1.4h-1.4zM479.64 134.62h1.4v1.4h-1.4zM478.57 125.85h1.4v1.4h-1.4zM478.14 123.61h1.4v1.4h-1.4zM479.78 132.48h1.4v1.4h-1.4zM478.51 131.86h1.4v1.4h-1.4zM480.18 125.9h1.4v1.4h-1.4zM478.64 193.22h1.4v1.4h-1.4zM481.38 193.63h1.4v1.4h-1.4zM476.98 193.81h1.4v1.4h-1.4zM478.45 193.87h1.4v1.4h-1.4zM481.22 195.43h1.4v1.4h-1.4zM480.1 194.26h1.4v1.4h-1.4zM480.09 192 L480.22 192.8 L479.99 193.6 L480.21 194.4 L479.96 195.2 L480.54 196 L480.02 196.8 L480.21 197.6 L480.24 198.4 L480.04 199.2 L480.46 200 L480.21 200.8 L480.49 201.6 L480.6 202.4 L480.62 203.2 L480.63 204 L480.59 204.8 L482.07 204.8 L481.83 204 L482.14 203.2 L482.15 202.4 L481.78 201.6 L481.91 200.8 L482.31 200 L481.91 199.2 L482.17 198.4 L482.25 197.6 L481.77 196.8 L482.58 196 L481.88 195.2 L482.4 194.4 L482.17 193.6 L482.55 192.8 L482.35 192zM479.51 194.19h1.4v1.4h-1.4zM478.97 194.04h1.4v1.4h-1.4zM482.09 194.57h1.4v1.4h-1.4zM479.78 198.83h1.4v1.4h-1.4z" fill="#8E0E2C"/>
<path d="M477.33 137.97h0.92v0.92h-0.92zM480.52 136.85h0.86v0.86h-0.86zM482.1 135.93h0.83v0.83h-0.83zM478.18 136.8h0.7v0.7h-0.7zM477.44 191.79h0.96v0.96h-0.96zM481.11 191.79h0.92v0.92h-0.92zM479.34 192.15h0.78v0.78h-0.78z" fill="#fff" fill-opacity="0.85"/>
<path d="M484.17 141.09 L484.77 139.83 L485.37 138.38 L485.97 137.71 L486.57 139.55 L487.17 139.41 L487.77 139 L488.37 139.29 L488.97 138.91 L489.57 138.91 L490.17 140.13 L490.77 140.55 L490.82 140.05 L490.82 191.12 L490.77 192.65 L490.17 192.62 L489.57 193.68 L488.97 193.5 L488.37 193.52 L487.77 193.14 L487.17 193.93 L486.57 194.85 L485.97 194.8 L485.37 193.5 L484.77 193.23 L484.17 191.8zM488.02 136.22h1.4v1.4h-1.4zM484.84 136.63h1.4v1.4h-1.4zM487.03 136.93h1.4v1.4h-1.4zM488.1 131.91h1.4v1.4h-1.4zM485.05 135.93h1.4v1.4h-1.4zM484.91 133.87h1.4v1.4h-1.4zM486.36 136.09h1.4v1.4h-1.4zM484.35 135.54h1.4v1.4h-1.4zM486.69 195.94h1.4v1.4h-1.4zM487.7 193.7h1.4v1.4h-1.4zM484.14 196.29h1.4v1.4h-1.4zM486.77 195.05h1.4v1.4h-1.4zM484.95 197.98h1.4v1.4h-1.4zM486.62 193 L486.69 193.86 L487.08 194.71 L486.65 195.57 L487.22 196.43 L487.1 197.29 L487.28 198.14 L486.96 199 L488.16 199 L488.62 198.14 L488.43 197.29 L488.97 196.43 L488.44 195.57 L489.09 194.71 L488.91 193.86 L489.02 193zM486.35 193.74h1.4v1.4h-1.4zM487.24 193.63h1.4v1.4h-1.4zM488.26 193.93h1.4v1.4h-1.4zM488.66 196.27h1.4v1.4h-1.4z" fill="#15784E"/>
<path d="M486.77 138.15h1.03v1.03h-1.03zM489.01 138.92h0.66v0.66h-0.66zM484.96 140.03h1.05v1.05h-1.05zM488.57 139.78h0.88v0.88h-0.88zM487.57 189.5h1.05v1.05h-1.05zM489.07 190.54h0.61v0.61h-0.61z" fill="#fff" fill-opacity="0.85"/>
<path d="M491.24 140.34 L491.84 139.34 L492.44 140 L493.04 137.83 L493.64 139.47 L494.24 137.73 L494.84 137.77 L495.44 139.16 L496.04 138.54 L496.64 139.3 L497.24 140.18 L497.67 141.52 L497.67 190.49 L497.24 191.95 L496.64 192.35 L496.04 192.74 L495.44 193.69 L494.84 193.72 L494.24 193.21 L493.64 192.3 L493.04 193.85 L492.44 191.73 L491.84 192.47 L491.24 190.96zM495.81 137.81h1.4v1.4h-1.4zM494.58 136.93h1.4v1.4h-1.4zM493.91 134.74h1.4v1.4h-1.4zM495.66 135.71h1.4v1.4h-1.4zM496.37 132.6h1.4v1.4h-1.4zM494.22 136.03h1.4v1.4h-1.4zM491.2 134.08h1.4v1.4h-1.4zM491.19 128.85h1.4v1.4h-1.4zM491.15 193h1.4v1.4h-1.4zM493.89 194.06h1.4v1.4h-1.4zM491.79 193.86h1.4v1.4h-1.4zM491.43 192.96h1.4v1.4h-1.4zM495.46 196.51h1.4v1.4h-1.4zM491.54 197.49h1.4v1.4h-1.4zM493.53 192 L493.21 192.81 L493.67 193.63 L493.55 194.44 L493.28 195.26 L493.94 196.07 L493.76 196.89 L493.92 197.7 L495.13 197.7 L495.15 196.89 L495.46 196.07 L494.87 195.26 L495.39 194.44 L495.61 193.63 L495.16 192.81 L495.91 192zM494.49 194.37h1.4v1.4h-1.4zM495.48 193.43h1.4v1.4h-1.4zM493.47 193h1.4v1.4h-1.4zM492.44 192.52h1.4v1.4h-1.4z" fill="#1B9DE2"/>
<path d="M493.67 140.07h0.62v0.62h-0.62zM496.06 139.65h0.61v0.61h-0.61zM492.78 140.72h0.83v0.83h-0.83zM495.74 139.37h0.63v0.63h-0.63zM493.46 190.28h0.81v0.81h-0.81zM496.11 191.82h0.99v0.99h-0.99z" fill="#fff" fill-opacity="0.85"/>
<path d="M498.1 140.34 L498.7 138.08 L499.3 137.59 L499.9 137.84 L500.5 136.71 L501.1 137.94 L501.7 137.07 L502.3 137.99 L502.9 137.12 L503.5 138.13 L504.1 138.82 L504.7 138.69 L504.75 139.5 L504.75 188.78 L504.7 187.74 L504.1 190.19 L503.5 189.22 L502.9 191.01 L502.3 190.96 L501.7 190.44 L501.1 190.28 L500.5 189.84 L499.9 189.96 L499.3 190.07 L498.7 189 L498.1 187.93zM502.09 135.05h1.4v1.4h-1.4zM498.21 136.53h1.4v1.4h-1.4zM498.77 134.63h1.4v1.4h-1.4zM499.96 126.94h1.4v1.4h-1.4zM502.67 129.41h1.4v1.4h-1.4zM499.7 126.29h1.4v1.4h-1.4zM498.43 124.46h1.4v1.4h-1.4zM502.32 128.58h1.4v1.4h-1.4zM499.48 190.23h1.4v1.4h-1.4zM498.14 191.1h1.4v1.4h-1.4zM501.47 191.75h1.4v1.4h-1.4zM500.3 190.04h1.4v1.4h-1.4zM501.1 194.3h1.4v1.4h-1.4zM499.76 191.53h1.4v1.4h-1.4zM501.41 189.6 L501.74 190.46 L501.49 191.32 L502.03 192.19 L501.79 193.05 L502.17 193.91 L502.27 194.78 L502.08 195.64 L502.47 196.5 L503.4 196.5 L503.14 195.64 L503.77 194.78 L503.62 193.91 L503.45 193.05 L503.72 192.19 L503.54 191.32 L503.52 190.46 L503.79 189.6zM502.28 195.07h1.4v1.4h-1.4zM500.66 191.55h1.4v1.4h-1.4zM501.66 190.56h1.4v1.4h-1.4zM503.14 190.93h1.4v1.4h-1.4z" fill="#FFC60A"/>
<path d="M501.61 139.83h0.83v0.83h-0.83zM499.67 137.2h1.08v1.08h-1.08zM502.37 137.95h0.73v0.73h-0.73zM503.05 137.66h0.9v0.9h-0.9zM498.61 188.5h0.92v0.92h-0.92zM500.29 189.71h1.01v1.01h-1.01z" fill="#fff" fill-opacity="0.85"/>
<path d="M505.18 146.3 L505.78 146 L506.38 144.39 L506.98 143.58 L507.58 145.42 L508.18 145.2 L508.78 144.57 L509.38 144.02 L509.98 145.48 L510.58 145.83 L510.75 147.59 L510.75 191.68 L510.58 190.55 L509.98 192.57 L509.38 192.86 L508.78 192.41 L508.18 192.94 L507.58 193.74 L506.98 192.16 L506.38 192.15 L505.78 192.13 L505.18 190.72zM506.52 143.53h1.4v1.4h-1.4zM506.48 142.76h1.4v1.4h-1.4zM507.97 143.79h1.4v1.4h-1.4zM507.16 140.43h1.4v1.4h-1.4zM506.73 141.11h1.4v1.4h-1.4zM505.07 137.28h1.4v1.4h-1.4zM509.07 140.77h1.4v1.4h-1.4zM508.58 194.05h1.4v1.4h-1.4zM508.71 192.54h1.4v1.4h-1.4zM507.72 193.62h1.4v1.4h-1.4zM507.22 195.14h1.4v1.4h-1.4zM505.79 196.36h1.4v1.4h-1.4zM507.99 192 L508.01 192.86 L507.88 193.71 L508.27 194.57 L508.52 195.43 L508.59 196.29 L508.81 197.14 L508.96 198 L510.19 198 L510.45 197.14 L510.21 196.29 L510.41 195.43 L510.75 194.57 L510.37 193.71 L510.58 192.86 L510.67 192zM510.37 194.97h1.4v1.4h-1.4zM509.54 193.26h1.4v1.4h-1.4zM509.05 193.63h1.4v1.4h-1.4zM509.12 193.82h1.4v1.4h-1.4z" fill="#3D2D9E"/>
<path d="M506.68 145.57h0.8v0.8h-0.8zM507.19 146.09h1.01v1.01h-1.01zM505.63 144.72h0.94v0.94h-0.94zM506.96 192.25h0.71v0.71h-0.71zM508.67 191.61h1.03v1.03h-1.03z" fill="#fff" fill-opacity="0.85"/>
<path d="M511.18 143.53 L511.78 143.27 L512.38 142.09 L512.98 141.03 L513.58 141.69 L514.18 141.57 L514.78 140.03 L515.38 142.02 L515.98 141.76 L516.58 142.88 L516.97 143.51 L516.97 191.2 L516.58 191.33 L515.98 191.53 L515.38 191.86 L514.78 193.03 L514.18 192.88 L513.58 193.13 L512.98 192.83 L512.38 192.52 L511.78 192.16 L511.18 190.41zM512.1 139.46h1.4v1.4h-1.4zM513.99 138.47h1.4v1.4h-1.4zM515.15 137.45h1.4v1.4h-1.4zM515.21 127.6h1.4v1.4h-1.4zM511.65 127.53h1.4v1.4h-1.4zM513.16 135.53h1.4v1.4h-1.4zM512.81 135.71h1.4v1.4h-1.4zM514.54 192.95h1.4v1.4h-1.4zM512.04 192.64h1.4v1.4h-1.4zM515.11 192.55h1.4v1.4h-1.4zM515.33 192.62h1.4v1.4h-1.4zM511.45 196.93h1.4v1.4h-1.4zM511.89 192 L511.78 192.8 L512.03 193.6 L511.54 194.4 L511.95 195.2 L512.13 196 L512.27 196.8 L511.82 197.6 L512.16 198.4 L512.24 199.2 L512.01 200 L513.16 200 L513.34 199.2 L513.34 198.4 L513.44 197.6 L513.92 196.8 L513.76 196 L513.66 195.2 L513.72 194.4 L513.88 193.6 L514.1 192.8 L514.03 192zM511.5 198.35h1.4v1.4h-1.4zM512.37 197.38h1.4v1.4h-1.4zM512.72 195.17h1.4v1.4h-1.4zM513.1 194.43h1.4v1.4h-1.4z" fill="#3B5A1B"/>
<path d="M512.51 140.77h0.76v0.76h-0.76zM514.3 141.27h0.97v0.97h-0.97zM513.59 141.36h0.73v0.73h-0.73zM515.21 141.41h0.83v0.83h-0.83zM514.74 191.83h1v1h-1zM512.11 191.5h0.62v0.62h-0.62z" fill="#fff" fill-opacity="0.85"/>
<path d="M517.39 142.75 L517.99 140.77 L518.59 140.22 L519.19 139.36 L519.79 139.46 L520.39 140.16 L520.99 140.39 L521.59 140.36 L522.19 140.5 L522.79 142.7 L522.97 141.43 L522.97 191 L522.79 191.79 L522.19 191.86 L521.59 192.33 L520.99 193.53 L520.39 193.64 L519.79 192.15 L519.19 192.43 L518.59 192.03 L517.99 192.49 L517.39 190.3zM518.9 137.28h1.4v1.4h-1.4zM520.85 138.75h1.4v1.4h-1.4zM517.56 138.65h1.4v1.4h-1.4zM517.95 136.24h1.4v1.4h-1.4zM518.01 136.49h1.4v1.4h-1.4zM520.61 136.23h1.4v1.4h-1.4zM521.37 130.26h1.4v1.4h-1.4zM520.99 134h1.4v1.4h-1.4zM521.26 194.15h1.4v1.4h-1.4zM517.38 192.72h1.4v1.4h-1.4zM521.68 192.33h1.4v1.4h-1.4zM520.06 196.25h1.4v1.4h-1.4zM518.65 194.47h1.4v1.4h-1.4zM519.21 192 L519.41 192.86 L519.28 193.71 L519.76 194.57 L519.35 195.43 L519.61 196.29 L519.92 197.14 L519.82 198 L521.08 198 L520.91 197.14 L521.09 196.29 L521.13 195.43 L521.66 194.57 L521.03 193.71 L521.64 192.86 L521.28 192zM520.42 195.6h1.4v1.4h-1.4zM519.58 192.91h1.4v1.4h-1.4zM519.88 194.97h1.4v1.4h-1.4zM521.16 192.85h1.4v1.4h-1.4z" fill="#F80C7C"/>
<path d="M520.79 141.97h0.91v0.91h-0.91zM519.08 142.4h1v1h-1zM521.37 140.33h1.04v1.04h-1.04zM519.92 192.47h0.82v0.82h-0.82zM520.76 191.07h0.73v0.73h-0.73z" fill="#fff" fill-opacity="0.85"/>
<path d="M523.4 138.76 L524 139.18 L524.6 138.75 L525.2 136.88 L525.8 138.03 L526.4 137.06 L527 137.4 L527.6 138.85 L528.2 139.99 L528.32 139.06 L528.32 191.45 L528.2 192.67 L527.6 192.87 L527 193.16 L526.4 194.76 L525.8 194.07 L525.2 193.18 L524.6 194.16 L524 193.04 L523.4 191.36zM524.26 133.52h1.4v1.4h-1.4zM526.26 134.08h1.4v1.4h-1.4zM526.55 125.66h1.4v1.4h-1.4zM524.12 131.44h1.4v1.4h-1.4zM523.92 127.45h1.4v1.4h-1.4zM523.81 194.26h1.4v1.4h-1.4zM525.07 194.19h1.4v1.4h-1.4zM524.5 193.5h1.4v1.4h-1.4zM526.39 198.64h1.4v1.4h-1.4z" fill="#FB7410"/>
<path d="M527.02 142.37h0.68v0.68h-0.68zM526.95 137.69h0.72v0.72h-0.72zM525.19 137.86h0.6v0.6h-0.6zM526.11 193.12h0.67v0.67h-0.67zM525.98 191.85h0.83v0.83h-0.83z" fill="#fff" fill-opacity="0.85"/>
<path d="M528.75 147 L529.35 145.55 L529.95 145.1 L530.55 145.04 L531.15 144.35 L531.75 144.58 L532.35 145.18 L532.95 145.07 L533.55 146.42 L533.68 146.64 L533.68 191.03 L533.55 190.89 L532.95 191.43 L532.35 192.89 L531.75 193.91 L531.15 192.6 L530.55 192.12 L529.95 192.36 L529.35 191.34 L528.75 191.65zM531.49 143.18h1.4v1.4h-1.4zM531.8 142.91h1.4v1.4h-1.4zM530.46 141.69h1.4v1.4h-1.4zM529.47 141.67h1.4v1.4h-1.4zM531.32 131.76h1.4v1.4h-1.4zM529.72 192.7h1.4v1.4h-1.4zM529.99 192.39h1.4v1.4h-1.4zM531.54 192.32h1.4v1.4h-1.4zM532.23 195.04h1.4v1.4h-1.4z" fill="#EE8EC0"/>
<path d="M530.04 144.86h0.72v0.72h-0.72zM530.39 144.41h0.67v0.67h-0.67zM531.41 144.47h0.8v0.8h-0.8zM531.59 190.74h0.93v0.93h-0.93zM531.79 191.4h0.64v0.64h-0.64z" fill="#fff" fill-opacity="0.85"/>
<path d="M534.11 147.27 L534.71 146.61 L535.31 145.6 L535.91 144.2 L536.51 144.88 L537.11 144.37 L537.71 144.45 L538.31 145.47 L538.91 145.87 L539.04 145.72 L539.04 189.96 L538.91 190.75 L538.31 191.6 L537.71 192.4 L537.11 192.28 L536.51 193.13 L535.91 193.83 L535.31 191.8 L534.71 191.64 L534.11 191.72zM534.77 143.55h1.4v1.4h-1.4zM535.76 143.73h1.4v1.4h-1.4zM537.38 138.18h1.4v1.4h-1.4zM537.14 131.08h1.4v1.4h-1.4zM536.83 139.46h1.4v1.4h-1.4zM536.12 137.88h1.4v1.4h-1.4zM534.18 195.03h1.4v1.4h-1.4zM535.85 193.94h1.4v1.4h-1.4zM537.81 193.79h1.4v1.4h-1.4zM537.36 194.48h1.4v1.4h-1.4zM535.21 192 L535.16 192.83 L535.39 193.67 L535.99 194.5 L535.36 195.33 L536.13 196.17 L536.11 197 L537.28 197 L537.68 196.17 L537.53 195.33 L537.98 194.5 L537.47 193.67 L537.92 192.83 L538.24 192zM534.54 194.29h1.4v1.4h-1.4zM535.77 192.87h1.4v1.4h-1.4zM534.4 195.74h1.4v1.4h-1.4zM537.53 195.55h1.4v1.4h-1.4z" fill="#5ED0AC"/>
<path d="M536.35 145.52h0.75v0.75h-0.75zM535.44 146.57h0.89v0.89h-0.89zM535.6 145.1h0.99v0.99h-0.99zM537.07 192.29h0.77v0.77h-0.77zM537.29 191.73h0.89v0.89h-0.89z" fill="#fff" fill-opacity="0.85"/>
<path d="M539.68 144.46 L540.28 143.87 L540.88 143.27 L541.48 142.93 L542.08 143.04 L542.68 141.62 L543.28 142.82 L543.88 144.12 L544.4 143.79 L544.4 190.27 L543.88 192.42 L543.28 191.85 L542.68 192.3 L542.08 192.04 L541.48 192.8 L540.88 191.29 L540.28 191.62 L539.68 191zM541.82 140.19h1.4v1.4h-1.4zM539.64 140.2h1.4v1.4h-1.4zM541.23 130.82h1.4v1.4h-1.4zM542.14 136.59h1.4v1.4h-1.4zM539.87 129.15h1.4v1.4h-1.4zM543.07 139.37h1.4v1.4h-1.4zM539.82 192.87h1.4v1.4h-1.4zM540.67 192.92h1.4v1.4h-1.4zM539.79 192.68h1.4v1.4h-1.4zM542.28 197.77h1.4v1.4h-1.4z" fill="#8E0E2C"/>
<path d="M542.06 142.07h0.9v0.9h-0.9zM541.53 144.92h0.96v0.96h-0.96zM541.84 143.58h0.83v0.83h-0.83zM540.77 191.51h1.1v1.1h-1.1zM541.55 190.33h1.02v1.02h-1.02z" fill="#fff" fill-opacity="0.85"/>
<rect x="297.75" y="127.95" width="1.5" height="1.5" fill="#1B9DE2"/>
<rect x="330.25" y="128.25" width="1.5" height="1.5" fill="#3D2D9E"/>
<rect x="348.25" y="129.65" width="1.5" height="1.5" fill="#F80C7C"/>
<rect x="370.25" y="128.25" width="1.5" height="1.5" fill="#EE8EC0"/>
<rect x="379.25" y="129.25" width="1.5" height="1.5" fill="#5ED0AC"/>
<rect x="459.25" y="127.25" width="1.5" height="1.5" fill="#FB7410"/>
<rect x="481.25" y="132.25" width="1.5" height="1.5" fill="#15784E"/>
<rect x="494.25" y="129.25" width="1.5" height="1.5" fill="#FFC60A"/>
<line x1="296.3" y1="145.3" x2="544.4" y2="145.3" stroke="#E8403A" stroke-width="0.55" stroke-opacity="0.9"/>
<text x="282.2" y="163.3" font-size="5.07" text-anchor="middle" fill="#222" font-family="Liberation Sans, sans-serif" transform="rotate(-90 282.2 163.3)" font-weight="bold" dominant-baseline="central" stroke="#222" stroke-width="0.1">-TajimaD</text>
<text x="7" y="239.8" font-size="9.5" text-anchor="middle" fill="#555" font-family="Liberation Serif, serif" >B</text>
<line x1="90" y1="227.5" x2="90" y2="320.6" stroke="#888" stroke-width="0.5"/>
<line x1="88.6" y1="320.6" x2="90" y2="320.6" stroke="#888" stroke-width="0.5"/>
<text x="87.6" y="321.4" font-size="2.3" text-anchor="end" fill="#999" font-family="Liberation Sans, sans-serif" >0</text>
<line x1="88.6" y1="301.2" x2="90" y2="301.2" stroke="#888" stroke-width="0.5"/>
<text x="87.6" y="302" font-size="2.3" text-anchor="end" fill="#999" font-family="Liberation Sans, sans-serif" >500</text>
<line x1="88.6" y1="281.8" x2="90" y2="281.8" stroke="#888" stroke-width="0.5"/>
<text x="87.6" y="282.6" font-size="2.3" text-anchor="end" fill="#999" font-family="Liberation Sans, sans-serif" >1000</text>
<line x1="88.6" y1="262.4" x2="90" y2="262.4" stroke="#888" stroke-width="0.5"/>
<text x="87.6" y="263.2" font-size="2.3" text-anchor="end" fill="#999" font-family="Liberation Sans, sans-serif" >1500</text>
<line x1="88.6" y1="243" x2="90" y2="243" stroke="#888" stroke-width="0.5"/>
<text x="87.6" y="243.8" font-size="2.3" text-anchor="end" fill="#999" font-family="Liberation Sans, sans-serif" >2000</text>
<text x="73.1" y="276.3" font-size="5" text-anchor="middle" fill="#222" font-family="Liberation Sans, sans-serif" transform="rotate(-90 73.1 276.3)"  stroke="#222" stroke-width="0.1">Gene Intersections</text>
<rect x="97.6" y="239.47" width="6.6" height="81.13" fill="#262626"/>
<text x="100.3" y="236.57" font-size="4.8" text-anchor="middle" fill="#444" font-family="Liberation Sans, sans-serif" transform="rotate(-15 100.3 236.57)"  stroke="#444" stroke-width="0.04">2091</text>
<rect x="108.76" y="295.26" width="6.6" height="25.34" fill="#262626"/>
<text x="111.46" y="292.36" font-size="4.8" text-anchor="middle" fill="#444" font-family="Liberation Sans, sans-serif" transform="rotate(-15 111.46 292.36)"  stroke="#444" stroke-width="0.04">653</text>
<rect x="119.92" y="302.87" width="6.6" height="17.73" fill="#262626"/>
<text x="122.62" y="299.97" font-size="4.8" text-anchor="middle" fill="#444" font-family="Liberation Sans, sans-serif" transform="rotate(-15 122.62 299.97)"  stroke="#444" stroke-width="0.04">457</text>
<rect x="131.08" y="311.56" width="6.6" height="9.04" fill="#262626"/>
<text x="133.78" y="308.66" font-size="4.8" text-anchor="middle" fill="#444" font-family="Liberation Sans, sans-serif" transform="rotate(-15 133.78 308.66)"  stroke="#444" stroke-width="0.04">233</text>
<rect x="142.24" y="314.35" width="6.6" height="6.25" fill="#262626"/>
<text x="144.94" y="311.45" font-size="4.8" text-anchor="middle" fill="#444" font-family="Liberation Sans, sans-serif" transform="rotate(-15 144.94 311.45)"  stroke="#444" stroke-width="0.04">161</text>
<rect x="153.4" y="316.06" width="6.6" height="4.54" fill="#262626"/>
<text x="156.1" y="313.16" font-size="4.8" text-anchor="middle" fill="#444" font-family="Liberation Sans, sans-serif" transform="rotate(-15 156.1 313.16)"  stroke="#444" stroke-width="0.04">117</text>
<rect x="164.56" y="318.89" width="6.6" height="1.71" fill="#262626"/>
<text x="167.26" y="315.99" font-size="4.8" text-anchor="middle" fill="#444" font-family="Liberation Sans, sans-serif" transform="rotate(-15 167.26 315.99)"  stroke="#444" stroke-width="0.04">44</text>
<rect x="175.72" y="319.13" width="6.6" height="1.47" fill="#262626"/>
<text x="178.42" y="316.23" font-size="4.8" text-anchor="middle" fill="#444" font-family="Liberation Sans, sans-serif" transform="rotate(-15 178.42 316.23)"  stroke="#444" stroke-width="0.04">38</text>
<rect x="186.88" y="320.02" width="6.6" height="0.58" fill="#262626"/>
<text x="189.58" y="317.12" font-size="4.8" text-anchor="middle" fill="#444" font-family="Liberation Sans, sans-serif" transform="rotate(-15 189.58 317.12)"  stroke="#444" stroke-width="0.04">15</text>
<rect x="198.04" y="320.17" width="6.6" height="0.43" fill="#262626"/>
<text x="200.74" y="317.27" font-size="4.8" text-anchor="middle" fill="#444" font-family="Liberation Sans, sans-serif" transform="rotate(-15 200.74 317.27)"  stroke="#444" stroke-width="0.04">11</text>
<rect x="209.2" y="320.25" width="6.6" height="0.35" fill="#262626"/>
<text x="211.9" y="317.35" font-size="4.8" text-anchor="middle" fill="#444" font-family="Liberation Sans, sans-serif" transform="rotate(-15 211.9 317.35)"  stroke="#444" stroke-width="0.04">9</text>
<rect x="220.36" y="320.25" width="6.6" height="0.35" fill="#262626"/>
<text x="223.06" y="317.35" font-size="4.8" text-anchor="middle" fill="#444" font-family="Liberation Sans, sans-serif" transform="rotate(-15 223.06 317.35)"  stroke="#444" stroke-width="0.04">9</text>
<rect x="231.52" y="320.52" width="6.6" height="0.3" fill="#262626"/>
<text x="234.22" y="317.62" font-size="4.8" text-anchor="middle" fill="#444" font-family="Liberation Sans, sans-serif" transform="rotate(-15 234.22 317.62)"  stroke="#444" stroke-width="0.04">2</text>
<rect x="242.68" y="320.52" width="6.6" height="0.3" fill="#262626"/>
<text x="245.38" y="317.62" font-size="4.8" text-anchor="middle" fill="#444" font-family="Liberation Sans, sans-serif" transform="rotate(-15 245.38 317.62)"  stroke="#444" stroke-width="0.04">2</text>
<line x1="90" y1="320.9" x2="258" y2="320.9" stroke="#8a8a8a" stroke-width="0.8"/>
<rect x="90.3" y="334.6" width="167" height="13" fill="#E3F9FB"/>
<rect x="90.3" y="361.1" width="167" height="13" fill="#E3F9FB"/>
<circle cx="100.9" cy="327.8" r="1.3" fill="#E4E4E4"/>
<circle cx="100.9" cy="340.9" r="1.3" fill="#E4E4E4"/>
<circle cx="100.9" cy="354.3" r="1.3" fill="#E4E4E4"/>
<circle cx="100.9" cy="367.6" r="1.3" fill="#E4E4E4"/>
<circle cx="112.06" cy="327.8" r="1.3" fill="#E4E4E4"/>
<circle cx="112.06" cy="340.9" r="1.3" fill="#E4E4E4"/>
<circle cx="112.06" cy="354.3" r="1.3" fill="#E4E4E4"/>
<circle cx="112.06" cy="367.6" r="1.3" fill="#E4E4E4"/>
<circle cx="123.22" cy="327.8" r="1.3" fill="#E4E4E4"/>
<circle cx="123.22" cy="340.9" r="1.3" fill="#E4E4E4"/>
<circle cx="123.22" cy="354.3" r="1.3" fill="#E4E4E4"/>
<circle cx="123.22" cy="367.6" r="1.3" fill="#E4E4E4"/>
<circle cx="134.38" cy="327.8" r="1.3" fill="#E4E4E4"/>
<circle cx="134.38" cy="340.9" r="1.3" fill="#E4E4E4"/>
<circle cx="134.38" cy="354.3" r="1.3" fill="#E4E4E4"/>
<circle cx="134.38" cy="367.6" r="1.3" fill="#E4E4E4"/>
<circle cx="145.54" cy="327.8" r="1.3" fill="#E4E4E4"/>
<circle cx="145.54" cy="340.9" r="1.3" fill="#E4E4E4"/>
<circle cx="145.54" cy="354.3" r="1.3" fill="#E4E4E4"/>
<circle cx="145.54" cy="367.6" r="1.3" fill="#E4E4E4"/>
<circle cx="156.7" cy="327.8" r="1.3" fill="#E4E4E4"/>
<circle cx="156.7" cy="340.9" r="1.3" fill="#E4E4E4"/>
<circle cx="156.7" cy="354.3" r="1.3" fill="#E4E4E4"/>
<circle cx="156.7" cy="367.6" r="1.3" fill="#E4E4E4"/>
<circle cx="167.86" cy="327.8" r="1.3" fill="#E4E4E4"/>
<circle cx="167.86" cy="340.9" r="1.3" fill="#E4E4E4"/>
<circle cx="167.86" cy="354.3" r="1.3" fill="#E4E4E4"/>
<circle cx="167.86" cy="367.6" r="1.3" fill="#E4E4E4"/>
<circle cx="179.02" cy="327.8" r="1.3" fill="#E4E4E4"/>
<circle cx="179.02" cy="340.9" r="1.3" fill="#E4E4E4"/>
<circle cx="179.02" cy="354.3" r="1.3" fill="#E4E4E4"/>
<circle cx="179.02" cy="367.6" r="1.3" fill="#E4E4E4"/>
<circle cx="190.18" cy="327.8" r="1.3" fill="#E4E4E4"/>
<circle cx="190.18" cy="340.9" r="1.3" fill="#E4E4E4"/>
<circle cx="190.18" cy="354.3" r="1.3" fill="#E4E4E4"/>
<circle cx="190.18" cy="367.6" r="1.3" fill="#E4E4E4"/>
<circle cx="201.34" cy="327.8" r="1.3" fill="#E4E4E4"/>
<circle cx="201.34" cy="340.9" r="1.3" fill="#E4E4E4"/>
<circle cx="201.34" cy="354.3" r="1.3" fill="#E4E4E4"/>
<circle cx="201.34" cy="367.6" r="1.3" fill="#E4E4E4"/>
<circle cx="212.5" cy="327.8" r="1.3" fill="#E4E4E4"/>
<circle cx="212.5" cy="340.9" r="1.3" fill="#E4E4E4"/>
<circle cx="212.5" cy="354.3" r="1.3" fill="#E4E4E4"/>
<circle cx="212.5" cy="367.6" r="1.3" fill="#E4E4E4"/>
<circle cx="223.66" cy="327.8" r="1.3" fill="#E4E4E4"/>
<circle cx="223.66" cy="340.9" r="1.3" fill="#E4E4E4"/>
<circle cx="223.66" cy="354.3" r="1.3" fill="#E4E4E4"/>
<circle cx="223.66" cy="367.6" r="1.3" fill="#E4E4E4"/>
<circle cx="234.82" cy="327.8" r="1.3" fill="#E4E4E4"/>
<circle cx="234.82" cy="340.9" r="1.3" fill="#E4E4E4"/>
<circle cx="234.82" cy="354.3" r="1.3" fill="#E4E4E4"/>
<circle cx="234.82" cy="367.6" r="1.3" fill="#E4E4E4"/>
<circle cx="245.98" cy="327.8" r="1.3" fill="#E4E4E4"/>
<circle cx="245.98" cy="340.9" r="1.3" fill="#E4E4E4"/>
<circle cx="245.98" cy="354.3" r="1.3" fill="#E4E4E4"/>
<circle cx="245.98" cy="367.6" r="1.3" fill="#E4E4E4"/>
<circle cx="100.9" cy="367.6" r="1.35" fill="#888888"/>
<circle cx="112.06" cy="354.3" r="1.35" fill="#888888"/>
<circle cx="123.22" cy="340.9" r="1.35" fill="#888888"/>
<line x1="134.38" y1="327.8" x2="134.38" y2="367.6" stroke="#BCA9AD" stroke-width="0.9"/>
<circle cx="134.38" cy="327.8" r="1.35" fill="#888888"/>
<circle cx="134.38" cy="367.6" r="1.35" fill="#888888"/>
<circle cx="145.54" cy="327.8" r="1.35" fill="#888888"/>
<line x1="156.7" y1="340.9" x2="156.7" y2="367.6" stroke="#BCA9AD" stroke-width="0.9"/>
<circle cx="156.7" cy="340.9" r="1.35" fill="#888888"/>
<circle cx="156.7" cy="367.6" r="1.35" fill="#888888"/>
<line x1="167.86" y1="340.9" x2="167.86" y2="354.3" stroke="#BCA9AD" stroke-width="0.9"/>
<circle cx="167.86" cy="340.9" r="1.35" fill="#888888"/>
<circle cx="167.86" cy="354.3" r="1.35" fill="#888888"/>
<line x1="179.02" y1="354.3" x2="179.02" y2="367.6" stroke="#BCA9AD" stroke-width="0.9"/>
<circle cx="179.02" cy="354.3" r="1.35" fill="#888888"/>
<circle cx="179.02" cy="367.6" r="1.35" fill="#888888"/>
<line x1="190.18" y1="327.8" x2="190.18" y2="367.6" stroke="#BCA9AD" stroke-width="0.9"/>
<circle cx="190.18" cy="327.8" r="1.35" fill="#888888"/>
<circle cx="190.18" cy="340.9" r="1.35" fill="#888888"/>
<circle cx="190.18" cy="367.6" r="1.35" fill="#888888"/>
<line x1="201.34" y1="327.8" x2="201.34" y2="340.9" stroke="#BCA9AD" stroke-width="0.9"/>
<circle cx="201.34" cy="327.8" r="1.35" fill="#888888"/>
<circle cx="201.34" cy="340.9" r="1.35" fill="#888888"/>
<line x1="212.5" y1="327.8" x2="212.5" y2="354.3" stroke="#BCA9AD" stroke-width="0.9"/>
<circle cx="212.5" cy="327.8" r="1.35" fill="#888888"/>
<circle cx="212.5" cy="354.3" r="1.35" fill="#888888"/>
<line x1="223.66" y1="327.8" x2="223.66" y2="367.6" stroke="#BCA9AD" stroke-width="0.9"/>
<circle cx="223.66" cy="327.8" r="1.35" fill="#888888"/>
<circle cx="223.66" cy="354.3" r="1.35" fill="#888888"/>
<circle cx="223.66" cy="367.6" r="1.35" fill="#888888"/>
<line x1="234.82" y1="327.8" x2="234.82" y2="354.3" stroke="#BCA9AD" stroke-width="0.9"/>
<circle cx="234.82" cy="327.8" r="1.35" fill="#888888"/>
<circle cx="234.82" cy="340.9" r="1.35" fill="#888888"/>
<circle cx="234.82" cy="354.3" r="1.35" fill="#888888"/>
<line x1="245.98" y1="340.9" x2="245.98" y2="367.6" stroke="#BCA9AD" stroke-width="0.9"/>
<circle cx="245.98" cy="340.9" r="1.35" fill="#888888"/>
<circle cx="245.98" cy="354.3" r="1.35" fill="#888888"/>
<circle cx="245.98" cy="367.6" r="1.35" fill="#888888"/>
<rect x="61.3" y="325.2" width="8.7" height="5.2" fill="#DCC3F2"/>
<text x="80.3" y="329.3" font-size="4.4" text-anchor="middle" fill="#222" font-family="Liberation Sans, sans-serif"  stroke="#222" stroke-width="0.1">TajimaD</text>
<rect x="57.2" y="338.3" width="12.8" height="5.2" fill="#B3E8BF"/>
<text x="80.3" y="342.4" font-size="4.4" text-anchor="middle" fill="#222" font-family="Liberation Sans, sans-serif"  stroke="#222" stroke-width="0.1">CLR</text>
<rect x="55.4" y="351.7" width="14.6" height="5.2" fill="#AECAEF"/>
<text x="80.3" y="355.8" font-size="4.4" text-anchor="middle" fill="#222" font-family="Liberation Sans, sans-serif"  stroke="#222" stroke-width="0.1">IHS</text>
<rect x="21.5" y="365" width="48.5" height="5.2" fill="#FDB5A6"/>
<text x="80.3" y="369.1" font-size="4.4" text-anchor="middle" fill="#222" font-family="Liberation Sans, sans-serif"  stroke="#222" stroke-width="0.1">PI</text>
<line x1="19.5" y1="374.3" x2="72" y2="374.3" stroke="#777" stroke-width="0.6"/>
<line x1="21.6" y1="374.1" x2="21.6" y2="375.3" stroke="#888" stroke-width="0.4"/>
<text x="21.6" y="377.6" font-size="2.1" text-anchor="middle" fill="#aaa" font-family="Liberation Sans, sans-serif" >2500</text>
<line x1="31.28" y1="374.1" x2="31.28" y2="375.3" stroke="#888" stroke-width="0.4"/>
<text x="31.28" y="377.6" font-size="2.1" text-anchor="middle" fill="#aaa" font-family="Liberation Sans, sans-serif" >2000</text>
<line x1="40.96" y1="374.1" x2="40.96" y2="375.3" stroke="#888" stroke-width="0.4"/>
<text x="40.96" y="377.6" font-size="2.1" text-anchor="middle" fill="#aaa" font-family="Liberation Sans, sans-serif" >1500</text>
<line x1="50.64" y1="374.1" x2="50.64" y2="375.3" stroke="#888" stroke-width="0.4"/>
<text x="50.64" y="377.6" font-size="2.1" text-anchor="middle" fill="#aaa" font-family="Liberation Sans, sans-serif" >1000</text>
<line x1="60.32" y1="374.1" x2="60.32" y2="375.3" stroke="#888" stroke-width="0.4"/>
<text x="60.32" y="377.6" font-size="2.1" text-anchor="middle" fill="#aaa" font-family="Liberation Sans, sans-serif" >500</text>
<line x1="70" y1="374.1" x2="70" y2="375.3" stroke="#888" stroke-width="0.4"/>
<text x="70" y="377.6" font-size="2.1" text-anchor="middle" fill="#aaa" font-family="Liberation Sans, sans-serif" >0</text>
<text x="45.8" y="382.8" font-size="5" text-anchor="middle" fill="#222" font-family="Liberation Sans, sans-serif"  stroke="#222" stroke-width="0.1">Set Size</text>
<text x="5.5" y="393.3" font-size="9.5" text-anchor="middle" fill="#555" font-family="Liberation Serif, serif" >C</text>
<rect x="103.2" y="394.3" width="107.4" height="186.3" fill="#fff" stroke="#9a9a9a" stroke-width="0.7"/>
<line x1="114" y1="394.3" x2="114" y2="580.6" stroke="#F2F2F2" stroke-width="0.4"/>
<line x1="141.4" y1="394.3" x2="141.4" y2="580.6" stroke="#F2F2F2" stroke-width="0.4"/>
<line x1="168.8" y1="394.3" x2="168.8" y2="580.6" stroke="#F2F2F2" stroke-width="0.4"/>
<line x1="196.2" y1="394.3" x2="196.2" y2="580.6" stroke="#F2F2F2" stroke-width="0.4"/>
<line x1="127.7" y1="394.3" x2="127.7" y2="580.6" stroke="#E6E6E6" stroke-width="0.5"/>
<line x1="155.1" y1="394.3" x2="155.1" y2="580.6" stroke="#E6E6E6" stroke-width="0.5"/>
<line x1="182.5" y1="394.3" x2="182.5" y2="580.6" stroke="#E6E6E6" stroke-width="0.5"/>
<line x1="103.2" y1="405.1" x2="210.6" y2="405.1" stroke="#E6E6E6" stroke-width="0.5"/>
<line x1="101.9" y1="405.1" x2="103.2" y2="405.1" stroke="#444" stroke-width="0.5"/>
<text x="101.4" y="406.9" font-size="5" text-anchor="end" fill="#222" font-family="Liberation Sans, sans-serif"  stroke="#222" stroke-width="0.1">MicroRNAs in cancer</text>
<line x1="103.2" y1="423.45" x2="210.6" y2="423.45" stroke="#E6E6E6" stroke-width="0.5"/>
<line x1="101.9" y1="423.45" x2="103.2" y2="423.45" stroke="#444" stroke-width="0.5"/>
<text x="101.4" y="425.25" font-size="5" text-anchor="end" fill="#222" font-family="Liberation Sans, sans-serif"  stroke="#222" stroke-width="0.1">Bladder cancer</text>
<line x1="103.2" y1="441.8" x2="210.6" y2="441.8" stroke="#E6E6E6" stroke-width="0.5"/>
<line x1="101.9" y1="441.8" x2="103.2" y2="441.8" stroke="#444" stroke-width="0.5"/>
<text x="101.4" y="443.6" font-size="5" text-anchor="end" fill="#222" font-family="Liberation Sans, sans-serif"  stroke="#222" stroke-width="0.1">Hedgehog signaling pathway</text>
<line x1="103.2" y1="460.15" x2="210.6" y2="460.15" stroke="#E6E6E6" stroke-width="0.5"/>
<line x1="101.9" y1="460.15" x2="103.2" y2="460.15" stroke="#444" stroke-width="0.5"/>
<text x="101.4" y="456.55" font-size="5" text-anchor="end" fill="#222" font-family="Liberation Sans, sans-serif"  stroke="#222" stroke-width="0.1">Parathyroid hormone</text>
<text x="101.4" y="461.95" font-size="5" text-anchor="end" fill="#222" font-family="Liberation Sans, sans-serif"  stroke="#222" stroke-width="0.1">synthesis, secretion and</text>
<text x="101.4" y="467.35" font-size="5" text-anchor="end" fill="#222" font-family="Liberation Sans, sans-serif"  stroke="#222" stroke-width="0.1">action</text>
<line x1="103.2" y1="478.5" x2="210.6" y2="478.5" stroke="#E6E6E6" stroke-width="0.5"/>
<line x1="101.9" y1="478.5" x2="103.2" y2="478.5" stroke="#444" stroke-width="0.5"/>
<text x="101.4" y="480.3" font-size="5" text-anchor="end" fill="#222" font-family="Liberation Sans, sans-serif"  stroke="#222" stroke-width="0.1">Neurotrophin signaling pathway</text>
<line x1="103.2" y1="496.85" x2="210.6" y2="496.85" stroke="#E6E6E6" stroke-width="0.5"/>
<line x1="101.9" y1="496.85" x2="103.2" y2="496.85" stroke="#444" stroke-width="0.5"/>
<text x="101.4" y="498.65" font-size="5" text-anchor="end" fill="#222" font-family="Liberation Sans, sans-serif"  stroke="#222" stroke-width="0.1">Insulin signaling pathway</text>
<line x1="103.2" y1="515.2" x2="210.6" y2="515.2" stroke="#E6E6E6" stroke-width="0.5"/>
<line x1="101.9" y1="515.2" x2="103.2" y2="515.2" stroke="#444" stroke-width="0.5"/>
<text x="101.4" y="517" font-size="5" text-anchor="end" fill="#222" font-family="Liberation Sans, sans-serif"  stroke="#222" stroke-width="0.1">mTOR signaling pathway</text>
<line x1="103.2" y1="533.55" x2="210.6" y2="533.55" stroke="#E6E6E6" stroke-width="0.5"/>
<line x1="101.9" y1="533.55" x2="103.2" y2="533.55" stroke="#444" stroke-width="0.5"/>
<text x="101.4" y="535.35" font-size="5" text-anchor="end" fill="#222" font-family="Liberation Sans, sans-serif"  stroke="#222" stroke-width="0.1">cAMP signaling pathway</text>
<line x1="103.2" y1="551.9" x2="210.6" y2="551.9" stroke="#E6E6E6" stroke-width="0.5"/>
<line x1="101.9" y1="551.9" x2="103.2" y2="551.9" stroke="#444" stroke-width="0.5"/>
<text x="101.4" y="553.7" font-size="5" text-anchor="end" fill="#222" font-family="Liberation Sans, sans-serif"  stroke="#222" stroke-width="0.1">Glycosaminoglycan degradation</text>
<line x1="103.2" y1="570.25" x2="210.6" y2="570.25" stroke="#E6E6E6" stroke-width="0.5"/>
<line x1="101.9" y1="570.25" x2="103.2" y2="570.25" stroke="#444" stroke-width="0.5"/>
<text x="101.4" y="572.05" font-size="5" text-anchor="end" fill="#222" font-family="Liberation Sans, sans-serif"  stroke="#222" stroke-width="0.1">Autophagy - other</text>
<circle cx="206" cy="405.1" r="3.8" fill="#EE5A5E" stroke="#333" stroke-width="0.35"/>
<circle cx="157.09" cy="423.45" r="2.95" fill="#EC5B60" stroke="#333" stroke-width="0.35"/>
<circle cx="157.09" cy="441.8" r="2.95" fill="#E85C62" stroke="#333" stroke-width="0.35"/>
<circle cx="157.09" cy="460.15" r="2.95" fill="#E25D66" stroke="#333" stroke-width="0.35"/>
<circle cx="157.09" cy="478.5" r="2.95" fill="#DC5E69" stroke="#333" stroke-width="0.35"/>
<circle cx="157.09" cy="496.85" r="2.95" fill="#D4606E" stroke="#333" stroke-width="0.35"/>
<circle cx="157.09" cy="515.2" r="2.95" fill="#B8667E" stroke="#333" stroke-width="0.35"/>
<circle cx="157.09" cy="533.55" r="2.95" fill="#1F6BB8" stroke="#333" stroke-width="0.35"/>
<circle cx="108.11" cy="551.9" r="1.75" fill="#715A8C" stroke="#333" stroke-width="0.35"/>
<circle cx="108.11" cy="570.25" r="1.75" fill="#1666C2" stroke="#333" stroke-width="0.35"/>
<line x1="127.7" y1="580.6" x2="127.7" y2="581.9" stroke="#444" stroke-width="0.5"/>
<text x="127.7" y="587" font-size="5" text-anchor="middle" fill="#333" font-family="Liberation Sans, sans-serif"  stroke="#333" stroke-width="0.1">0.10</text>
<line x1="155.1" y1="580.6" x2="155.1" y2="581.9" stroke="#444" stroke-width="0.5"/>
<text x="155.1" y="587" font-size="5" text-anchor="middle" fill="#333" font-family="Liberation Sans, sans-serif"  stroke="#333" stroke-width="0.1">0.14</text>
<line x1="182.5" y1="580.6" x2="182.5" y2="581.9" stroke="#444" stroke-width="0.5"/>
<text x="182.5" y="587" font-size="5" text-anchor="middle" fill="#333" font-family="Liberation Sans, sans-serif"  stroke="#333" stroke-width="0.1">0.18</text>
<line x1="209.9" y1="580.6" x2="209.9" y2="581.9" stroke="#444" stroke-width="0.5"/>
<text x="209.9" y="587" font-size="5" text-anchor="middle" fill="#333" font-family="Liberation Sans, sans-serif"  stroke="#333" stroke-width="0.1">0.22</text>
<text x="157.4" y="594.2" font-size="5.3" text-anchor="middle" fill="#222" font-family="Liberation Sans, sans-serif"  stroke="#222" stroke-width="0.1">GeneRatio</text>
<text x="103.8" y="390.9" font-size="5.5" text-anchor="start" fill="#222" font-family="Liberation Sans, sans-serif"  stroke="#222" stroke-width="0.1">Top 10 KEGG Pathways</text>
<text x="217.9" y="441.7" font-size="4.7" text-anchor="start" fill="#222" font-family="Liberation Sans, sans-serif"  stroke="#222" stroke-width="0.1">p.adjust</text>
<defs><linearGradient id="gC" x1="0" y1="0" x2="0" y2="1"><stop offset="0" stop-color="#F25A63"/><stop offset="0.5" stop-color="#B0607F"/><stop offset="1" stop-color="#1C74C2"/></linearGradient>
<linearGradient id="gD" x1="0" y1="0" x2="0" y2="1"><stop offset="0" stop-color="#F25A63"/><stop offset="0.5" stop-color="#A86492"/><stop offset="1" stop-color="#1C74C2"/></linearGradient></defs>
<rect x="218.3" y="445" width="6.3" height="35.4" fill="url(#gC)"/>
<text x="227.2" y="452.25" font-size="3.5" text-anchor="start" fill="#333" font-family="Liberation Sans, sans-serif"  stroke="#333" stroke-width="0.1">0.01</text>
<text x="227.2" y="459.7" font-size="3.5" text-anchor="start" fill="#333" font-family="Liberation Sans, sans-serif"  stroke="#333" stroke-width="0.1">0.02</text>
<text x="227.2" y="467.15" font-size="3.5" text-anchor="start" fill="#333" font-family="Liberation Sans, sans-serif"  stroke="#333" stroke-width="0.1">0.03</text>
<text x="227.2" y="474.6" font-size="3.5" text-anchor="start" fill="#333" font-family="Liberation Sans, sans-serif"  stroke="#333" stroke-width="0.1">0.04</text>
<text x="227.2" y="482.05" font-size="3.5" text-anchor="start" fill="#333" font-family="Liberation Sans, sans-serif"  stroke="#333" stroke-width="0.1">0.05</text>
<text x="218.2" y="494.7" font-size="4.6" text-anchor="start" fill="#222" font-family="Liberation Sans, sans-serif"  stroke="#222" stroke-width="0.1">Count</text>
<circle cx="222.7" cy="500.5" r="1.5" fill="none" stroke="#333" stroke-width="0.4"/>
<text x="229.9" y="502.1" font-size="3.5" text-anchor="start" fill="#333" font-family="Liberation Sans, sans-serif"  stroke="#333" stroke-width="0.1">1.0</text>
<circle cx="222.7" cy="507.8" r="2.6" fill="none" stroke="#333" stroke-width="0.4"/>
<text x="229.9" y="509.4" font-size="3.5" text-anchor="start" fill="#333" font-family="Liberation Sans, sans-serif"  stroke="#333" stroke-width="0.1">1.5</text>
<circle cx="222.7" cy="515.2" r="3" fill="none" stroke="#333" stroke-width="0.4"/>
<text x="229.9" y="516.8" font-size="3.5" text-anchor="start" fill="#333" font-family="Liberation Sans, sans-serif"  stroke="#333" stroke-width="0.1">2.0</text>
<circle cx="222.7" cy="523.2" r="3.3" fill="none" stroke="#333" stroke-width="0.4"/>
<text x="229.9" y="524.8" font-size="3.5" text-anchor="start" fill="#333" font-family="Liberation Sans, sans-serif"  stroke="#333" stroke-width="0.1">2.5</text>
<circle cx="222.7" cy="532.4" r="3.7" fill="none" stroke="#333" stroke-width="0.4"/>
<text x="229.9" y="534" font-size="3.5" text-anchor="start" fill="#333" font-family="Liberation Sans, sans-serif"  stroke="#333" stroke-width="0.1">3.0</text>
<text x="288.4" y="239.7" font-size="9.5" text-anchor="middle" fill="#555" font-family="Liberation Serif, serif" >D</text>
<rect x="328.6" y="236.4" width="193.6" height="114.2" fill="#fff"/>
<line x1="359.49" y1="236.4" x2="359.49" y2="350.6" stroke="#F4F4F4" stroke-width="0.4"/>
<line x1="403.66" y1="236.4" x2="403.66" y2="350.6" stroke="#F4F4F4" stroke-width="0.4"/>
<line x1="447.84" y1="236.4" x2="447.84" y2="350.6" stroke="#F4F4F4" stroke-width="0.4"/>
<line x1="492.01" y1="236.4" x2="492.01" y2="350.6" stroke="#F4F4F4" stroke-width="0.4"/>
<line x1="337.4" y1="236.4" x2="337.4" y2="350.6" stroke="#EBEBEB" stroke-width="0.5"/>
<line x1="381.57" y1="236.4" x2="381.57" y2="350.6" stroke="#EBEBEB" stroke-width="0.5"/>
<line x1="425.75" y1="236.4" x2="425.75" y2="350.6" stroke="#EBEBEB" stroke-width="0.5"/>
<line x1="469.92" y1="236.4" x2="469.92" y2="350.6" stroke="#EBEBEB" stroke-width="0.5"/>
<line x1="514.1" y1="236.4" x2="514.1" y2="350.6" stroke="#EBEBEB" stroke-width="0.5"/>
<line x1="328.6" y1="243.12" x2="522.2" y2="243.12" stroke="#EBEBEB" stroke-width="0.5"/>
<rect x="337.4" y="238.3" width="176.7" height="9.63" fill="#FF6267"/>
<line x1="327.4" y1="243.12" x2="328.6" y2="243.12" stroke="#444" stroke-width="0.5"/>
<text x="326.8" y="244.42" font-size="3.85" text-anchor="end" fill="#222" font-family="Liberation Sans, sans-serif"  stroke="#222" stroke-width="0.1">cell growth</text>
<line x1="328.6" y1="254.31" x2="522.2" y2="254.31" stroke="#EBEBEB" stroke-width="0.5"/>
<rect x="337.4" y="249.5" width="176.7" height="9.63" fill="#FF6267"/>
<line x1="327.4" y1="254.31" x2="328.6" y2="254.31" stroke="#444" stroke-width="0.5"/>
<text x="326.8" y="255.61" font-size="3.85" text-anchor="end" fill="#222" font-family="Liberation Sans, sans-serif"  stroke="#222" stroke-width="0.1">growth</text>
<line x1="328.6" y1="265.51" x2="522.2" y2="265.51" stroke="#EBEBEB" stroke-width="0.5"/>
<rect x="337.4" y="260.7" width="88.35" height="9.63" fill="#E3637A"/>
<line x1="327.4" y1="265.51" x2="328.6" y2="265.51" stroke="#444" stroke-width="0.5"/>
<text x="326.8" y="266.81" font-size="3.85" text-anchor="end" fill="#222" font-family="Liberation Sans, sans-serif"  stroke="#222" stroke-width="0.1">store-operated calcium entry</text>
<line x1="328.6" y1="276.71" x2="522.2" y2="276.71" stroke="#EBEBEB" stroke-width="0.5"/>
<rect x="337.4" y="271.89" width="88.35" height="9.63" fill="#E3637A"/>
<line x1="327.4" y1="276.71" x2="328.6" y2="276.71" stroke="#444" stroke-width="0.5"/>
<text x="326.8" y="278.01" font-size="3.85" text-anchor="end" fill="#222" font-family="Liberation Sans, sans-serif"  stroke="#222" stroke-width="0.1">synaptic vesicle priming</text>
<line x1="328.6" y1="287.9" x2="522.2" y2="287.9" stroke="#EBEBEB" stroke-width="0.5"/>
<rect x="337.4" y="283.09" width="88.35" height="9.63" fill="#E3637A"/>
<line x1="327.4" y1="287.9" x2="328.6" y2="287.9" stroke="#444" stroke-width="0.5"/>
<text x="326.8" y="287.15" font-size="3.85" text-anchor="end" fill="#222" font-family="Liberation Sans, sans-serif"  stroke="#222" stroke-width="0.1">positive regulation of cell</text>
<text x="326.8" y="291.25" font-size="3.85" text-anchor="end" fill="#222" font-family="Liberation Sans, sans-serif"  stroke="#222" stroke-width="0.1">growth</text>
<line x1="328.6" y1="299.1" x2="522.2" y2="299.1" stroke="#EBEBEB" stroke-width="0.5"/>
<rect x="337.4" y="294.28" width="88.35" height="9.63" fill="#E3637A"/>
<line x1="327.4" y1="299.1" x2="328.6" y2="299.1" stroke="#444" stroke-width="0.5"/>
<text x="326.8" y="300.4" font-size="3.85" text-anchor="end" fill="#222" font-family="Liberation Sans, sans-serif"  stroke="#222" stroke-width="0.1">RNA decapping</text>
<line x1="328.6" y1="310.29" x2="522.2" y2="310.29" stroke="#EBEBEB" stroke-width="0.5"/>
<rect x="337.4" y="305.48" width="88.35" height="9.63" fill="#E3637A"/>
<line x1="327.4" y1="310.29" x2="328.6" y2="310.29" stroke="#444" stroke-width="0.5"/>
<text x="326.8" y="309.54" font-size="3.85" text-anchor="end" fill="#222" font-family="Liberation Sans, sans-serif"  stroke="#222" stroke-width="0.1">positive regulation of</text>
<text x="326.8" y="313.64" font-size="3.85" text-anchor="end" fill="#222" font-family="Liberation Sans, sans-serif"  stroke="#222" stroke-width="0.1">cation channel activity</text>
<line x1="328.6" y1="321.49" x2="522.2" y2="321.49" stroke="#EBEBEB" stroke-width="0.5"/>
<rect x="337.4" y="316.68" width="88.35" height="9.63" fill="#E3637A"/>
<line x1="327.4" y1="321.49" x2="328.6" y2="321.49" stroke="#444" stroke-width="0.5"/>
<text x="326.8" y="320.74" font-size="3.85" text-anchor="end" fill="#222" font-family="Liberation Sans, sans-serif"  stroke="#222" stroke-width="0.1">purine nucleobase metabolic</text>
<text x="326.8" y="324.84" font-size="3.85" text-anchor="end" fill="#222" font-family="Liberation Sans, sans-serif"  stroke="#222" stroke-width="0.1">process</text>
<line x1="328.6" y1="332.69" x2="522.2" y2="332.69" stroke="#EBEBEB" stroke-width="0.5"/>
<rect x="337.4" y="327.87" width="88.35" height="9.63" fill="#E3637A"/>
<line x1="327.4" y1="332.69" x2="328.6" y2="332.69" stroke="#444" stroke-width="0.5"/>
<text x="326.8" y="333.99" font-size="3.85" text-anchor="end" fill="#222" font-family="Liberation Sans, sans-serif"  stroke="#222" stroke-width="0.1">positive regulation of growth</text>
<line x1="328.6" y1="343.88" x2="522.2" y2="343.88" stroke="#EBEBEB" stroke-width="0.5"/>
<rect x="337.4" y="339.07" width="88.35" height="9.63" fill="#E3637A"/>
<line x1="327.4" y1="343.88" x2="328.6" y2="343.88" stroke="#444" stroke-width="0.5"/>
<text x="326.8" y="343.13" font-size="3.85" text-anchor="end" fill="#222" font-family="Liberation Sans, sans-serif"  stroke="#222" stroke-width="0.1">calcium ion-regulated</text>
<text x="326.8" y="347.23" font-size="3.85" text-anchor="end" fill="#222" font-family="Liberation Sans, sans-serif"  stroke="#222" stroke-width="0.1">exocytosis of neurotransmitter</text>
<rect x="328.6" y="236.4" width="193.6" height="114.2" fill="none" stroke="#b5b5b5" stroke-width="0.7"/>
<rect x="522.2" y="236.4" width="6.6" height="114.2" fill="#D8D8D8" stroke="#A3A8A8" stroke-width="0.6"/>
<text x="524.6" y="293.5" font-size="3.6" text-anchor="middle" fill="#222" font-family="Liberation Sans, sans-serif" transform="rotate(90 524.6 293.5)" dominant-baseline="central" stroke="#222" stroke-width="0.1">BP</text>
<rect x="328.6" y="353" width="193.6" height="114.2" fill="#fff"/>
<line x1="359.49" y1="353" x2="359.49" y2="467.2" stroke="#F4F4F4" stroke-width="0.4"/>
<line x1="403.66" y1="353" x2="403.66" y2="467.2" stroke="#F4F4F4" stroke-width="0.4"/>
<line x1="447.84" y1="353" x2="447.84" y2="467.2" stroke="#F4F4F4" stroke-width="0.4"/>
<line x1="492.01" y1="353" x2="492.01" y2="467.2" stroke="#F4F4F4" stroke-width="0.4"/>
<line x1="337.4" y1="353" x2="337.4" y2="467.2" stroke="#EBEBEB" stroke-width="0.5"/>
<line x1="381.57" y1="353" x2="381.57" y2="467.2" stroke="#EBEBEB" stroke-width="0.5"/>
<line x1="425.75" y1="353" x2="425.75" y2="467.2" stroke="#EBEBEB" stroke-width="0.5"/>
<line x1="469.92" y1="353" x2="469.92" y2="467.2" stroke="#EBEBEB" stroke-width="0.5"/>
<line x1="514.1" y1="353" x2="514.1" y2="467.2" stroke="#EBEBEB" stroke-width="0.5"/>
<line x1="328.6" y1="359.72" x2="522.2" y2="359.72" stroke="#EBEBEB" stroke-width="0.5"/>
<rect x="337.4" y="354.9" width="176.7" height="9.63" fill="#FF605E"/>
<line x1="327.4" y1="359.72" x2="328.6" y2="359.72" stroke="#444" stroke-width="0.5"/>
<text x="326.8" y="361.02" font-size="3.85" text-anchor="end" fill="#222" font-family="Liberation Sans, sans-serif"  stroke="#222" stroke-width="0.1">cytoplasmic region</text>
<line x1="328.6" y1="370.91" x2="522.2" y2="370.91" stroke="#EBEBEB" stroke-width="0.5"/>
<rect x="337.4" y="366.1" width="176.7" height="9.63" fill="#F8616E"/>
<line x1="327.4" y1="370.91" x2="328.6" y2="370.91" stroke="#444" stroke-width="0.5"/>
<text x="326.8" y="372.21" font-size="3.85" text-anchor="end" fill="#222" font-family="Liberation Sans, sans-serif"  stroke="#222" stroke-width="0.1">axon</text>
<line x1="328.6" y1="382.11" x2="522.2" y2="382.11" stroke="#EBEBEB" stroke-width="0.5"/>
<rect x="337.4" y="377.3" width="88.35" height="9.63" fill="#E0667A"/>
<line x1="327.4" y1="382.11" x2="328.6" y2="382.11" stroke="#444" stroke-width="0.5"/>
<text x="326.8" y="381.36" font-size="3.85" text-anchor="end" fill="#222" font-family="Liberation Sans, sans-serif"  stroke="#222" stroke-width="0.1">presynaptic active zone</text>
<text x="326.8" y="385.46" font-size="3.85" text-anchor="end" fill="#222" font-family="Liberation Sans, sans-serif"  stroke="#222" stroke-width="0.1">cytoplasmic component</text>
<line x1="328.6" y1="393.31" x2="522.2" y2="393.31" stroke="#EBEBEB" stroke-width="0.5"/>
<rect x="337.4" y="388.49" width="88.35" height="9.63" fill="#DC6878"/>
<line x1="327.4" y1="393.31" x2="328.6" y2="393.31" stroke="#444" stroke-width="0.5"/>
<text x="326.8" y="394.61" font-size="3.85" text-anchor="end" fill="#222" font-family="Liberation Sans, sans-serif"  stroke="#222" stroke-width="0.1">TRAPP complex</text>
<line x1="328.6" y1="404.5" x2="522.2" y2="404.5" stroke="#EBEBEB" stroke-width="0.5"/>
<rect x="337.4" y="399.69" width="88.35" height="9.63" fill="#D8697A"/>
<line x1="327.4" y1="404.5" x2="328.6" y2="404.5" stroke="#444" stroke-width="0.5"/>
<text x="326.8" y="405.8" font-size="3.85" text-anchor="end" fill="#222" font-family="Liberation Sans, sans-serif"  stroke="#222" stroke-width="0.1">terminal bouton</text>
<line x1="328.6" y1="415.7" x2="522.2" y2="415.7" stroke="#EBEBEB" stroke-width="0.5"/>
<rect x="337.4" y="410.88" width="88.35" height="9.63" fill="#D6697A"/>
<line x1="327.4" y1="415.7" x2="328.6" y2="415.7" stroke="#444" stroke-width="0.5"/>
<text x="326.8" y="417" font-size="3.85" text-anchor="end" fill="#222" font-family="Liberation Sans, sans-serif"  stroke="#222" stroke-width="0.1">neuromuscular junction</text>
<line x1="328.6" y1="426.89" x2="522.2" y2="426.89" stroke="#EBEBEB" stroke-width="0.5"/>
<rect x="337.4" y="422.08" width="88.35" height="9.63" fill="#D26B7C"/>
<line x1="327.4" y1="426.89" x2="328.6" y2="426.89" stroke="#444" stroke-width="0.5"/>
<text x="326.8" y="428.19" font-size="3.85" text-anchor="end" fill="#222" font-family="Liberation Sans, sans-serif"  stroke="#222" stroke-width="0.1">cell cortex region</text>
<line x1="328.6" y1="438.09" x2="522.2" y2="438.09" stroke="#EBEBEB" stroke-width="0.5"/>
<rect x="337.4" y="433.28" width="88.35" height="9.63" fill="#B06D8E"/>
<line x1="327.4" y1="438.09" x2="328.6" y2="438.09" stroke="#444" stroke-width="0.5"/>
<text x="326.8" y="439.39" font-size="3.85" text-anchor="end" fill="#222" font-family="Liberation Sans, sans-serif"  stroke="#222" stroke-width="0.1">axon terminus</text>
<line x1="328.6" y1="449.29" x2="522.2" y2="449.29" stroke="#EBEBEB" stroke-width="0.5"/>
<rect x="337.4" y="444.47" width="88.35" height="9.63" fill="#A86E90"/>
<line x1="327.4" y1="449.29" x2="328.6" y2="449.29" stroke="#444" stroke-width="0.5"/>
<text x="326.8" y="450.59" font-size="3.85" text-anchor="end" fill="#222" font-family="Liberation Sans, sans-serif"  stroke="#222" stroke-width="0.1">neuron projection terminus</text>
<line x1="328.6" y1="460.48" x2="522.2" y2="460.48" stroke="#EBEBEB" stroke-width="0.5"/>
<rect x="337.4" y="455.67" width="88.35" height="9.63" fill="#9C7398"/>
<line x1="327.4" y1="460.48" x2="328.6" y2="460.48" stroke="#444" stroke-width="0.5"/>
<text x="326.8" y="461.78" font-size="3.85" text-anchor="end" fill="#222" font-family="Liberation Sans, sans-serif"  stroke="#222" stroke-width="0.1">synaptic vesicle membrane</text>
<rect x="328.6" y="353" width="193.6" height="114.2" fill="none" stroke="#b5b5b5" stroke-width="0.7"/>
<rect x="522.2" y="353" width="6.6" height="114.2" fill="#D8D8D8" stroke="#A3A8A8" stroke-width="0.6"/>
<text x="524.6" y="410.1" font-size="3.6" text-anchor="middle" fill="#222" font-family="Liberation Sans, sans-serif" transform="rotate(90 524.6 410.1)" dominant-baseline="central" stroke="#222" stroke-width="0.1">CC</text>
<rect x="328.6" y="469.6" width="193.6" height="114.2" fill="#fff"/>
<line x1="359.49" y1="469.6" x2="359.49" y2="583.8" stroke="#F4F4F4" stroke-width="0.4"/>
<line x1="403.66" y1="469.6" x2="403.66" y2="583.8" stroke="#F4F4F4" stroke-width="0.4"/>
<line x1="447.84" y1="469.6" x2="447.84" y2="583.8" stroke="#F4F4F4" stroke-width="0.4"/>
<line x1="492.01" y1="469.6" x2="492.01" y2="583.8" stroke="#F4F4F4" stroke-width="0.4"/>
<line x1="337.4" y1="469.6" x2="337.4" y2="583.8" stroke="#EBEBEB" stroke-width="0.5"/>
<line x1="381.57" y1="469.6" x2="381.57" y2="583.8" stroke="#EBEBEB" stroke-width="0.5"/>
<line x1="425.75" y1="469.6" x2="425.75" y2="583.8" stroke="#EBEBEB" stroke-width="0.5"/>
<line x1="469.92" y1="469.6" x2="469.92" y2="583.8" stroke="#EBEBEB" stroke-width="0.5"/>
<line x1="514.1" y1="469.6" x2="514.1" y2="583.8" stroke="#EBEBEB" stroke-width="0.5"/>
<line x1="328.6" y1="482.78" x2="522.2" y2="482.78" stroke="#EBEBEB" stroke-width="0.5"/>
<rect x="337.4" y="473.33" width="88.35" height="18.89" fill="#EC627A"/>
<line x1="327.4" y1="482.78" x2="328.6" y2="482.78" stroke="#444" stroke-width="0.5"/>
<text x="326.8" y="482.03" font-size="3.85" text-anchor="end" fill="#222" font-family="Liberation Sans, sans-serif"  stroke="#222" stroke-width="0.1">calcium channel regulator</text>
<text x="326.8" y="486.13" font-size="3.85" text-anchor="end" fill="#222" font-family="Liberation Sans, sans-serif"  stroke="#222" stroke-width="0.1">activity</text>
<line x1="328.6" y1="504.74" x2="522.2" y2="504.74" stroke="#EBEBEB" stroke-width="0.5"/>
<rect x="337.4" y="495.3" width="88.35" height="18.89" fill="#E5637B"/>
<line x1="327.4" y1="504.74" x2="328.6" y2="504.74" stroke="#444" stroke-width="0.5"/>
<text x="326.8" y="503.99" font-size="3.85" text-anchor="end" fill="#222" font-family="Liberation Sans, sans-serif"  stroke="#222" stroke-width="0.1">sulfuric ester hydrolase</text>
<text x="326.8" y="508.09" font-size="3.85" text-anchor="end" fill="#222" font-family="Liberation Sans, sans-serif"  stroke="#222" stroke-width="0.1">activity</text>
<line x1="328.6" y1="526.7" x2="522.2" y2="526.7" stroke="#EBEBEB" stroke-width="0.5"/>
<rect x="337.4" y="517.26" width="88.35" height="18.89" fill="#7C70A8"/>
<line x1="327.4" y1="526.7" x2="328.6" y2="526.7" stroke="#444" stroke-width="0.5"/>
<text x="326.8" y="528" font-size="3.85" text-anchor="end" fill="#222" font-family="Liberation Sans, sans-serif"  stroke="#222" stroke-width="0.1">syntaxin binding</text>
<line x1="328.6" y1="548.66" x2="522.2" y2="548.66" stroke="#EBEBEB" stroke-width="0.5"/>
<rect x="337.4" y="539.22" width="88.35" height="18.89" fill="#4A79C1"/>
<line x1="327.4" y1="548.66" x2="328.6" y2="548.66" stroke="#444" stroke-width="0.5"/>
<text x="326.8" y="549.96" font-size="3.85" text-anchor="end" fill="#222" font-family="Liberation Sans, sans-serif"  stroke="#222" stroke-width="0.1">pentosyltransferase activity</text>
<line x1="328.6" y1="570.62" x2="522.2" y2="570.62" stroke="#EBEBEB" stroke-width="0.5"/>
<rect x="337.4" y="561.18" width="88.35" height="18.89" fill="#1A72C1"/>
<line x1="327.4" y1="570.62" x2="328.6" y2="570.62" stroke="#444" stroke-width="0.5"/>
<text x="326.8" y="571.92" font-size="3.85" text-anchor="end" fill="#222" font-family="Liberation Sans, sans-serif"  stroke="#222" stroke-width="0.1">ion channel regulator activity</text>
<rect x="328.6" y="469.6" width="193.6" height="114.2" fill="none" stroke="#b5b5b5" stroke-width="0.7"/>
<rect x="522.2" y="469.6" width="6.6" height="114.2" fill="#D8D8D8" stroke="#A3A8A8" stroke-width="0.6"/>
<text x="524.6" y="526.7" font-size="3.6" text-anchor="middle" fill="#222" font-family="Liberation Sans, sans-serif" transform="rotate(90 524.6 526.7)" dominant-baseline="central" stroke="#222" stroke-width="0.1">MF</text>
<line x1="337.4" y1="583.8" x2="337.4" y2="585" stroke="#444" stroke-width="0.5"/>
<text x="337.4" y="588.9" font-size="3.6" text-anchor="middle" fill="#333" font-family="Liberation Sans, sans-serif"  stroke="#333" stroke-width="0.1">0.0</text>
<line x1="381.57" y1="583.8" x2="381.57" y2="585" stroke="#444" stroke-width="0.5"/>
<text x="381.57" y="588.9" font-size="3.6" text-anchor="middle" fill="#333" font-family="Liberation Sans, sans-serif"  stroke="#333" stroke-width="0.1">0.5</text>
<line x1="425.75" y1="583.8" x2="425.75" y2="585" stroke="#444" stroke-width="0.5"/>
<text x="425.75" y="588.9" font-size="3.6" text-anchor="middle" fill="#333" font-family="Liberation Sans, sans-serif"  stroke="#333" stroke-width="0.1">1.0</text>
<line x1="469.92" y1="583.8" x2="469.92" y2="585" stroke="#444" stroke-width="0.5"/>
<text x="469.92" y="588.9" font-size="3.6" text-anchor="middle" fill="#333" font-family="Liberation Sans, sans-serif"  stroke="#333" stroke-width="0.1">1.5</text>
<line x1="514.1" y1="583.8" x2="514.1" y2="585" stroke="#444" stroke-width="0.5"/>
<text x="514.1" y="588.9" font-size="3.6" text-anchor="middle" fill="#333" font-family="Liberation Sans, sans-serif"  stroke="#333" stroke-width="0.1">2.0</text>
<text x="425.7" y="594.6" font-size="3.8" text-anchor="middle" fill="#222" font-family="Liberation Sans, sans-serif"  stroke="#222" stroke-width="0.1">Count</text>
<text x="533.6" y="397" font-size="3.4" text-anchor="start" fill="#222" font-family="Liberation Sans, sans-serif"  stroke="#222" stroke-width="0.1">p.adjust</text>
<rect x="533.6" y="399.1" width="5.2" height="26.7" fill="url(#gD)"/>
<text x="540.6" y="407.2" font-size="2.6" text-anchor="start" fill="#333" font-family="Liberation Sans, sans-serif"  stroke="#333" stroke-width="0.1">0.02</text>
<text x="540.6" y="414.5" font-size="2.6" text-anchor="start" fill="#333" font-family="Liberation Sans, sans-serif"  stroke="#333" stroke-width="0.1">0.04</text>
<text x="540.6" y="422.4" font-size="2.6" text-anchor="start" fill="#333" font-family="Liberation Sans, sans-serif"  stroke="#333" stroke-width="0.1">0.06</text>
</svg></body></html>
